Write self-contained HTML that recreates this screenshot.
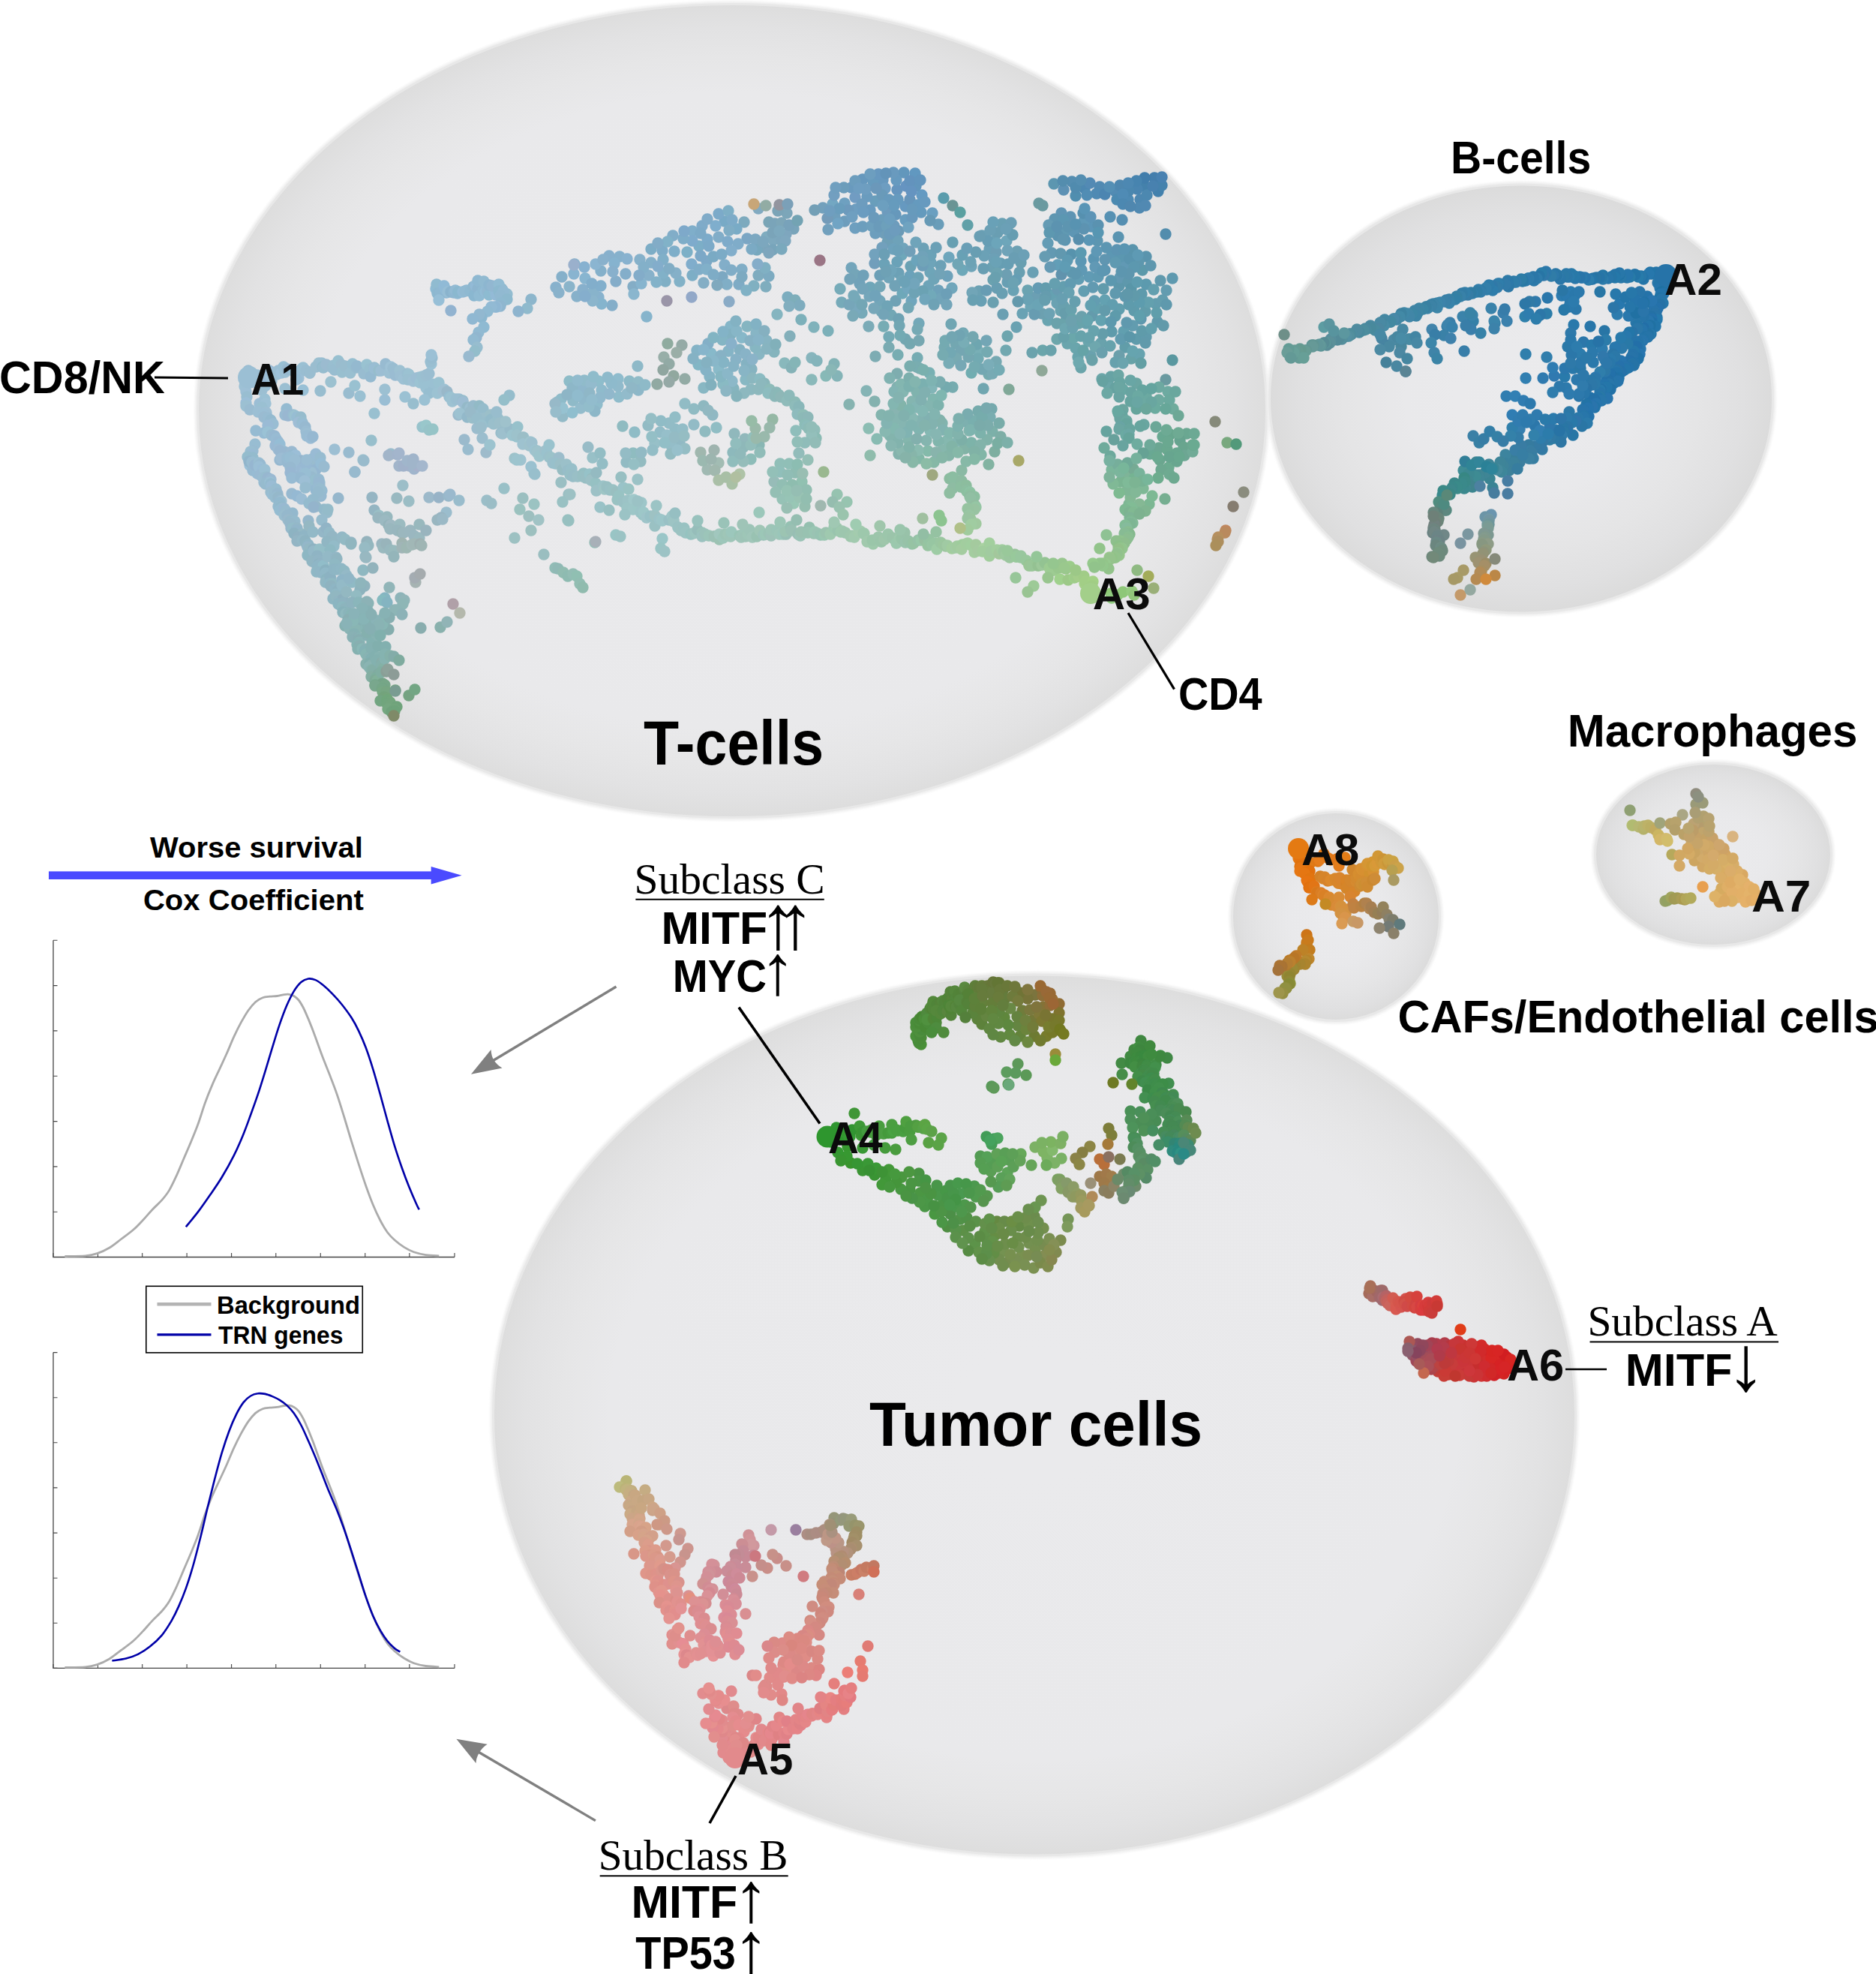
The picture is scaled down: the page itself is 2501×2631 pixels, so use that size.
<!DOCTYPE html>
<html><head><meta charset="utf-8"><title>Figure</title>
<style>html,body{margin:0;padding:0;background:#fff}svg{display:block}</style></head><body>
<svg width="2501" height="2631" viewBox="0 0 2501 2631">
<rect width="2501" height="2631" fill="#fff"/>
<defs>
<radialGradient id="gb" cx="50%" cy="50%" r="50%"><stop offset="0" stop-color="#eaeaec"/><stop offset="0.78" stop-color="#e9e9eb"/><stop offset="0.87" stop-color="#e6e6e7"/><stop offset="0.94" stop-color="#e2e2e3"/><stop offset="1" stop-color="#dddddd"/></radialGradient>
<radialGradient id="gs" cx="50%" cy="50%" r="50%"><stop offset="0" stop-color="#ebebed"/><stop offset="0.45" stop-color="#e9e9eb"/><stop offset="0.7" stop-color="#e5e5e6"/><stop offset="0.88" stop-color="#e0e0e1"/><stop offset="1" stop-color="#dbdbdb"/></radialGradient>
<filter id="bl" x="-5%" y="-5%" width="110%" height="110%"><feGaussianBlur stdDeviation="1.6"/></filter>
</defs>
<ellipse cx="976" cy="547.5" rx="714" ry="543.5" fill="none" stroke="#efefef" stroke-width="5" filter="url(#bl)"/>
<ellipse cx="976" cy="547.5" rx="713" ry="542.5" fill="url(#gb)"/>
<ellipse cx="976" cy="547.5" rx="712.5" ry="542.0" fill="none" stroke="#e8e8e8" stroke-width="3"/>
<ellipse cx="2028" cy="531.5" rx="337" ry="287" fill="none" stroke="#efefef" stroke-width="5" filter="url(#bl)"/>
<ellipse cx="2028" cy="531.5" rx="336" ry="286" fill="url(#gs)"/>
<ellipse cx="2028" cy="531.5" rx="335.5" ry="285.5" fill="none" stroke="#e8e8e8" stroke-width="3"/>
<ellipse cx="1781" cy="1221.5" rx="140" ry="140.5" fill="none" stroke="#efefef" stroke-width="5" filter="url(#bl)"/>
<ellipse cx="1781" cy="1221.5" rx="139" ry="139.5" fill="url(#gs)"/>
<ellipse cx="1781" cy="1221.5" rx="138.5" ry="139.0" fill="none" stroke="#e8e8e8" stroke-width="3"/>
<ellipse cx="2284" cy="1139" rx="159" ry="123" fill="none" stroke="#efefef" stroke-width="5" filter="url(#bl)"/>
<ellipse cx="2284" cy="1139" rx="158" ry="122" fill="url(#gs)"/>
<ellipse cx="2284" cy="1139" rx="157.5" ry="121.5" fill="none" stroke="#e8e8e8" stroke-width="3"/>
<ellipse cx="1379" cy="1886" rx="723" ry="588.5" fill="none" stroke="#efefef" stroke-width="5" filter="url(#bl)"/>
<ellipse cx="1379" cy="1886" rx="722" ry="587.5" fill="url(#gb)"/>
<ellipse cx="1379" cy="1886" rx="721.5" ry="587.0" fill="none" stroke="#e8e8e8" stroke-width="3"/>
<g>
<circle cx="331" cy="494" r="7.7" fill="#99bcd1"/>
<circle cx="335" cy="497" r="7.7" fill="#9dc3d7"/>
<circle cx="345" cy="513" r="7.7" fill="#9dc1d6"/>
<circle cx="343" cy="500" r="7.7" fill="#9dc1d5"/>
<circle cx="347" cy="503" r="7.7" fill="#98bdd1"/>
<circle cx="354" cy="514" r="7.7" fill="#9ac0d6"/>
<circle cx="357" cy="506" r="7.7" fill="#9ab9d4"/>
<circle cx="361" cy="501" r="7.7" fill="#9cc2d5"/>
<circle cx="359" cy="494" r="7.7" fill="#9bbdd7"/>
<circle cx="369" cy="499" r="7.7" fill="#9cc0d3"/>
<circle cx="371" cy="494" r="7.7" fill="#9abed3"/>
<circle cx="375" cy="497" r="7.7" fill="#9dc1da"/>
<circle cx="378" cy="489" r="7.7" fill="#99bfd3"/>
<circle cx="380" cy="496" r="7.7" fill="#9bc0d4"/>
<circle cx="383" cy="492" r="7.7" fill="#97b8cf"/>
<circle cx="392" cy="495" r="7.7" fill="#9bc1d6"/>
<circle cx="394" cy="496" r="7.7" fill="#9dc0d5"/>
<circle cx="398" cy="504" r="7.7" fill="#9cbed5"/>
<circle cx="402" cy="492" r="7.7" fill="#99bed4"/>
<circle cx="404" cy="490" r="7.7" fill="#9ac0d3"/>
<circle cx="408" cy="494" r="7.7" fill="#99bdd1"/>
<circle cx="413" cy="497" r="7.7" fill="#96bdd1"/>
<circle cx="413" cy="497" r="7.7" fill="#99bdd0"/>
<circle cx="425" cy="484" r="7.7" fill="#9bbfcf"/>
<circle cx="421" cy="489" r="7.7" fill="#9abdcf"/>
<circle cx="429" cy="484" r="7.7" fill="#99bed1"/>
<circle cx="430" cy="489" r="7.7" fill="#91bbcb"/>
<circle cx="431" cy="490" r="7.7" fill="#96bcce"/>
<circle cx="435" cy="486" r="7.7" fill="#9bbbd0"/>
<circle cx="443" cy="490" r="7.7" fill="#99bccf"/>
<circle cx="445" cy="487" r="7.7" fill="#99bed0"/>
<circle cx="446" cy="493" r="7.7" fill="#98bdd0"/>
<circle cx="451" cy="481" r="7.7" fill="#98c0d0"/>
<circle cx="455" cy="486" r="7.7" fill="#9abcce"/>
<circle cx="456" cy="496" r="7.7" fill="#98bfcf"/>
<circle cx="460" cy="488" r="7.7" fill="#99bdce"/>
<circle cx="467" cy="497" r="7.7" fill="#99bfd0"/>
<circle cx="470" cy="485" r="7.7" fill="#96bed0"/>
<circle cx="475" cy="490" r="7.7" fill="#96bbce"/>
<circle cx="476" cy="488" r="7.7" fill="#94b9cf"/>
<circle cx="485" cy="498" r="7.7" fill="#98bcd0"/>
<circle cx="489" cy="486" r="7.7" fill="#99c2d1"/>
<circle cx="493" cy="492" r="7.7" fill="#98bfd0"/>
<circle cx="494" cy="502" r="7.7" fill="#95bad0"/>
<circle cx="499" cy="490" r="7.7" fill="#98bccc"/>
<circle cx="499" cy="491" r="7.7" fill="#99bdd3"/>
<circle cx="505" cy="494" r="7.7" fill="#96bdcc"/>
<circle cx="508" cy="494" r="7.7" fill="#9cbed3"/>
<circle cx="514" cy="485" r="7.7" fill="#98bbd1"/>
<circle cx="519" cy="497" r="7.7" fill="#9cc0d3"/>
<circle cx="521" cy="489" r="7.7" fill="#9fc2d6"/>
<circle cx="524" cy="491" r="7.7" fill="#99bdd1"/>
<circle cx="527" cy="500" r="7.7" fill="#9abcd2"/>
<circle cx="533" cy="494" r="7.7" fill="#9dc1d2"/>
<circle cx="534" cy="501" r="7.7" fill="#9dbfd3"/>
<circle cx="538" cy="505" r="7.7" fill="#9ec1d4"/>
<circle cx="543" cy="498" r="7.7" fill="#9abed1"/>
<circle cx="545" cy="499" r="7.7" fill="#9bc2d2"/>
<circle cx="544" cy="506" r="7.7" fill="#9bc0d1"/>
<circle cx="551" cy="508" r="7.7" fill="#9ec0d3"/>
<circle cx="559" cy="503" r="7.7" fill="#9dc1d3"/>
<circle cx="555" cy="504" r="7.7" fill="#9cbed3"/>
<circle cx="560" cy="510" r="7.7" fill="#9cc3d3"/>
<circle cx="565" cy="511" r="7.7" fill="#9cc3cf"/>
<circle cx="568" cy="517" r="7.7" fill="#9cc2d3"/>
<circle cx="572" cy="513" r="7.7" fill="#9bbfcf"/>
<circle cx="576" cy="512" r="7.7" fill="#9ac0d2"/>
<circle cx="572" cy="524" r="7.7" fill="#97bed0"/>
<circle cx="585" cy="510" r="7.7" fill="#9ac2d1"/>
<circle cx="583" cy="524" r="7.7" fill="#9cc2d2"/>
<circle cx="592" cy="519" r="7.7" fill="#9dc1d3"/>
<circle cx="591" cy="521" r="7.7" fill="#9fbfd1"/>
<circle cx="596" cy="522" r="7.7" fill="#99b8c9"/>
<circle cx="599" cy="529" r="7.7" fill="#96bdd0"/>
<circle cx="601" cy="530" r="7.7" fill="#9cc2d1"/>
<circle cx="603" cy="535" r="7.7" fill="#9dc2d2"/>
<circle cx="608" cy="532" r="7.7" fill="#9abfd1"/>
<circle cx="612" cy="532" r="7.7" fill="#9bbed1"/>
<circle cx="617" cy="534" r="7.7" fill="#97bdcc"/>
<circle cx="617" cy="536" r="7.7" fill="#9dbdd3"/>
<circle cx="618" cy="550" r="7.7" fill="#9ac0ce"/>
<circle cx="623" cy="543" r="7.7" fill="#94b9c8"/>
<circle cx="627" cy="544" r="7.7" fill="#9cbfd0"/>
<circle cx="631" cy="541" r="7.7" fill="#97bacb"/>
<circle cx="639" cy="541" r="7.7" fill="#92bac6"/>
<circle cx="636" cy="554" r="7.7" fill="#98bece"/>
<circle cx="644" cy="545" r="7.7" fill="#95bccb"/>
<circle cx="641" cy="558" r="7.7" fill="#9abece"/>
<circle cx="647" cy="557" r="7.7" fill="#9abecb"/>
<circle cx="654" cy="553" r="7.7" fill="#9bbfc9"/>
<circle cx="651" cy="562" r="7.7" fill="#96bdcb"/>
<circle cx="655" cy="559" r="7.7" fill="#93bbca"/>
<circle cx="658" cy="565" r="7.7" fill="#9abfcb"/>
<circle cx="664" cy="558" r="7.7" fill="#98bfcb"/>
<circle cx="666" cy="564" r="7.7" fill="#9cbfca"/>
<circle cx="673" cy="564" r="7.7" fill="#9bbfca"/>
<circle cx="668" cy="577" r="7.7" fill="#99bdca"/>
<circle cx="670" cy="578" r="7.7" fill="#9dc0cd"/>
<circle cx="680" cy="572" r="7.7" fill="#97bbc9"/>
<circle cx="683" cy="580" r="7.7" fill="#9cc4ce"/>
<circle cx="690" cy="569" r="7.7" fill="#97c1cb"/>
<circle cx="689" cy="582" r="7.7" fill="#98c3ce"/>
<circle cx="689" cy="580" r="7.7" fill="#9dc2cb"/>
<circle cx="698" cy="583" r="7.7" fill="#9ec3d0"/>
<circle cx="697" cy="583" r="7.7" fill="#9bbec7"/>
<circle cx="697" cy="592" r="7.7" fill="#9ec2cf"/>
<circle cx="707" cy="589" r="7.7" fill="#a0c5cf"/>
<circle cx="706" cy="594" r="7.7" fill="#9fc2cc"/>
<circle cx="709" cy="590" r="7.7" fill="#9dc0ce"/>
<circle cx="713" cy="600" r="7.7" fill="#9dc3d0"/>
<circle cx="716" cy="601" r="7.7" fill="#9dc2cb"/>
<circle cx="716" cy="603" r="7.7" fill="#9fc3cc"/>
<circle cx="719" cy="608" r="7.7" fill="#9cc4cc"/>
<circle cx="727" cy="601" r="7.7" fill="#9fc0cb"/>
<circle cx="729" cy="604" r="7.7" fill="#9ac2cd"/>
<circle cx="732" cy="609" r="7.7" fill="#9bc0ca"/>
<circle cx="735" cy="610" r="7.7" fill="#9bc2c9"/>
<circle cx="737" cy="617" r="7.7" fill="#9abfcb"/>
<circle cx="745" cy="610" r="7.7" fill="#9cbdcb"/>
<circle cx="741" cy="618" r="7.7" fill="#98c0cb"/>
<circle cx="747" cy="619" r="7.7" fill="#9bbfc7"/>
<circle cx="750" cy="626" r="7.7" fill="#96bcc2"/>
<circle cx="755" cy="619" r="7.7" fill="#9bc0c9"/>
<circle cx="757" cy="627" r="7.7" fill="#97bdc8"/>
<circle cx="762" cy="625" r="7.7" fill="#97bfc9"/>
<circle cx="760" cy="633" r="7.7" fill="#97bfc6"/>
<circle cx="764" cy="635" r="7.7" fill="#97bdc7"/>
<circle cx="770" cy="635" r="7.7" fill="#99bfc6"/>
<circle cx="778" cy="631" r="7.7" fill="#94bec2"/>
<circle cx="777" cy="635" r="7.7" fill="#97bfc3"/>
<circle cx="781" cy="637" r="7.7" fill="#98bec3"/>
<circle cx="786" cy="632" r="7.7" fill="#96c2c8"/>
<circle cx="789" cy="638" r="7.7" fill="#96bdbf"/>
<circle cx="788" cy="640" r="7.7" fill="#9cc0c5"/>
<circle cx="794" cy="644" r="7.7" fill="#96c1c3"/>
<circle cx="795" cy="654" r="7.7" fill="#9dc1c6"/>
<circle cx="804" cy="648" r="7.7" fill="#9bc3c7"/>
<circle cx="808" cy="650" r="7.7" fill="#9bc1c3"/>
<circle cx="806" cy="652" r="7.7" fill="#9fc5c5"/>
<circle cx="809" cy="649" r="7.7" fill="#98bfc2"/>
<circle cx="813" cy="653" r="7.7" fill="#99c0c4"/>
<circle cx="817" cy="653" r="7.7" fill="#99c1c3"/>
<circle cx="822" cy="656" r="7.7" fill="#99bfc0"/>
<circle cx="831" cy="650" r="7.7" fill="#99c3c8"/>
<circle cx="823" cy="666" r="7.7" fill="#99c2c2"/>
<circle cx="825" cy="661" r="7.7" fill="#98c3c3"/>
<circle cx="831" cy="669" r="7.7" fill="#9ac1c4"/>
<circle cx="837" cy="667" r="7.7" fill="#9cc3c6"/>
<circle cx="836" cy="677" r="7.7" fill="#9cc5c6"/>
<circle cx="845" cy="666" r="7.7" fill="#a0c8ca"/>
<circle cx="844" cy="679" r="7.7" fill="#9dc6c7"/>
<circle cx="851" cy="675" r="7.7" fill="#9bc7c6"/>
<circle cx="855" cy="670" r="7.7" fill="#9ec6c9"/>
<circle cx="854" cy="683" r="7.7" fill="#9cc4c7"/>
<circle cx="857" cy="686" r="7.7" fill="#9ac4c5"/>
<circle cx="858" cy="683" r="7.7" fill="#9dc7c8"/>
<circle cx="862" cy="690" r="7.7" fill="#9ec4c9"/>
<circle cx="867" cy="688" r="7.7" fill="#98c1c6"/>
<circle cx="873" cy="687" r="7.7" fill="#9ec2c3"/>
<circle cx="873" cy="701" r="7.7" fill="#9ac1c3"/>
<circle cx="879" cy="692" r="7.7" fill="#9bc3c8"/>
<circle cx="882" cy="693" r="7.7" fill="#a0c5c7"/>
<circle cx="883" cy="694" r="7.7" fill="#9cc6c9"/>
<circle cx="892" cy="693" r="7.7" fill="#99c0c5"/>
<circle cx="896" cy="688" r="7.7" fill="#9ec5c7"/>
<circle cx="898" cy="693" r="7.7" fill="#98c3c6"/>
<circle cx="898" cy="695" r="7.7" fill="#9dc4c4"/>
<circle cx="904" cy="703" r="7.7" fill="#9cc3c5"/>
<circle cx="904" cy="703" r="7.7" fill="#9ac2c3"/>
<circle cx="908" cy="707" r="7.7" fill="#9bc2c1"/>
<circle cx="912" cy="704" r="7.7" fill="#99c2c2"/>
<circle cx="914" cy="710" r="7.7" fill="#9bc3c2"/>
<circle cx="921" cy="712" r="7.7" fill="#95c3c0"/>
<circle cx="924" cy="711" r="7.7" fill="#9ac2bf"/>
<circle cx="927" cy="710" r="7.7" fill="#9cc5bf"/>
<circle cx="930" cy="706" r="7.7" fill="#96bdba"/>
<circle cx="936" cy="710" r="7.7" fill="#99c2ba"/>
<circle cx="936" cy="715" r="7.7" fill="#9bc2bf"/>
<circle cx="940" cy="712" r="7.7" fill="#9bc2ba"/>
<circle cx="945" cy="714" r="7.7" fill="#9cc5b9"/>
<circle cx="952" cy="715" r="7.7" fill="#9fc6bd"/>
<circle cx="952" cy="715" r="7.7" fill="#9bc1b5"/>
<circle cx="959" cy="719" r="7.7" fill="#9cc2b3"/>
<circle cx="959" cy="712" r="7.7" fill="#a1c7be"/>
<circle cx="964" cy="717" r="7.7" fill="#9dc6ba"/>
<circle cx="967" cy="712" r="7.7" fill="#9cc4b6"/>
<circle cx="971" cy="712" r="7.7" fill="#9fc6b7"/>
<circle cx="974" cy="715" r="7.7" fill="#9ec5b8"/>
<circle cx="975" cy="709" r="7.7" fill="#9cc7bc"/>
<circle cx="986" cy="714" r="7.7" fill="#98c4b5"/>
<circle cx="988" cy="716" r="7.7" fill="#9ec4b8"/>
<circle cx="991" cy="712" r="7.7" fill="#9dc5b8"/>
<circle cx="994" cy="715" r="7.7" fill="#9dc3b6"/>
<circle cx="997" cy="712" r="7.7" fill="#9ec6b7"/>
<circle cx="999" cy="706" r="7.7" fill="#9dc4b7"/>
<circle cx="1003" cy="716" r="7.7" fill="#a0c6b9"/>
<circle cx="1009" cy="715" r="7.7" fill="#99c2b2"/>
<circle cx="1013" cy="707" r="7.7" fill="#a0c6b6"/>
<circle cx="1018" cy="713" r="7.7" fill="#9cc2ba"/>
<circle cx="1020" cy="712" r="7.7" fill="#9cc7b7"/>
<circle cx="1025" cy="711" r="7.7" fill="#9bc3b5"/>
<circle cx="1028" cy="714" r="7.7" fill="#9ec2b8"/>
<circle cx="1028" cy="706" r="7.7" fill="#9dc5b7"/>
<circle cx="1036" cy="707" r="7.7" fill="#9bc5b8"/>
<circle cx="1039" cy="712" r="7.7" fill="#9dc6b8"/>
<circle cx="1044" cy="712" r="7.7" fill="#9ac6ba"/>
<circle cx="1048" cy="712" r="7.7" fill="#98bfb5"/>
<circle cx="1047" cy="708" r="7.7" fill="#9cc4b2"/>
<circle cx="1054" cy="702" r="7.7" fill="#95c1b2"/>
<circle cx="1055" cy="707" r="7.7" fill="#9ac0b3"/>
<circle cx="1064" cy="712" r="7.7" fill="#98beb4"/>
<circle cx="1067" cy="714" r="7.7" fill="#9ac3b6"/>
<circle cx="1071" cy="710" r="7.7" fill="#9bc4b5"/>
<circle cx="1068" cy="709" r="7.7" fill="#9ac1b1"/>
<circle cx="1079" cy="703" r="7.7" fill="#94c0af"/>
<circle cx="1077" cy="710" r="7.7" fill="#98c2b1"/>
<circle cx="1085" cy="711" r="7.7" fill="#9ac2b1"/>
<circle cx="1086" cy="709" r="7.7" fill="#99c6b3"/>
<circle cx="1090" cy="711" r="7.7" fill="#9ac3b3"/>
<circle cx="1094" cy="713" r="7.7" fill="#97c3b2"/>
<circle cx="1099" cy="713" r="7.7" fill="#9ac7b1"/>
<circle cx="1101" cy="710" r="7.7" fill="#9bc3af"/>
<circle cx="1107" cy="712" r="7.7" fill="#9fc9af"/>
<circle cx="1112" cy="703" r="7.7" fill="#9bc8b0"/>
<circle cx="1116" cy="704" r="7.7" fill="#a1c9af"/>
<circle cx="1117" cy="707" r="7.7" fill="#99c4ae"/>
<circle cx="1123" cy="708" r="7.7" fill="#9fc6b0"/>
<circle cx="1121" cy="709" r="7.7" fill="#9dc8ae"/>
<circle cx="1127" cy="710" r="7.7" fill="#9dc6ae"/>
<circle cx="1136" cy="714" r="7.7" fill="#a1cbb0"/>
<circle cx="1134" cy="715" r="7.7" fill="#9fc7ad"/>
<circle cx="1139" cy="716" r="7.7" fill="#a2caaf"/>
<circle cx="1145" cy="709" r="7.7" fill="#a3ccad"/>
<circle cx="1147" cy="708" r="7.7" fill="#a4cbaf"/>
<circle cx="1152" cy="711" r="7.7" fill="#a2c8ae"/>
<circle cx="1151" cy="711" r="7.7" fill="#9dc8ac"/>
<circle cx="1156" cy="722" r="7.7" fill="#a1c9ad"/>
<circle cx="1164" cy="725" r="7.7" fill="#9ec9ab"/>
<circle cx="1163" cy="720" r="7.7" fill="#9ac6a9"/>
<circle cx="1172" cy="717" r="7.7" fill="#9ec7ab"/>
<circle cx="1171" cy="716" r="7.7" fill="#9cc5ab"/>
<circle cx="1175" cy="722" r="7.7" fill="#9ac5a9"/>
<circle cx="1179" cy="719" r="7.7" fill="#9fc6ab"/>
<circle cx="1184" cy="712" r="7.7" fill="#98c8ac"/>
<circle cx="1184" cy="713" r="7.7" fill="#9cc6ab"/>
<circle cx="1190" cy="717" r="7.7" fill="#9bc4aa"/>
<circle cx="1195" cy="724" r="7.7" fill="#9bc8ad"/>
<circle cx="1199" cy="718" r="7.7" fill="#9dc8ac"/>
<circle cx="1202" cy="718" r="7.7" fill="#97c4a8"/>
<circle cx="1206" cy="710" r="7.7" fill="#98c2a9"/>
<circle cx="1207" cy="723" r="7.7" fill="#98c3ac"/>
<circle cx="1211" cy="721" r="7.7" fill="#97c2a8"/>
<circle cx="1216" cy="725" r="7.7" fill="#94c3a8"/>
<circle cx="1218" cy="724" r="7.7" fill="#96c3a3"/>
<circle cx="1224" cy="720" r="7.7" fill="#96c2a7"/>
<circle cx="1228" cy="720" r="7.7" fill="#97c8a8"/>
<circle cx="1233" cy="720" r="7.7" fill="#97bfa0"/>
<circle cx="1237" cy="727" r="7.7" fill="#97c4a0"/>
<circle cx="1238" cy="719" r="7.7" fill="#95c4a2"/>
<circle cx="1243" cy="726" r="7.7" fill="#98c6a4"/>
<circle cx="1246" cy="724" r="7.7" fill="#97c6a2"/>
<circle cx="1249" cy="732" r="7.7" fill="#9ecca5"/>
<circle cx="1254" cy="723" r="7.7" fill="#9ac6a1"/>
<circle cx="1258" cy="726" r="7.7" fill="#9bc79e"/>
<circle cx="1261" cy="728" r="7.7" fill="#9cc49f"/>
<circle cx="1263" cy="727" r="7.7" fill="#a0caa3"/>
<circle cx="1269" cy="731" r="7.7" fill="#a2cd9e"/>
<circle cx="1274" cy="730" r="7.7" fill="#a2cba4"/>
<circle cx="1276" cy="728" r="7.7" fill="#a1cb9f"/>
<circle cx="1283" cy="726" r="7.7" fill="#9ecc9c"/>
<circle cx="1282" cy="732" r="7.7" fill="#a4cca0"/>
<circle cx="1288" cy="725" r="7.7" fill="#a2ce9e"/>
<circle cx="1290" cy="724" r="7.7" fill="#a2cd9f"/>
<circle cx="1295" cy="727" r="7.7" fill="#a1cf9f"/>
<circle cx="1299" cy="736" r="7.7" fill="#a4cda0"/>
<circle cx="1301" cy="726" r="7.7" fill="#a4ca9e"/>
<circle cx="1304" cy="734" r="7.7" fill="#a5caa0"/>
<circle cx="1312" cy="731" r="7.7" fill="#aad2a2"/>
<circle cx="1310" cy="735" r="7.7" fill="#a2cd9e"/>
<circle cx="1319" cy="724" r="7.7" fill="#a2cf9e"/>
<circle cx="1319" cy="741" r="7.7" fill="#a1cd9c"/>
<circle cx="1321" cy="735" r="7.7" fill="#a1cba0"/>
<circle cx="1329" cy="733" r="7.7" fill="#a2ce9e"/>
<circle cx="1332" cy="738" r="7.7" fill="#a3c79c"/>
<circle cx="1336" cy="733" r="7.7" fill="#a0cd9e"/>
<circle cx="1338" cy="735" r="7.7" fill="#9bc69d"/>
<circle cx="1341" cy="740" r="7.7" fill="#9ec99e"/>
<circle cx="1346" cy="743" r="7.7" fill="#9bc69e"/>
<circle cx="1353" cy="739" r="7.7" fill="#97c29b"/>
<circle cx="1355" cy="742" r="7.7" fill="#9ac99d"/>
<circle cx="1355" cy="742" r="7.7" fill="#98c99b"/>
<circle cx="1361" cy="741" r="7.7" fill="#99c69f"/>
<circle cx="1361" cy="743" r="7.7" fill="#98c79e"/>
<circle cx="1368" cy="747" r="7.7" fill="#98c79c"/>
<circle cx="1372" cy="753" r="7.7" fill="#93c594"/>
<circle cx="1372" cy="754" r="7.7" fill="#9ac596"/>
<circle cx="1376" cy="754" r="7.7" fill="#99c698"/>
<circle cx="1383" cy="750" r="7.7" fill="#98c695"/>
<circle cx="1384" cy="754" r="7.7" fill="#94c192"/>
<circle cx="1389" cy="753" r="7.7" fill="#9dc89a"/>
<circle cx="1393" cy="750" r="7.7" fill="#93c392"/>
<circle cx="1399" cy="757" r="7.7" fill="#9eca93"/>
<circle cx="1401" cy="761" r="7.7" fill="#a1cb96"/>
<circle cx="1401" cy="756" r="7.7" fill="#9ccc92"/>
<circle cx="1406" cy="760" r="7.7" fill="#9dcb92"/>
<circle cx="1411" cy="757" r="7.7" fill="#98c78d"/>
<circle cx="1416" cy="751" r="7.7" fill="#98c68e"/>
<circle cx="1413" cy="772" r="7.7" fill="#a0d18d"/>
<circle cx="1421" cy="758" r="7.7" fill="#99c689"/>
<circle cx="1426" cy="755" r="7.7" fill="#9ccc8a"/>
<circle cx="1424" cy="773" r="7.7" fill="#9dc988"/>
<circle cx="1432" cy="770" r="7.7" fill="#9ecf8a"/>
<circle cx="1434" cy="769" r="7.7" fill="#9fcb89"/>
<circle cx="1438" cy="768" r="7.7" fill="#a4cd8a"/>
<circle cx="1445" cy="768" r="7.7" fill="#a1cc87"/>
<circle cx="1446" cy="778" r="7.7" fill="#a5cf8a"/>
<circle cx="1447" cy="775" r="7.7" fill="#a2ce86"/>
<circle cx="1457" cy="775" r="7.7" fill="#a3d185"/>
<circle cx="1449" cy="789" r="7.7" fill="#a3d087"/>
<circle cx="1456" cy="781" r="7.7" fill="#a1cd85"/>
<circle cx="427" cy="521" r="7.7" fill="#98bdcf"/>
<circle cx="441" cy="509" r="7.7" fill="#9cc1d0"/>
<circle cx="465" cy="524" r="7.7" fill="#99bccf"/>
<circle cx="480" cy="528" r="7.7" fill="#9ac0d2"/>
<circle cx="473" cy="514" r="7.7" fill="#99c1d1"/>
<circle cx="513" cy="533" r="7.7" fill="#9abed4"/>
<circle cx="513" cy="519" r="7.7" fill="#9cc0d2"/>
<circle cx="540" cy="529" r="7.7" fill="#9bc1d3"/>
<circle cx="551" cy="538" r="7.7" fill="#98bece"/>
<circle cx="566" cy="533" r="7.7" fill="#9bc1d3"/>
<circle cx="349" cy="520" r="7.7" fill="#9cbfd2"/>
<circle cx="362" cy="508" r="7.7" fill="#9dbfd4"/>
<circle cx="395" cy="506" r="7.7" fill="#97bdd4"/>
<circle cx="404" cy="520" r="7.7" fill="#99c0d6"/>
<circle cx="380" cy="518" r="7.7" fill="#9bbfd2"/>
<circle cx="565" cy="511" r="7.7" fill="#9ac1d2"/>
<circle cx="563" cy="502" r="7.7" fill="#9ac0d1"/>
<circle cx="568" cy="500" r="7.7" fill="#9bbed0"/>
<circle cx="572" cy="498" r="7.7" fill="#9abdd0"/>
<circle cx="575" cy="485" r="7.7" fill="#9ac2d5"/>
<circle cx="574" cy="482" r="7.7" fill="#99bed1"/>
<circle cx="576" cy="477" r="7.7" fill="#97bcd0"/>
<circle cx="575" cy="473" r="7.7" fill="#9bc0d5"/>
<circle cx="581" cy="385" r="7.7" fill="#8fbbd4"/>
<circle cx="582" cy="379" r="7.7" fill="#90bbd0"/>
<circle cx="583" cy="391" r="7.7" fill="#8db8d0"/>
<circle cx="587" cy="390" r="7.7" fill="#8fb8d1"/>
<circle cx="595" cy="390" r="7.7" fill="#8eb6d1"/>
<circle cx="592" cy="381" r="7.7" fill="#90bad6"/>
<circle cx="594" cy="386" r="7.7" fill="#90bad6"/>
<circle cx="597" cy="389" r="7.7" fill="#97bed5"/>
<circle cx="601" cy="389" r="7.7" fill="#8ab3cd"/>
<circle cx="605" cy="390" r="7.7" fill="#8eb7d1"/>
<circle cx="607" cy="387" r="7.7" fill="#92bad3"/>
<circle cx="610" cy="391" r="7.7" fill="#8eb8d2"/>
<circle cx="611" cy="389" r="7.7" fill="#8ab8cf"/>
<circle cx="617" cy="389" r="7.7" fill="#92bbd6"/>
<circle cx="622" cy="387" r="7.7" fill="#8fb9d3"/>
<circle cx="620" cy="388" r="7.7" fill="#91bad2"/>
<circle cx="627" cy="388" r="7.7" fill="#8eb9d1"/>
<circle cx="631" cy="382" r="7.7" fill="#8eb7ce"/>
<circle cx="632" cy="394" r="7.7" fill="#8ab7d0"/>
<circle cx="634" cy="381" r="7.7" fill="#93bad6"/>
<circle cx="637" cy="385" r="7.7" fill="#8db5cf"/>
<circle cx="639" cy="394" r="7.7" fill="#90bbd3"/>
<circle cx="644" cy="387" r="7.7" fill="#8fb9d1"/>
<circle cx="647" cy="389" r="7.7" fill="#93bcd5"/>
<circle cx="649" cy="381" r="7.7" fill="#90bad5"/>
<circle cx="650" cy="389" r="7.7" fill="#92b8d0"/>
<circle cx="652" cy="393" r="7.7" fill="#8dbbd1"/>
<circle cx="660" cy="386" r="7.7" fill="#90b6d0"/>
<circle cx="659" cy="386" r="7.7" fill="#91bcd5"/>
<circle cx="661" cy="393" r="7.7" fill="#93bad6"/>
<circle cx="665" cy="384" r="7.7" fill="#8ab3cb"/>
<circle cx="668" cy="390" r="7.7" fill="#8ab3ce"/>
<circle cx="669" cy="385" r="7.7" fill="#8eb7cb"/>
<circle cx="676" cy="392" r="7.7" fill="#93bcd0"/>
<circle cx="637" cy="374" r="7.7" fill="#8eb8d1"/>
<circle cx="645" cy="375" r="7.7" fill="#91bad1"/>
<circle cx="652" cy="380" r="7.7" fill="#8db6d0"/>
<circle cx="656" cy="381" r="7.7" fill="#92b7d1"/>
<circle cx="665" cy="379" r="7.7" fill="#92bcd3"/>
<circle cx="665" cy="388" r="7.7" fill="#8db9cf"/>
<circle cx="671" cy="388" r="7.7" fill="#92bad2"/>
<circle cx="667" cy="394" r="7.7" fill="#91b9d1"/>
<circle cx="676" cy="399" r="7.7" fill="#8db9ce"/>
<circle cx="668" cy="404" r="7.7" fill="#8eb9d0"/>
<circle cx="667" cy="408" r="7.7" fill="#8fb6cf"/>
<circle cx="662" cy="409" r="7.7" fill="#96bbd5"/>
<circle cx="660" cy="409" r="7.7" fill="#8fb7d3"/>
<circle cx="655" cy="409" r="7.7" fill="#92bad4"/>
<circle cx="650" cy="415" r="7.7" fill="#90bad2"/>
<circle cx="642" cy="423" r="7.7" fill="#8bb7cf"/>
<circle cx="639" cy="419" r="7.7" fill="#92b8d0"/>
<circle cx="630" cy="425" r="7.7" fill="#90b8d2"/>
<circle cx="645" cy="436" r="7.7" fill="#8fbad2"/>
<circle cx="638" cy="443" r="7.7" fill="#91bad2"/>
<circle cx="635" cy="450" r="7.7" fill="#91b6cf"/>
<circle cx="631" cy="453" r="7.7" fill="#92bad1"/>
<circle cx="636" cy="463" r="7.7" fill="#97bdcf"/>
<circle cx="633" cy="468" r="7.7" fill="#93bdcb"/>
<circle cx="625" cy="475" r="7.7" fill="#99bacf"/>
<circle cx="601" cy="414" r="7.7" fill="#92b3d0"/>
<circle cx="585" cy="400" r="7.7" fill="#97bfd7"/>
<circle cx="708" cy="399" r="7.7" fill="#8db6cc"/>
<circle cx="703" cy="411" r="7.7" fill="#90bacd"/>
<circle cx="691" cy="415" r="7.7" fill="#8eb4ce"/>
<circle cx="741" cy="383" r="7.7" fill="#87b1cc"/>
<circle cx="745" cy="390" r="7.7" fill="#89b2cb"/>
<circle cx="333" cy="503" r="7.7" fill="#9fc0da"/>
<circle cx="328" cy="513" r="7.7" fill="#9dbed1"/>
<circle cx="326" cy="515" r="7.7" fill="#9dc1d5"/>
<circle cx="328" cy="522" r="7.7" fill="#9ec0d6"/>
<circle cx="329" cy="529" r="7.7" fill="#99bed1"/>
<circle cx="328" cy="537" r="7.7" fill="#9cbfd8"/>
<circle cx="328" cy="541" r="7.7" fill="#9cc0d2"/>
<circle cx="333" cy="546" r="7.7" fill="#9abcd1"/>
<circle cx="353" cy="532" r="7.7" fill="#9bc1d4"/>
<circle cx="346" cy="538" r="7.7" fill="#9bbed5"/>
<circle cx="354" cy="538" r="7.7" fill="#9ec2d6"/>
<circle cx="349" cy="543" r="7.7" fill="#9ac0d2"/>
<circle cx="344" cy="549" r="7.7" fill="#9cbfd4"/>
<circle cx="355" cy="550" r="7.7" fill="#9ebfd4"/>
<circle cx="351" cy="552" r="7.7" fill="#9bbfd5"/>
<circle cx="352" cy="556" r="7.7" fill="#9abbd1"/>
<circle cx="357" cy="557" r="7.7" fill="#98bcd2"/>
<circle cx="361" cy="560" r="7.7" fill="#94bacf"/>
<circle cx="364" cy="565" r="7.7" fill="#99bdd3"/>
<circle cx="357" cy="567" r="7.7" fill="#9abbd5"/>
<circle cx="352" cy="577" r="7.7" fill="#95bbd3"/>
<circle cx="357" cy="576" r="7.7" fill="#9ac2d5"/>
<circle cx="362" cy="580" r="7.7" fill="#97bbd0"/>
<circle cx="366" cy="581" r="7.7" fill="#97b8d1"/>
<circle cx="368" cy="585" r="7.7" fill="#97bcd0"/>
<circle cx="368" cy="585" r="7.7" fill="#98bbd3"/>
<circle cx="371" cy="589" r="7.7" fill="#97b9d2"/>
<circle cx="367" cy="594" r="7.7" fill="#99b9d3"/>
<circle cx="373" cy="592" r="7.7" fill="#95bdd5"/>
<circle cx="371" cy="599" r="7.7" fill="#9bbad2"/>
<circle cx="377" cy="601" r="7.7" fill="#9abed2"/>
<circle cx="377" cy="602" r="7.7" fill="#9bbed4"/>
<circle cx="381" cy="603" r="7.7" fill="#97b8cf"/>
<circle cx="381" cy="610" r="7.7" fill="#94b9d1"/>
<circle cx="389" cy="602" r="7.7" fill="#9ab9d0"/>
<circle cx="391" cy="606" r="7.7" fill="#95b9d0"/>
<circle cx="394" cy="607" r="7.7" fill="#9bbed7"/>
<circle cx="392" cy="615" r="7.7" fill="#99bbd5"/>
<circle cx="394" cy="618" r="7.7" fill="#98bad1"/>
<circle cx="402" cy="616" r="7.7" fill="#97bbd4"/>
<circle cx="401" cy="624" r="7.7" fill="#98bdd4"/>
<circle cx="403" cy="626" r="7.7" fill="#97b9d2"/>
<circle cx="400" cy="629" r="7.7" fill="#9cbdd4"/>
<circle cx="415" cy="624" r="7.7" fill="#97bdd3"/>
<circle cx="413" cy="633" r="7.7" fill="#9bbfd4"/>
<circle cx="414" cy="633" r="7.7" fill="#94bad1"/>
<circle cx="411" cy="641" r="7.7" fill="#9abed7"/>
<circle cx="414" cy="644" r="7.7" fill="#97b9d3"/>
<circle cx="420" cy="641" r="7.7" fill="#99bdd1"/>
<circle cx="423" cy="644" r="7.7" fill="#9ebcd3"/>
<circle cx="426" cy="643" r="7.7" fill="#96becf"/>
<circle cx="426" cy="647" r="7.7" fill="#97b9ce"/>
<circle cx="421" cy="653" r="7.7" fill="#93b8d1"/>
<circle cx="429" cy="654" r="7.7" fill="#95bbd3"/>
<circle cx="427" cy="661" r="7.7" fill="#97bbd3"/>
<circle cx="428" cy="661" r="7.7" fill="#96b9d0"/>
<circle cx="382" cy="545" r="7.7" fill="#95bbd1"/>
<circle cx="380" cy="553" r="7.7" fill="#99bbd2"/>
<circle cx="384" cy="554" r="7.7" fill="#99b7d1"/>
<circle cx="391" cy="553" r="7.7" fill="#98bcd1"/>
<circle cx="393" cy="554" r="7.7" fill="#9bc2d1"/>
<circle cx="396" cy="556" r="7.7" fill="#97bdd3"/>
<circle cx="401" cy="556" r="7.7" fill="#96bccd"/>
<circle cx="398" cy="563" r="7.7" fill="#9ebdd5"/>
<circle cx="403" cy="563" r="7.7" fill="#97bdcf"/>
<circle cx="404" cy="566" r="7.7" fill="#98bcd4"/>
<circle cx="407" cy="569" r="7.7" fill="#97b9d0"/>
<circle cx="408" cy="575" r="7.7" fill="#9abcd2"/>
<circle cx="409" cy="578" r="7.7" fill="#9cbed3"/>
<circle cx="409" cy="581" r="7.7" fill="#99bcd3"/>
<circle cx="414" cy="584" r="7.7" fill="#9abcd5"/>
<circle cx="417" cy="582" r="7.7" fill="#96b8d1"/>
<circle cx="341" cy="574" r="7.7" fill="#96bbd2"/>
<circle cx="340" cy="592" r="7.7" fill="#98bdd2"/>
<circle cx="337" cy="601" r="7.7" fill="#99bbd1"/>
<circle cx="334" cy="602" r="7.7" fill="#99bed1"/>
<circle cx="335" cy="606" r="7.7" fill="#99bbd4"/>
<circle cx="335" cy="615" r="7.7" fill="#98bace"/>
<circle cx="333" cy="620" r="7.7" fill="#9bc1d8"/>
<circle cx="337" cy="621" r="7.7" fill="#99bcce"/>
<circle cx="337" cy="627" r="7.7" fill="#97bad1"/>
<circle cx="343" cy="631" r="7.7" fill="#97bbd3"/>
<circle cx="350" cy="632" r="7.7" fill="#9abbd2"/>
<circle cx="353" cy="638" r="7.7" fill="#96b9d0"/>
<circle cx="352" cy="643" r="7.7" fill="#98bcd1"/>
<circle cx="354" cy="645" r="7.7" fill="#96b9cf"/>
<circle cx="373" cy="601" r="7.7" fill="#98b7d0"/>
<circle cx="373" cy="613" r="7.7" fill="#96b8d0"/>
<circle cx="375" cy="611" r="7.7" fill="#9cbcd3"/>
<circle cx="383" cy="616" r="7.7" fill="#97b9d0"/>
<circle cx="383" cy="610" r="7.7" fill="#97bbd2"/>
<circle cx="387" cy="610" r="7.7" fill="#97bdd3"/>
<circle cx="393" cy="625" r="7.7" fill="#97b9d2"/>
<circle cx="391" cy="622" r="7.7" fill="#9bbcd6"/>
<circle cx="402" cy="614" r="7.7" fill="#96b6ce"/>
<circle cx="403" cy="625" r="7.7" fill="#99b9d3"/>
<circle cx="416" cy="612" r="7.7" fill="#98bcd2"/>
<circle cx="414" cy="621" r="7.7" fill="#99bccf"/>
<circle cx="406" cy="628" r="7.7" fill="#9abbd5"/>
<circle cx="421" cy="626" r="7.7" fill="#95b7d1"/>
<circle cx="415" cy="630" r="7.7" fill="#9cbfd2"/>
<circle cx="415" cy="636" r="7.7" fill="#97bace"/>
<circle cx="420" cy="640" r="7.7" fill="#96bece"/>
<circle cx="425" cy="639" r="7.7" fill="#96bad0"/>
<circle cx="425" cy="644" r="7.7" fill="#97b8d1"/>
<circle cx="424" cy="650" r="7.7" fill="#97bad1"/>
<circle cx="427" cy="652" r="7.7" fill="#97bccf"/>
<circle cx="424" cy="659" r="7.7" fill="#98bacf"/>
<circle cx="330" cy="609" r="7.7" fill="#94bccd"/>
<circle cx="337" cy="610" r="7.7" fill="#94bbcd"/>
<circle cx="332" cy="615" r="7.7" fill="#91b5cb"/>
<circle cx="336" cy="616" r="7.7" fill="#98bed2"/>
<circle cx="337" cy="617" r="7.7" fill="#9abcd1"/>
<circle cx="340" cy="620" r="7.7" fill="#96b6d1"/>
<circle cx="345" cy="617" r="7.7" fill="#99bed2"/>
<circle cx="347" cy="619" r="7.7" fill="#97bad1"/>
<circle cx="345" cy="622" r="7.7" fill="#93b8cd"/>
<circle cx="345" cy="622" r="7.7" fill="#9bbfd6"/>
<circle cx="350" cy="626" r="7.7" fill="#99bdd7"/>
<circle cx="347" cy="633" r="7.7" fill="#99bad2"/>
<circle cx="353" cy="626" r="7.7" fill="#9bc0d4"/>
<circle cx="351" cy="637" r="7.7" fill="#99bcd1"/>
<circle cx="355" cy="636" r="7.7" fill="#97bdcf"/>
<circle cx="357" cy="637" r="7.7" fill="#97b7d0"/>
<circle cx="355" cy="644" r="7.7" fill="#96bbce"/>
<circle cx="361" cy="639" r="7.7" fill="#9ab9d2"/>
<circle cx="360" cy="643" r="7.7" fill="#9ac0d4"/>
<circle cx="361" cy="645" r="7.7" fill="#94bacf"/>
<circle cx="362" cy="648" r="7.7" fill="#9abcd4"/>
<circle cx="368" cy="652" r="7.7" fill="#97bcd0"/>
<circle cx="361" cy="656" r="7.7" fill="#9abcce"/>
<circle cx="363" cy="659" r="7.7" fill="#99bed3"/>
<circle cx="366" cy="657" r="7.7" fill="#98bccf"/>
<circle cx="370" cy="658" r="7.7" fill="#96b8ce"/>
<circle cx="367" cy="663" r="7.7" fill="#97bccf"/>
<circle cx="371" cy="663" r="7.7" fill="#95b8ca"/>
<circle cx="373" cy="667" r="7.7" fill="#96b8ce"/>
<circle cx="375" cy="668" r="7.7" fill="#9dbfd0"/>
<circle cx="373" cy="670" r="7.7" fill="#93bacf"/>
<circle cx="371" cy="675" r="7.7" fill="#94bace"/>
<circle cx="375" cy="676" r="7.7" fill="#92b9cc"/>
<circle cx="376" cy="678" r="7.7" fill="#9abdcf"/>
<circle cx="373" cy="680" r="7.7" fill="#95bcd1"/>
<circle cx="379" cy="678" r="7.7" fill="#98b9d1"/>
<circle cx="381" cy="681" r="7.7" fill="#97bbce"/>
<circle cx="379" cy="687" r="7.7" fill="#99bdce"/>
<circle cx="390" cy="684" r="7.7" fill="#93b8cd"/>
<circle cx="383" cy="687" r="7.7" fill="#95b8cc"/>
<circle cx="384" cy="693" r="7.7" fill="#99b9cb"/>
<circle cx="387" cy="695" r="7.7" fill="#94b9ca"/>
<circle cx="388" cy="697" r="7.7" fill="#94bacc"/>
<circle cx="393" cy="695" r="7.7" fill="#95bacc"/>
<circle cx="387" cy="698" r="7.7" fill="#95b8ca"/>
<circle cx="388" cy="704" r="7.7" fill="#95b7cb"/>
<circle cx="390" cy="704" r="7.7" fill="#94bcc9"/>
<circle cx="396" cy="704" r="7.7" fill="#94b8c8"/>
<circle cx="395" cy="707" r="7.7" fill="#92b6ca"/>
<circle cx="392" cy="711" r="7.7" fill="#8db3c2"/>
<circle cx="403" cy="712" r="7.7" fill="#94b9c5"/>
<circle cx="397" cy="716" r="7.7" fill="#90b2c2"/>
<circle cx="406" cy="714" r="7.7" fill="#8fb5c5"/>
<circle cx="396" cy="721" r="7.7" fill="#93b5c4"/>
<circle cx="403" cy="720" r="7.7" fill="#93b8c6"/>
<circle cx="407" cy="721" r="7.7" fill="#8eb4c2"/>
<circle cx="409" cy="726" r="7.7" fill="#8fb6c2"/>
<circle cx="411" cy="726" r="7.7" fill="#8fb6c6"/>
<circle cx="410" cy="729" r="7.7" fill="#94b7c9"/>
<circle cx="412" cy="732" r="7.7" fill="#93b8c4"/>
<circle cx="418" cy="732" r="7.7" fill="#8db2c1"/>
<circle cx="410" cy="740" r="7.7" fill="#8db7c3"/>
<circle cx="418" cy="735" r="7.7" fill="#94b9c8"/>
<circle cx="426" cy="732" r="7.7" fill="#94bec7"/>
<circle cx="423" cy="741" r="7.7" fill="#8fb4c4"/>
<circle cx="417" cy="748" r="7.7" fill="#8db4bf"/>
<circle cx="416" cy="748" r="7.7" fill="#91b6c3"/>
<circle cx="424" cy="747" r="7.7" fill="#91b5c5"/>
<circle cx="425" cy="752" r="7.7" fill="#8cb3c0"/>
<circle cx="427" cy="752" r="7.7" fill="#91b4c5"/>
<circle cx="423" cy="755" r="7.7" fill="#8fb6c6"/>
<circle cx="431" cy="754" r="7.7" fill="#91bdc9"/>
<circle cx="422" cy="762" r="7.7" fill="#8fb7c5"/>
<circle cx="428" cy="763" r="7.7" fill="#90b6c6"/>
<circle cx="434" cy="760" r="7.7" fill="#8ab2c0"/>
<circle cx="434" cy="764" r="7.7" fill="#90b8c7"/>
<circle cx="435" cy="769" r="7.7" fill="#91b8c7"/>
<circle cx="435" cy="772" r="7.7" fill="#8bb5c1"/>
<circle cx="441" cy="771" r="7.7" fill="#90b6c4"/>
<circle cx="434" cy="776" r="7.7" fill="#91b7c3"/>
<circle cx="440" cy="769" r="7.7" fill="#8cb2c2"/>
<circle cx="439" cy="778" r="7.7" fill="#8eb7c5"/>
<circle cx="443" cy="778" r="7.7" fill="#90b9c2"/>
<circle cx="441" cy="781" r="7.7" fill="#8fb3c0"/>
<circle cx="446" cy="785" r="7.7" fill="#8fb5c2"/>
<circle cx="447" cy="786" r="7.7" fill="#8eb5c4"/>
<circle cx="451" cy="787" r="7.7" fill="#8db2c0"/>
<circle cx="448" cy="792" r="7.7" fill="#90b8c5"/>
<circle cx="447" cy="795" r="7.7" fill="#8fb9c1"/>
<circle cx="444" cy="798" r="7.7" fill="#8eb6c2"/>
<circle cx="448" cy="795" r="7.7" fill="#91b7c1"/>
<circle cx="452" cy="801" r="7.7" fill="#91b5c2"/>
<circle cx="457" cy="799" r="7.7" fill="#8db0be"/>
<circle cx="451" cy="805" r="7.7" fill="#8bb5c1"/>
<circle cx="456" cy="809" r="7.7" fill="#8ab2bd"/>
<circle cx="457" cy="804" r="7.7" fill="#8eb3c0"/>
<circle cx="456" cy="809" r="7.7" fill="#8cb8c0"/>
<circle cx="460" cy="811" r="7.7" fill="#8cb4bd"/>
<circle cx="457" cy="816" r="7.7" fill="#87b2ba"/>
<circle cx="461" cy="818" r="7.7" fill="#8fb9be"/>
<circle cx="465" cy="817" r="7.7" fill="#8ab4ba"/>
<circle cx="470" cy="818" r="7.7" fill="#8bb3b8"/>
<circle cx="468" cy="820" r="7.7" fill="#87b5b6"/>
<circle cx="464" cy="826" r="7.7" fill="#89afb3"/>
<circle cx="460" cy="834" r="7.7" fill="#86b1b1"/>
<circle cx="471" cy="829" r="7.7" fill="#85afb3"/>
<circle cx="470" cy="832" r="7.7" fill="#89b4b4"/>
<circle cx="474" cy="832" r="7.7" fill="#89b0b4"/>
<circle cx="466" cy="838" r="7.7" fill="#8ab4b5"/>
<circle cx="475" cy="839" r="7.7" fill="#88b5b5"/>
<circle cx="474" cy="839" r="7.7" fill="#89b5b3"/>
<circle cx="472" cy="845" r="7.7" fill="#85b1b3"/>
<circle cx="470" cy="849" r="7.7" fill="#88b1b4"/>
<circle cx="475" cy="851" r="7.7" fill="#88afb4"/>
<circle cx="479" cy="851" r="7.7" fill="#87b4b5"/>
<circle cx="478" cy="853" r="7.7" fill="#87aeb1"/>
<circle cx="479" cy="856" r="7.7" fill="#88b3b4"/>
<circle cx="476" cy="859" r="7.7" fill="#85b4b3"/>
<circle cx="479" cy="861" r="7.7" fill="#88afb1"/>
<circle cx="477" cy="865" r="7.7" fill="#85b1b0"/>
<circle cx="483" cy="865" r="7.7" fill="#89b8b6"/>
<circle cx="488" cy="865" r="7.7" fill="#89b1b4"/>
<circle cx="486" cy="868" r="7.7" fill="#84b2b5"/>
<circle cx="488" cy="872" r="7.7" fill="#87b6b3"/>
<circle cx="496" cy="870" r="7.7" fill="#83b1b0"/>
<circle cx="494" cy="875" r="7.7" fill="#86b1b2"/>
<circle cx="491" cy="877" r="7.7" fill="#88b3b3"/>
<circle cx="495" cy="878" r="7.7" fill="#82b1b2"/>
<circle cx="488" cy="885" r="7.7" fill="#87b1ad"/>
<circle cx="493" cy="884" r="7.7" fill="#80aeac"/>
<circle cx="496" cy="886" r="7.7" fill="#88b2af"/>
<circle cx="492" cy="889" r="7.7" fill="#8ab4b2"/>
<circle cx="495" cy="893" r="7.7" fill="#85b3ac"/>
<circle cx="499" cy="897" r="7.7" fill="#81afa3"/>
<circle cx="497" cy="893" r="7.7" fill="#83afa7"/>
<circle cx="495" cy="902" r="7.7" fill="#84aea2"/>
<circle cx="504" cy="899" r="7.7" fill="#80aba1"/>
<circle cx="501" cy="904" r="7.7" fill="#7dae9d"/>
<circle cx="500" cy="907" r="7.7" fill="#7eaa97"/>
<circle cx="503" cy="907" r="7.7" fill="#81b199"/>
<circle cx="500" cy="913" r="7.7" fill="#75a78c"/>
<circle cx="510" cy="911" r="7.7" fill="#74a388"/>
<circle cx="500" cy="914" r="7.7" fill="#79a78d"/>
<circle cx="513" cy="913" r="7.7" fill="#76a687"/>
<circle cx="510" cy="918" r="7.7" fill="#73a685"/>
<circle cx="509" cy="918" r="7.7" fill="#75a687"/>
<circle cx="510" cy="922" r="7.7" fill="#77a884"/>
<circle cx="515" cy="922" r="7.7" fill="#77a682"/>
<circle cx="512" cy="929" r="7.7" fill="#73a37c"/>
<circle cx="516" cy="931" r="7.7" fill="#75a57b"/>
<circle cx="507" cy="934" r="7.7" fill="#72a581"/>
<circle cx="516" cy="933" r="7.7" fill="#70a67b"/>
<circle cx="520" cy="936" r="7.7" fill="#73a67c"/>
<circle cx="516" cy="938" r="7.7" fill="#71a57d"/>
<circle cx="521" cy="939" r="7.7" fill="#73a57d"/>
<circle cx="517" cy="945" r="7.7" fill="#75a780"/>
<circle cx="529" cy="942" r="7.7" fill="#6fa37b"/>
<circle cx="526" cy="945" r="7.7" fill="#72a57c"/>
<circle cx="522" cy="949" r="7.7" fill="#6fa17b"/>
<circle cx="526" cy="948" r="7.7" fill="#6ea37a"/>
<circle cx="393" cy="613" r="7.7" fill="#9abdd3"/>
<circle cx="387" cy="623" r="7.7" fill="#97b9d0"/>
<circle cx="408" cy="619" r="7.7" fill="#97b9d3"/>
<circle cx="387" cy="630" r="7.7" fill="#98b7d2"/>
<circle cx="389" cy="637" r="7.7" fill="#97bbd3"/>
<circle cx="407" cy="631" r="7.7" fill="#98bed3"/>
<circle cx="401" cy="637" r="7.7" fill="#95b9d1"/>
<circle cx="406" cy="641" r="7.7" fill="#9dbfd5"/>
<circle cx="389" cy="658" r="7.7" fill="#97b9d0"/>
<circle cx="407" cy="650" r="7.7" fill="#97bccf"/>
<circle cx="396" cy="661" r="7.7" fill="#95b9d3"/>
<circle cx="402" cy="665" r="7.7" fill="#9bbdd4"/>
<circle cx="424" cy="656" r="7.7" fill="#95bace"/>
<circle cx="417" cy="666" r="7.7" fill="#94bacd"/>
<circle cx="412" cy="671" r="7.7" fill="#94bbce"/>
<circle cx="421" cy="675" r="7.7" fill="#96b8c9"/>
<circle cx="418" cy="676" r="7.7" fill="#94b4cc"/>
<circle cx="432" cy="679" r="7.7" fill="#92b9ca"/>
<circle cx="411" cy="694" r="7.7" fill="#95b7cb"/>
<circle cx="436" cy="683" r="7.7" fill="#96bbcb"/>
<circle cx="412" cy="701" r="7.7" fill="#95b8c3"/>
<circle cx="429" cy="693" r="7.7" fill="#96bbcc"/>
<circle cx="417" cy="709" r="7.7" fill="#93b9c7"/>
<circle cx="431" cy="709" r="7.7" fill="#94b7c7"/>
<circle cx="435" cy="704" r="7.7" fill="#91b4c6"/>
<circle cx="439" cy="710" r="7.7" fill="#93b9c7"/>
<circle cx="443" cy="715" r="7.7" fill="#93b6c4"/>
<circle cx="436" cy="722" r="7.7" fill="#90b6c3"/>
<circle cx="446" cy="722" r="7.7" fill="#92b7c3"/>
<circle cx="445" cy="728" r="7.7" fill="#93bbc8"/>
<circle cx="440" cy="733" r="7.7" fill="#8eb9c3"/>
<circle cx="437" cy="742" r="7.7" fill="#93b9c6"/>
<circle cx="448" cy="743" r="7.7" fill="#92b6c5"/>
<circle cx="449" cy="745" r="7.7" fill="#90b5c1"/>
<circle cx="446" cy="752" r="7.7" fill="#8fb8c3"/>
<circle cx="445" cy="759" r="7.7" fill="#8eb5c4"/>
<circle cx="449" cy="759" r="7.7" fill="#8eb6c4"/>
<circle cx="455" cy="758" r="7.7" fill="#8fb7c5"/>
<circle cx="459" cy="761" r="7.7" fill="#8fb8c3"/>
<circle cx="462" cy="767" r="7.7" fill="#94b9c7"/>
<circle cx="456" cy="773" r="7.7" fill="#8eb5c7"/>
<circle cx="456" cy="780" r="7.7" fill="#93bac7"/>
<circle cx="469" cy="776" r="7.7" fill="#8fbac5"/>
<circle cx="462" cy="789" r="7.7" fill="#93b8c1"/>
<circle cx="486" cy="781" r="7.7" fill="#90b3bd"/>
<circle cx="480" cy="786" r="7.7" fill="#8db3bd"/>
<circle cx="475" cy="794" r="7.7" fill="#92bbc2"/>
<circle cx="469" cy="803" r="7.7" fill="#8db3be"/>
<circle cx="478" cy="803" r="7.7" fill="#8ab6bb"/>
<circle cx="491" cy="804" r="7.7" fill="#8ab4b5"/>
<circle cx="489" cy="802" r="7.7" fill="#8cb2b6"/>
<circle cx="482" cy="817" r="7.7" fill="#86b6b7"/>
<circle cx="478" cy="824" r="7.7" fill="#89b5b6"/>
<circle cx="480" cy="825" r="7.7" fill="#85aeb4"/>
<circle cx="485" cy="828" r="7.7" fill="#86afb2"/>
<circle cx="498" cy="829" r="7.7" fill="#89b5b5"/>
<circle cx="488" cy="836" r="7.7" fill="#87b4b4"/>
<circle cx="498" cy="841" r="7.7" fill="#84b1b1"/>
<circle cx="495" cy="843" r="7.7" fill="#84b1b0"/>
<circle cx="490" cy="847" r="7.7" fill="#86b0b3"/>
<circle cx="502" cy="847" r="7.7" fill="#87afb2"/>
<circle cx="496" cy="856" r="7.7" fill="#83b2b1"/>
<circle cx="495" cy="864" r="7.7" fill="#84b1b1"/>
<circle cx="504" cy="861" r="7.7" fill="#81afad"/>
<circle cx="514" cy="862" r="7.7" fill="#82b0af"/>
<circle cx="500" cy="875" r="7.7" fill="#82b0af"/>
<circle cx="505" cy="876" r="7.7" fill="#86b3b1"/>
<circle cx="502" cy="880" r="7.7" fill="#83b1af"/>
<circle cx="509" cy="883" r="7.7" fill="#88ada9"/>
<circle cx="508" cy="887" r="7.7" fill="#84b0ab"/>
<circle cx="511" cy="891" r="7.7" fill="#84b1a5"/>
<circle cx="508" cy="896" r="7.7" fill="#80aea1"/>
<circle cx="473" cy="629" r="7.7" fill="#98b9cc"/>
<circle cx="484" cy="613" r="7.7" fill="#9dc1cf"/>
<circle cx="521" cy="605" r="7.7" fill="#9abccc"/>
<circle cx="537" cy="647" r="7.7" fill="#9cbec8"/>
<circle cx="529" cy="664" r="7.7" fill="#99b9c1"/>
<circle cx="545" cy="668" r="7.7" fill="#9bbdc5"/>
<circle cx="496" cy="663" r="7.7" fill="#95b5c3"/>
<circle cx="451" cy="664" r="7.7" fill="#96b7cc"/>
<circle cx="437" cy="679" r="7.7" fill="#94bbc9"/>
<circle cx="572" cy="663" r="7.7" fill="#9cb9ca"/>
<circle cx="649" cy="667" r="7.7" fill="#9bbec8"/>
<circle cx="655" cy="671" r="7.7" fill="#9bbdc6"/>
<circle cx="672" cy="651" r="7.7" fill="#99c0c7"/>
<circle cx="686" cy="611" r="7.7" fill="#9dc2ca"/>
<circle cx="694" cy="613" r="7.7" fill="#9fc3d0"/>
<circle cx="697" cy="664" r="7.7" fill="#9bbfc0"/>
<circle cx="712" cy="672" r="7.7" fill="#9bc3c2"/>
<circle cx="693" cy="679" r="7.7" fill="#9bc2bf"/>
<circle cx="705" cy="688" r="7.7" fill="#9dbfbf"/>
<circle cx="718" cy="693" r="7.7" fill="#a1c3c5"/>
<circle cx="708" cy="707" r="7.7" fill="#9dc0bf"/>
<circle cx="686" cy="717" r="7.7" fill="#9dc1c2"/>
<circle cx="757" cy="693" r="7.7" fill="#98c0c0"/>
<circle cx="748" cy="643" r="7.7" fill="#9abfc3"/>
<circle cx="758" cy="659" r="7.7" fill="#9abec2"/>
<circle cx="750" cy="669" r="7.7" fill="#99c1c3"/>
<circle cx="712" cy="631" r="7.7" fill="#9dc2cc"/>
<circle cx="725" cy="739" r="7.7" fill="#9abec0"/>
<circle cx="793" cy="723" r="7.7" fill="#94bfb8"/>
<circle cx="484" cy="760" r="7.7" fill="#8fb8c1"/>
<circle cx="497" cy="757" r="7.7" fill="#92b3bc"/>
<circle cx="481" cy="777" r="7.7" fill="#8eb5bc"/>
<circle cx="465" cy="771" r="7.7" fill="#90b6c6"/>
<circle cx="519" cy="783" r="7.7" fill="#91b5b8"/>
<circle cx="561" cy="837" r="7.7" fill="#89adae"/>
<circle cx="587" cy="836" r="7.7" fill="#89b1ad"/>
<circle cx="596" cy="829" r="7.7" fill="#91b4b6"/>
<circle cx="527" cy="920" r="7.7" fill="#73a581"/>
<circle cx="545" cy="927" r="7.7" fill="#75a382"/>
<circle cx="553" cy="919" r="7.7" fill="#73a684"/>
<circle cx="532" cy="621" r="7.7" fill="#a2b5ca"/>
<circle cx="538" cy="621" r="7.7" fill="#a1b2ca"/>
<circle cx="546" cy="621" r="7.7" fill="#a2b2ca"/>
<circle cx="552" cy="625" r="7.7" fill="#a0b5cc"/>
<circle cx="557" cy="621" r="7.7" fill="#a6b1cb"/>
<circle cx="585" cy="663" r="7.7" fill="#97b3c7"/>
<circle cx="598" cy="661" r="7.7" fill="#98b8ca"/>
<circle cx="600" cy="659" r="7.7" fill="#9ab9cd"/>
<circle cx="612" cy="667" r="7.7" fill="#99bccc"/>
<circle cx="595" cy="683" r="7.7" fill="#9bbdcd"/>
<circle cx="588" cy="690" r="7.7" fill="#98b4c2"/>
<circle cx="583" cy="693" r="7.7" fill="#99b6c0"/>
<circle cx="590" cy="692" r="7.7" fill="#9bb9c6"/>
<circle cx="499" cy="680" r="7.7" fill="#94b5c2"/>
<circle cx="505" cy="687" r="7.7" fill="#9abfc6"/>
<circle cx="504" cy="690" r="7.7" fill="#98b6bf"/>
<circle cx="516" cy="689" r="7.7" fill="#97b8be"/>
<circle cx="513" cy="694" r="7.7" fill="#9bb9c1"/>
<circle cx="518" cy="700" r="7.7" fill="#95b4bb"/>
<circle cx="521" cy="700" r="7.7" fill="#9fb9c2"/>
<circle cx="520" cy="705" r="7.7" fill="#99b7be"/>
<circle cx="533" cy="699" r="7.7" fill="#9bbbc0"/>
<circle cx="530" cy="707" r="7.7" fill="#98b6be"/>
<circle cx="536" cy="710" r="7.7" fill="#97b6ba"/>
<circle cx="538" cy="710" r="7.7" fill="#9bb7be"/>
<circle cx="547" cy="707" r="7.7" fill="#99b7be"/>
<circle cx="546" cy="708" r="7.7" fill="#9bb7bf"/>
<circle cx="552" cy="714" r="7.7" fill="#9ab7c0"/>
<circle cx="559" cy="699" r="7.7" fill="#98b8bd"/>
<circle cx="559" cy="717" r="7.7" fill="#9ab9bf"/>
<circle cx="568" cy="707" r="7.7" fill="#99b4be"/>
<circle cx="509" cy="725" r="7.7" fill="#9ab6c0"/>
<circle cx="511" cy="730" r="7.7" fill="#9ab9be"/>
<circle cx="515" cy="725" r="7.7" fill="#98b4bb"/>
<circle cx="520" cy="733" r="7.7" fill="#98b8be"/>
<circle cx="525" cy="734" r="7.7" fill="#99babd"/>
<circle cx="525" cy="742" r="7.7" fill="#94b5ba"/>
<circle cx="536" cy="724" r="7.7" fill="#9fb4b1"/>
<circle cx="536" cy="730" r="7.7" fill="#a0b5b7"/>
<circle cx="542" cy="730" r="7.7" fill="#9eb7b3"/>
<circle cx="549" cy="726" r="7.7" fill="#a2b9b8"/>
<circle cx="552" cy="725" r="7.7" fill="#a1b7b6"/>
<circle cx="560" cy="725" r="7.7" fill="#9dafb0"/>
<circle cx="562" cy="727" r="7.7" fill="#9fb5b4"/>
<circle cx="456" cy="716" r="7.7" fill="#93b8c6"/>
<circle cx="460" cy="719" r="7.7" fill="#93bac4"/>
<circle cx="468" cy="723" r="7.7" fill="#93b5c3"/>
<circle cx="468" cy="725" r="7.7" fill="#90b6bf"/>
<circle cx="489" cy="722" r="7.7" fill="#94b2bc"/>
<circle cx="491" cy="727" r="7.7" fill="#94b7bf"/>
<circle cx="486" cy="730" r="7.7" fill="#97bbc4"/>
<circle cx="487" cy="742" r="7.7" fill="#93b8c3"/>
<circle cx="488" cy="743" r="7.7" fill="#98b8c1"/>
<circle cx="554" cy="776" r="7.7" fill="#a6b3b2"/>
<circle cx="553" cy="770" r="7.7" fill="#a4acb2"/>
<circle cx="560" cy="765" r="7.7" fill="#a5abae"/>
<circle cx="513" cy="797" r="7.7" fill="#86b5c2"/>
<circle cx="510" cy="800" r="7.7" fill="#85bac0"/>
<circle cx="516" cy="803" r="7.7" fill="#84b4c1"/>
<circle cx="534" cy="797" r="7.7" fill="#8eb4b9"/>
<circle cx="539" cy="800" r="7.7" fill="#91b5b8"/>
<circle cx="537" cy="805" r="7.7" fill="#8eb6b6"/>
<circle cx="526" cy="813" r="7.7" fill="#8db4b6"/>
<circle cx="529" cy="813" r="7.7" fill="#8db5b6"/>
<circle cx="536" cy="819" r="7.7" fill="#8cb2b7"/>
<circle cx="489" cy="843" r="7.7" fill="#84b0ae"/>
<circle cx="505" cy="838" r="7.7" fill="#84b1b0"/>
<circle cx="514" cy="826" r="7.7" fill="#85b0b3"/>
<circle cx="491" cy="815" r="7.7" fill="#86b1b4"/>
<circle cx="514" cy="824" r="7.7" fill="#88b0b1"/>
<circle cx="471" cy="827" r="7.7" fill="#89b7b6"/>
<circle cx="503" cy="847" r="7.7" fill="#87b3b2"/>
<circle cx="493" cy="826" r="7.7" fill="#88b5b6"/>
<circle cx="490" cy="832" r="7.7" fill="#85b1b1"/>
<circle cx="512" cy="822" r="7.7" fill="#8ab6b3"/>
<circle cx="486" cy="823" r="7.7" fill="#87b3af"/>
<circle cx="513" cy="837" r="7.7" fill="#8cb7b7"/>
<circle cx="483" cy="811" r="7.7" fill="#88b3b6"/>
<circle cx="502" cy="827" r="7.7" fill="#89b3b7"/>
<circle cx="472" cy="818" r="7.7" fill="#89b3b8"/>
<circle cx="462" cy="831" r="7.7" fill="#89b3b7"/>
<circle cx="518" cy="839" r="7.7" fill="#84adad"/>
<circle cx="500" cy="841" r="7.7" fill="#84b1b0"/>
<circle cx="510" cy="832" r="7.7" fill="#88b6b4"/>
<circle cx="519" cy="823" r="7.7" fill="#86aeb0"/>
<circle cx="513" cy="817" r="7.7" fill="#87b2b4"/>
<circle cx="505" cy="833" r="7.7" fill="#89b3b4"/>
<circle cx="485" cy="825" r="7.7" fill="#87b4b6"/>
<circle cx="495" cy="819" r="7.7" fill="#87b0b3"/>
<circle cx="507" cy="847" r="7.7" fill="#80b0ad"/>
<circle cx="493" cy="838" r="7.7" fill="#86afb2"/>
<circle cx="604" cy="805" r="7.7" fill="#b0a0a8"/>
<circle cx="613" cy="817" r="7.7" fill="#b4b8ac"/>
<circle cx="513" cy="878" r="7.7" fill="#87b3b0"/>
<circle cx="513" cy="872" r="7.7" fill="#85b3b0"/>
<circle cx="520" cy="874" r="7.7" fill="#85b1aa"/>
<circle cx="525" cy="875" r="7.7" fill="#83aca9"/>
<circle cx="532" cy="880" r="7.7" fill="#7fab9f"/>
<circle cx="515" cy="895" r="7.7" fill="#899f96"/>
<circle cx="517" cy="892" r="7.7" fill="#8da29a"/>
<circle cx="525" cy="899" r="7.7" fill="#8c9c97"/>
<circle cx="525" cy="954" r="7.7" fill="#7f8a68"/>
<circle cx="527" cy="921" r="7.7" fill="#7a9c92"/>
<circle cx="740" cy="757" r="7.7" fill="#91bcb6"/>
<circle cx="744" cy="758" r="7.7" fill="#90b9b5"/>
<circle cx="751" cy="763" r="7.7" fill="#91bcb1"/>
<circle cx="757" cy="768" r="7.7" fill="#8ebbb1"/>
<circle cx="764" cy="765" r="7.7" fill="#93bdb4"/>
<circle cx="769" cy="768" r="7.7" fill="#90bfb2"/>
<circle cx="773" cy="778" r="7.7" fill="#92bdb2"/>
<circle cx="777" cy="783" r="7.7" fill="#90bbae"/>
<circle cx="499" cy="551" r="7.7" fill="#99c0d0"/>
<circle cx="495" cy="587" r="7.7" fill="#98bfcc"/>
<circle cx="446" cy="599" r="7.7" fill="#9dbfd3"/>
<circle cx="465" cy="603" r="7.7" fill="#99bbcf"/>
<circle cx="485" cy="614" r="7.7" fill="#99bbcc"/>
<circle cx="473" cy="629" r="7.7" fill="#98bace"/>
<circle cx="679" cy="527" r="7.7" fill="#95bdcc"/>
<circle cx="672" cy="533" r="7.7" fill="#95bfca"/>
<circle cx="662" cy="549" r="7.7" fill="#98bdcd"/>
<circle cx="674" cy="562" r="7.7" fill="#9fc2cc"/>
<circle cx="743" cy="536" r="7.7" fill="#91bcc7"/>
<circle cx="750" cy="555" r="7.7" fill="#93bac7"/>
<circle cx="619" cy="586" r="7.7" fill="#9bbacc"/>
<circle cx="624" cy="599" r="7.7" fill="#9abcce"/>
<circle cx="636" cy="571" r="7.7" fill="#9bbccd"/>
<circle cx="643" cy="584" r="7.7" fill="#9bbdcd"/>
<circle cx="648" cy="603" r="7.7" fill="#9ebbcb"/>
<circle cx="653" cy="593" r="7.7" fill="#9cc3cf"/>
<circle cx="689" cy="613" r="7.7" fill="#9dc4ce"/>
<circle cx="708" cy="622" r="7.7" fill="#9ac1d0"/>
<circle cx="713" cy="632" r="7.7" fill="#98bfcc"/>
<circle cx="732" cy="593" r="7.7" fill="#99c2cd"/>
<circle cx="563" cy="569" r="7.7" fill="#98c3cc"/>
<circle cx="568" cy="567" r="7.7" fill="#99c7cb"/>
<circle cx="572" cy="573" r="7.7" fill="#97c3c8"/>
<circle cx="577" cy="572" r="7.7" fill="#96c4c7"/>
<circle cx="518" cy="607" r="7.7" fill="#a2b5c9"/>
<circle cx="530" cy="606" r="7.7" fill="#a2b4cb"/>
<circle cx="532" cy="604" r="7.7" fill="#a3b5cc"/>
<circle cx="543" cy="614" r="7.7" fill="#a0b6cb"/>
<circle cx="551" cy="612" r="7.7" fill="#a0b4ca"/>
<circle cx="550" cy="618" r="7.7" fill="#a0b5ca"/>
<circle cx="563" cy="621" r="7.7" fill="#a4b7cd"/>
<circle cx="421" cy="605" r="7.7" fill="#99bbd4"/>
<circle cx="409" cy="613" r="7.7" fill="#99bcd2"/>
<circle cx="427" cy="610" r="7.7" fill="#97bcd0"/>
<circle cx="428" cy="618" r="7.7" fill="#96bdd5"/>
<circle cx="432" cy="622" r="7.7" fill="#99bbd0"/>
<circle cx="611" cy="553" r="7.7" fill="#9bbacc"/>
<circle cx="613" cy="551" r="7.7" fill="#9dc2d1"/>
<circle cx="623" cy="556" r="7.7" fill="#93b9ca"/>
<circle cx="630" cy="557" r="7.7" fill="#99bec9"/>
<circle cx="627" cy="549" r="7.7" fill="#98bac9"/>
<circle cx="636" cy="558" r="7.7" fill="#97bdcb"/>
<circle cx="642" cy="567" r="7.7" fill="#99c0cd"/>
<circle cx="641" cy="570" r="7.7" fill="#9abdcb"/>
<circle cx="887" cy="375" r="7.7" fill="#80afc5"/>
<circle cx="826" cy="342" r="7.7" fill="#86b1cc"/>
<circle cx="801" cy="361" r="7.7" fill="#85b0ca"/>
<circle cx="816" cy="407" r="7.7" fill="#84aec9"/>
<circle cx="853" cy="346" r="7.7" fill="#86b1ca"/>
<circle cx="1005" cy="381" r="7.7" fill="#80b0c1"/>
<circle cx="916" cy="336" r="7.7" fill="#7db0c7"/>
<circle cx="1019" cy="330" r="7.7" fill="#7ca6bb"/>
<circle cx="942" cy="348" r="7.7" fill="#7da9c7"/>
<circle cx="1011" cy="278" r="7.7" fill="#82aac1"/>
<circle cx="1022" cy="316" r="7.7" fill="#7facbf"/>
<circle cx="766" cy="352" r="7.7" fill="#87b2cb"/>
<circle cx="923" cy="367" r="7.7" fill="#7daec6"/>
<circle cx="865" cy="367" r="7.7" fill="#87b1ca"/>
<circle cx="923" cy="308" r="7.7" fill="#7faeca"/>
<circle cx="932" cy="328" r="7.7" fill="#7caec7"/>
<circle cx="966" cy="295" r="7.7" fill="#78aac6"/>
<circle cx="963" cy="369" r="7.7" fill="#7ca8c2"/>
<circle cx="934" cy="341" r="7.7" fill="#7ca8c7"/>
<circle cx="906" cy="375" r="7.7" fill="#82b1c7"/>
<circle cx="779" cy="356" r="7.7" fill="#87b1d0"/>
<circle cx="812" cy="341" r="7.7" fill="#87b0cc"/>
<circle cx="1031" cy="320" r="7.7" fill="#7ea9be"/>
<circle cx="992" cy="296" r="7.7" fill="#7daabe"/>
<circle cx="798" cy="396" r="7.7" fill="#88b2cd"/>
<circle cx="923" cy="321" r="7.7" fill="#7eabcc"/>
<circle cx="897" cy="314" r="7.7" fill="#81adc8"/>
<circle cx="821" cy="375" r="7.7" fill="#85adc9"/>
<circle cx="966" cy="353" r="7.7" fill="#82aec9"/>
<circle cx="883" cy="334" r="7.7" fill="#7eacc8"/>
<circle cx="922" cy="352" r="7.7" fill="#80adcc"/>
<circle cx="958" cy="316" r="7.7" fill="#81adc8"/>
<circle cx="1025" cy="296" r="7.7" fill="#7aa5b6"/>
<circle cx="802" cy="405" r="7.7" fill="#85b4cd"/>
<circle cx="791" cy="389" r="7.7" fill="#88b3cb"/>
<circle cx="868" cy="332" r="7.7" fill="#7dadc6"/>
<circle cx="938" cy="377" r="7.7" fill="#84aec5"/>
<circle cx="1049" cy="284" r="7.7" fill="#7ca6b9"/>
<circle cx="943" cy="319" r="7.7" fill="#7cabca"/>
<circle cx="759" cy="382" r="7.7" fill="#8ab4ca"/>
<circle cx="834" cy="365" r="7.7" fill="#84aeca"/>
<circle cx="1038" cy="300" r="7.7" fill="#7fabbe"/>
<circle cx="901" cy="364" r="7.7" fill="#85b0c8"/>
<circle cx="868" cy="350" r="7.7" fill="#84b0c9"/>
<circle cx="884" cy="364" r="7.7" fill="#81b1c8"/>
<circle cx="890" cy="322" r="7.7" fill="#81b2c8"/>
<circle cx="936" cy="301" r="7.7" fill="#7fabc9"/>
<circle cx="819" cy="351" r="7.7" fill="#86b3cf"/>
<circle cx="884" cy="346" r="7.7" fill="#80afc8"/>
<circle cx="985" cy="379" r="7.7" fill="#7eabc5"/>
<circle cx="858" cy="356" r="7.7" fill="#83b0c9"/>
<circle cx="996" cy="318" r="7.7" fill="#7ba6c4"/>
<circle cx="975" cy="360" r="7.7" fill="#81adc7"/>
<circle cx="911" cy="318" r="7.7" fill="#7eadc8"/>
<circle cx="1007" cy="319" r="7.7" fill="#7ca8c1"/>
<circle cx="1030" cy="333" r="7.7" fill="#78a5bb"/>
<circle cx="1058" cy="305" r="7.7" fill="#79a4ba"/>
<circle cx="982" cy="305" r="7.7" fill="#79abc6"/>
<circle cx="995" cy="387" r="7.7" fill="#80b1c5"/>
<circle cx="1030" cy="310" r="7.7" fill="#7aa4b9"/>
<circle cx="932" cy="359" r="7.7" fill="#80adc8"/>
<circle cx="765" cy="365" r="7.7" fill="#89b4d0"/>
<circle cx="769" cy="395" r="7.7" fill="#87b1ca"/>
<circle cx="899" cy="335" r="7.7" fill="#7eaec9"/>
<circle cx="1037" cy="281" r="7.7" fill="#7ba4b7"/>
<circle cx="1009" cy="333" r="7.7" fill="#77a8be"/>
<circle cx="844" cy="382" r="7.7" fill="#84adc6"/>
<circle cx="892" cy="358" r="7.7" fill="#81adc5"/>
<circle cx="749" cy="369" r="7.7" fill="#85b0ca"/>
<circle cx="958" cy="285" r="7.7" fill="#7caac9"/>
<circle cx="969" cy="379" r="7.7" fill="#80aec6"/>
<circle cx="970" cy="322" r="7.7" fill="#7eabca"/>
<circle cx="984" cy="325" r="7.7" fill="#7facc9"/>
<circle cx="855" cy="378" r="7.7" fill="#86b4ce"/>
<circle cx="836" cy="345" r="7.7" fill="#88b2cf"/>
<circle cx="975" cy="334" r="7.7" fill="#82aecb"/>
<circle cx="951" cy="342" r="7.7" fill="#7aaac4"/>
<circle cx="794" cy="352" r="7.7" fill="#8bb5d1"/>
<circle cx="780" cy="371" r="7.7" fill="#88b5d0"/>
<circle cx="790" cy="401" r="7.7" fill="#8bb5cc"/>
<circle cx="852" cy="367" r="7.7" fill="#83acc9"/>
<circle cx="934" cy="311" r="7.7" fill="#7caac7"/>
<circle cx="1021" cy="382" r="7.7" fill="#7fadbe"/>
<circle cx="954" cy="301" r="7.7" fill="#7faecd"/>
<circle cx="943" cy="292" r="7.7" fill="#80abc8"/>
<circle cx="956" cy="380" r="7.7" fill="#7fa9be"/>
<circle cx="945" cy="328" r="7.7" fill="#7caac8"/>
<circle cx="989" cy="359" r="7.7" fill="#80adc6"/>
<circle cx="875" cy="376" r="7.7" fill="#83b2c9"/>
<circle cx="912" cy="308" r="7.7" fill="#7ea9ca"/>
<circle cx="1011" cy="367" r="7.7" fill="#7facbf"/>
<circle cx="942" cy="359" r="7.7" fill="#81b0c9"/>
<circle cx="801" cy="381" r="7.7" fill="#82afcc"/>
<circle cx="971" cy="281" r="7.7" fill="#7eafc6"/>
<circle cx="962" cy="339" r="7.7" fill="#7cabc6"/>
<circle cx="804" cy="346" r="7.7" fill="#89b1cc"/>
<circle cx="951" cy="366" r="7.7" fill="#7eacc6"/>
<circle cx="877" cy="324" r="7.7" fill="#82acc7"/>
<circle cx="1025" cy="368" r="7.7" fill="#7dabc1"/>
<circle cx="1048" cy="312" r="7.7" fill="#7ea6be"/>
<circle cx="989" cy="369" r="7.7" fill="#7daac1"/>
<circle cx="777" cy="386" r="7.7" fill="#87b0cc"/>
<circle cx="1020" cy="357" r="7.7" fill="#80b0c3"/>
<circle cx="789" cy="378" r="7.7" fill="#82aecb"/>
<circle cx="972" cy="307" r="7.7" fill="#7fadc5"/>
<circle cx="817" cy="362" r="7.7" fill="#88b0cc"/>
<circle cx="845" cy="392" r="7.7" fill="#8ab6ce"/>
<circle cx="780" cy="395" r="7.7" fill="#85aecd"/>
<circle cx="877" cy="355" r="7.7" fill="#83adcb"/>
<circle cx="976" cy="293" r="7.7" fill="#7dabc8"/>
<circle cx="1042" cy="321" r="7.7" fill="#7da7bd"/>
<circle cx="1010" cy="352" r="7.7" fill="#85adc9"/>
<circle cx="1005" cy="272" r="7.7" fill="#c8a678"/>
<circle cx="1021" cy="274" r="7.7" fill="#92aca4"/>
<circle cx="1039" cy="273" r="7.7" fill="#93959f"/>
<circle cx="1050" cy="272" r="7.7" fill="#7ba0b8"/>
<circle cx="1033" cy="298" r="7.7" fill="#7aa4b9"/>
<circle cx="1042" cy="297" r="7.7" fill="#7da6b8"/>
<circle cx="1052" cy="300" r="7.7" fill="#78a2ba"/>
<circle cx="1063" cy="294" r="7.7" fill="#73a3b3"/>
<circle cx="1039" cy="308" r="7.7" fill="#7da9be"/>
<circle cx="1047" cy="321" r="7.7" fill="#7fa8bf"/>
<circle cx="1042" cy="332" r="7.7" fill="#7aa9bd"/>
<circle cx="1025" cy="337" r="7.7" fill="#7ea6bd"/>
<circle cx="1017" cy="322" r="7.7" fill="#7ca7be"/>
<circle cx="1002" cy="332" r="7.7" fill="#7baac4"/>
<circle cx="1093" cy="347" r="7.7" fill="#9a7585"/>
<circle cx="889" cy="401" r="7.7" fill="#9a95a8"/>
<circle cx="922" cy="396" r="7.7" fill="#92a8c8"/>
<circle cx="972" cy="402" r="7.7" fill="#8aabc6"/>
<circle cx="862" cy="422" r="7.7" fill="#86b4cc"/>
<circle cx="765" cy="353" r="7.7" fill="#9ab0cc"/>
<circle cx="1167" cy="268" r="7.7" fill="#699ebb"/>
<circle cx="1135" cy="250" r="7.7" fill="#699abe"/>
<circle cx="1177" cy="240" r="7.7" fill="#6798bd"/>
<circle cx="1140" cy="304" r="7.7" fill="#6e9fbf"/>
<circle cx="1243" cy="284" r="7.7" fill="#6a9fc0"/>
<circle cx="1180" cy="251" r="7.7" fill="#6d9dc1"/>
<circle cx="1176" cy="293" r="7.7" fill="#6b9ebb"/>
<circle cx="1196" cy="253" r="7.7" fill="#6595be"/>
<circle cx="1126" cy="271" r="7.7" fill="#6ea0c0"/>
<circle cx="1150" cy="239" r="7.7" fill="#6698bd"/>
<circle cx="1188" cy="313" r="7.7" fill="#6e9dba"/>
<circle cx="1110" cy="272" r="7.7" fill="#73a7c2"/>
<circle cx="1164" cy="242" r="7.7" fill="#679bbd"/>
<circle cx="1205" cy="230" r="7.7" fill="#6297bc"/>
<circle cx="1141" cy="279" r="7.7" fill="#6e9ec0"/>
<circle cx="1228" cy="283" r="7.7" fill="#649abd"/>
<circle cx="1113" cy="289" r="7.7" fill="#6f9fbc"/>
<circle cx="1160" cy="280" r="7.7" fill="#689abe"/>
<circle cx="1150" cy="302" r="7.7" fill="#6c9ebd"/>
<circle cx="1207" cy="275" r="7.7" fill="#6699c0"/>
<circle cx="1176" cy="260" r="7.7" fill="#699ab9"/>
<circle cx="1097" cy="277" r="7.7" fill="#72a0bc"/>
<circle cx="1156" cy="262" r="7.7" fill="#6a9cbe"/>
<circle cx="1192" cy="301" r="7.7" fill="#6d9cbc"/>
<circle cx="1208" cy="248" r="7.7" fill="#6694c1"/>
<circle cx="1220" cy="231" r="7.7" fill="#6198c0"/>
<circle cx="1140" cy="263" r="7.7" fill="#719cc2"/>
<circle cx="1185" cy="266" r="7.7" fill="#679abc"/>
<circle cx="1197" cy="266" r="7.7" fill="#669abe"/>
<circle cx="1126" cy="295" r="7.7" fill="#6d9dbc"/>
<circle cx="1183" cy="282" r="7.7" fill="#6d9bbd"/>
<circle cx="1229" cy="260" r="7.7" fill="#649ac2"/>
<circle cx="1221" cy="248" r="7.7" fill="#6296bc"/>
<circle cx="1154" cy="252" r="7.7" fill="#6e9ec0"/>
<circle cx="1179" cy="311" r="7.7" fill="#6f9eb9"/>
<circle cx="1213" cy="266" r="7.7" fill="#6695ba"/>
<circle cx="1224" cy="273" r="7.7" fill="#659abe"/>
<circle cx="1194" cy="286" r="7.7" fill="#6698bb"/>
<circle cx="1207" cy="293" r="7.7" fill="#679dbf"/>
<circle cx="1131" cy="280" r="7.7" fill="#6d9abc"/>
<circle cx="1167" cy="311" r="7.7" fill="#6c9ebd"/>
<circle cx="1198" cy="308" r="7.7" fill="#6a9ab6"/>
<circle cx="1195" cy="240" r="7.7" fill="#669abf"/>
<circle cx="1086" cy="280" r="7.7" fill="#739fb6"/>
<circle cx="1112" cy="260" r="7.7" fill="#729fc0"/>
<circle cx="1171" cy="232" r="7.7" fill="#6798bf"/>
<circle cx="1233" cy="269" r="7.7" fill="#679abf"/>
<circle cx="1162" cy="301" r="7.7" fill="#6ea0bd"/>
<circle cx="1125" cy="250" r="7.7" fill="#6c9dbb"/>
<circle cx="1114" cy="250" r="7.7" fill="#709fbf"/>
<circle cx="1168" cy="251" r="7.7" fill="#6b98ba"/>
<circle cx="1103" cy="291" r="7.7" fill="#739bb9"/>
<circle cx="1216" cy="290" r="7.7" fill="#6899bc"/>
<circle cx="1136" cy="289" r="7.7" fill="#6f9fc0"/>
<circle cx="1213" cy="241" r="7.7" fill="#6393bd"/>
<circle cx="1251" cy="299" r="7.7" fill="#699db9"/>
<circle cx="1117" cy="298" r="7.7" fill="#70a4c4"/>
<circle cx="1140" cy="241" r="7.7" fill="#6c9dbd"/>
<circle cx="1165" cy="290" r="7.7" fill="#6a9abb"/>
<circle cx="1215" cy="255" r="7.7" fill="#6594c0"/>
<circle cx="1119" cy="278" r="7.7" fill="#699dbc"/>
<circle cx="1160" cy="232" r="7.7" fill="#6d9ebf"/>
<circle cx="1149" cy="272" r="7.7" fill="#6d9cbe"/>
<circle cx="1151" cy="283" r="7.7" fill="#6b9cc0"/>
<circle cx="1211" cy="303" r="7.7" fill="#6fa3c0"/>
<circle cx="1106" cy="281" r="7.7" fill="#6f9ebf"/>
<circle cx="1227" cy="240" r="7.7" fill="#6295bd"/>
<circle cx="1192" cy="274" r="7.7" fill="#669bbd"/>
<circle cx="1177" cy="274" r="7.7" fill="#6c9fbf"/>
<circle cx="1191" cy="230" r="7.7" fill="#699abe"/>
<circle cx="1145" cy="251" r="7.7" fill="#6e9ec1"/>
<circle cx="1172" cy="302" r="7.7" fill="#6a9bba"/>
<circle cx="1216" cy="279" r="7.7" fill="#679abc"/>
<circle cx="1240" cy="294" r="7.7" fill="#6699b5"/>
<circle cx="1181" cy="231" r="7.7" fill="#6394b9"/>
<circle cx="1182" cy="301" r="7.7" fill="#6da0bb"/>
<circle cx="1186" cy="292" r="7.7" fill="#6c9fbf"/>
<circle cx="1258" cy="264" r="7.7" fill="#5a9cac"/>
<circle cx="1270" cy="274" r="7.7" fill="#6a9494"/>
<circle cx="1280" cy="283" r="7.7" fill="#5aa0a0"/>
<circle cx="1290" cy="300" r="7.7" fill="#60a0a8"/>
<circle cx="1135" cy="357" r="7.7" fill="#73a5bb"/>
<circle cx="1140" cy="366" r="7.7" fill="#74a5b8"/>
<circle cx="1146" cy="378" r="7.7" fill="#71a2b9"/>
<circle cx="1133" cy="372" r="7.7" fill="#73a3b8"/>
<circle cx="1120" cy="385" r="7.7" fill="#76abb9"/>
<circle cx="1122" cy="403" r="7.7" fill="#76aab9"/>
<circle cx="776" cy="519" r="7.7" fill="#8fb7cc"/>
<circle cx="798" cy="508" r="7.7" fill="#8ebdcb"/>
<circle cx="764" cy="534" r="7.7" fill="#8fbac8"/>
<circle cx="802" cy="520" r="7.7" fill="#8fbbcc"/>
<circle cx="825" cy="529" r="7.7" fill="#8fbccb"/>
<circle cx="839" cy="508" r="7.7" fill="#8dbac7"/>
<circle cx="759" cy="508" r="7.7" fill="#8ebcc8"/>
<circle cx="824" cy="505" r="7.7" fill="#8fbccd"/>
<circle cx="824" cy="515" r="7.7" fill="#90bacb"/>
<circle cx="851" cy="509" r="7.7" fill="#90bbc7"/>
<circle cx="796" cy="539" r="7.7" fill="#8fbccb"/>
<circle cx="779" cy="507" r="7.7" fill="#90bbca"/>
<circle cx="812" cy="525" r="7.7" fill="#91b8cc"/>
<circle cx="836" cy="525" r="7.7" fill="#92bbcb"/>
<circle cx="774" cy="544" r="7.7" fill="#93bccc"/>
<circle cx="778" cy="532" r="7.7" fill="#8fb8ca"/>
<circle cx="763" cy="550" r="7.7" fill="#8fbece"/>
<circle cx="793" cy="548" r="7.7" fill="#8db7c8"/>
<circle cx="800" cy="530" r="7.7" fill="#90b9cc"/>
<circle cx="788" cy="512" r="7.7" fill="#93bbcd"/>
<circle cx="815" cy="511" r="7.7" fill="#8ebacc"/>
<circle cx="851" cy="520" r="7.7" fill="#8db7c8"/>
<circle cx="748" cy="532" r="7.7" fill="#8fbbc9"/>
<circle cx="750" cy="544" r="7.7" fill="#96c2d1"/>
<circle cx="763" cy="517" r="7.7" fill="#8db7c8"/>
<circle cx="785" cy="542" r="7.7" fill="#92bdcb"/>
<circle cx="786" cy="524" r="7.7" fill="#8fb7c7"/>
<circle cx="810" cy="503" r="7.7" fill="#8ebacb"/>
<circle cx="740" cy="538" r="7.7" fill="#97b9c8"/>
<circle cx="756" cy="526" r="7.7" fill="#8db5c6"/>
<circle cx="770" cy="527" r="7.7" fill="#90bbcd"/>
<circle cx="741" cy="549" r="7.7" fill="#98bdcb"/>
<circle cx="770" cy="507" r="7.7" fill="#91bbcd"/>
<circle cx="842" cy="517" r="7.7" fill="#8fb7c6"/>
<circle cx="791" cy="502" r="7.7" fill="#8fbccb"/>
<circle cx="860" cy="513" r="7.7" fill="#8ebac8"/>
<circle cx="789" cy="533" r="7.7" fill="#92bccd"/>
<circle cx="850" cy="488" r="7.7" fill="#8eb9c8"/>
<circle cx="890" cy="458" r="7.7" fill="#8fab9f"/>
<circle cx="909" cy="460" r="7.7" fill="#95aaa6"/>
<circle cx="885" cy="476" r="7.7" fill="#98aea8"/>
<circle cx="892" cy="485" r="7.7" fill="#92aaa5"/>
<circle cx="884" cy="493" r="7.7" fill="#90a6a0"/>
<circle cx="898" cy="501" r="7.7" fill="#91a89f"/>
<circle cx="892" cy="509" r="7.7" fill="#95a9a6"/>
<circle cx="913" cy="505" r="7.7" fill="#93aba5"/>
<circle cx="876" cy="512" r="7.7" fill="#91a9a2"/>
<circle cx="902" cy="470" r="7.7" fill="#9aaea7"/>
<circle cx="1008" cy="444" r="7.7" fill="#87b5c5"/>
<circle cx="948" cy="471" r="7.7" fill="#87b9ca"/>
<circle cx="986" cy="466" r="7.7" fill="#84b1c2"/>
<circle cx="1012" cy="472" r="7.7" fill="#88b6c3"/>
<circle cx="996" cy="435" r="7.7" fill="#85b5c1"/>
<circle cx="929" cy="467" r="7.7" fill="#84b3c6"/>
<circle cx="981" cy="479" r="7.7" fill="#87b2c6"/>
<circle cx="974" cy="435" r="7.7" fill="#85b6c8"/>
<circle cx="1001" cy="519" r="7.7" fill="#8cb8bf"/>
<circle cx="1007" cy="463" r="7.7" fill="#86b6c2"/>
<circle cx="946" cy="502" r="7.7" fill="#85b4c4"/>
<circle cx="978" cy="518" r="7.7" fill="#85b4be"/>
<circle cx="1002" cy="492" r="7.7" fill="#86b3c0"/>
<circle cx="992" cy="524" r="7.7" fill="#8db8bf"/>
<circle cx="971" cy="468" r="7.7" fill="#85b4c6"/>
<circle cx="931" cy="486" r="7.7" fill="#83b6c5"/>
<circle cx="989" cy="450" r="7.7" fill="#87b8c9"/>
<circle cx="958" cy="492" r="7.7" fill="#89bac9"/>
<circle cx="974" cy="446" r="7.7" fill="#82b1c1"/>
<circle cx="963" cy="453" r="7.7" fill="#84b5c4"/>
<circle cx="961" cy="474" r="7.7" fill="#87b2c5"/>
<circle cx="941" cy="493" r="7.7" fill="#85b3c6"/>
<circle cx="994" cy="506" r="7.7" fill="#88b8c3"/>
<circle cx="944" cy="458" r="7.7" fill="#83afc7"/>
<circle cx="1032" cy="469" r="7.7" fill="#85b4bd"/>
<circle cx="976" cy="508" r="7.7" fill="#8cb8c8"/>
<circle cx="964" cy="512" r="7.7" fill="#89bac3"/>
<circle cx="1022" cy="454" r="7.7" fill="#87b4c2"/>
<circle cx="982" cy="441" r="7.7" fill="#87b6c7"/>
<circle cx="938" cy="517" r="7.7" fill="#88b7c3"/>
<circle cx="995" cy="485" r="7.7" fill="#84b2c2"/>
<circle cx="1008" cy="432" r="7.7" fill="#82b2c4"/>
<circle cx="948" cy="513" r="7.7" fill="#81b0bd"/>
<circle cx="1019" cy="441" r="7.7" fill="#85b0c0"/>
<circle cx="1000" cy="454" r="7.7" fill="#86b1c3"/>
<circle cx="965" cy="483" r="7.7" fill="#84b4c5"/>
<circle cx="975" cy="458" r="7.7" fill="#88b1ca"/>
<circle cx="961" cy="502" r="7.7" fill="#85b6c2"/>
<circle cx="1003" cy="504" r="7.7" fill="#8bb7bf"/>
<circle cx="970" cy="498" r="7.7" fill="#8ab7c8"/>
<circle cx="951" cy="450" r="7.7" fill="#82b4c3"/>
<circle cx="981" cy="428" r="7.7" fill="#83b2c3"/>
<circle cx="951" cy="481" r="7.7" fill="#89b7c9"/>
<circle cx="978" cy="488" r="7.7" fill="#86b3c5"/>
<circle cx="1011" cy="453" r="7.7" fill="#87b4c7"/>
<circle cx="994" cy="472" r="7.7" fill="#88b3c7"/>
<circle cx="1003" cy="479" r="7.7" fill="#8ab3c8"/>
<circle cx="964" cy="442" r="7.7" fill="#83b3c7"/>
<circle cx="982" cy="528" r="7.7" fill="#85b3bb"/>
<circle cx="924" cy="478" r="7.7" fill="#85b2c4"/>
<circle cx="1022" cy="465" r="7.7" fill="#87b4c0"/>
<circle cx="1034" cy="459" r="7.7" fill="#81b0ba"/>
<circle cx="942" cy="483" r="7.7" fill="#84b1c1"/>
<circle cx="938" cy="466" r="7.7" fill="#87b5cb"/>
<circle cx="968" cy="521" r="7.7" fill="#8cb6c3"/>
<circle cx="992" cy="494" r="7.7" fill="#88b5c5"/>
<circle cx="1011" cy="519" r="7.7" fill="#8db8bd"/>
<circle cx="1053" cy="448" r="7.7" fill="#83afba"/>
<circle cx="1036" cy="419" r="7.7" fill="#85b5c0"/>
<circle cx="1068" cy="426" r="7.7" fill="#7cb0ba"/>
<circle cx="1085" cy="436" r="7.7" fill="#80b2bb"/>
<circle cx="1104" cy="441" r="7.7" fill="#7cb0b9"/>
<circle cx="1050" cy="396" r="7.7" fill="#7cadbf"/>
<circle cx="1060" cy="400" r="7.7" fill="#7eaeba"/>
<circle cx="1066" cy="407" r="7.7" fill="#7eacbe"/>
<circle cx="1052" cy="408" r="7.7" fill="#81aebf"/>
<circle cx="1046" cy="484" r="7.7" fill="#89b8bc"/>
<circle cx="1055" cy="490" r="7.7" fill="#85b2b7"/>
<circle cx="1060" cy="483" r="7.7" fill="#85b5b7"/>
<circle cx="1082" cy="477" r="7.7" fill="#87b5bd"/>
<circle cx="1089" cy="481" r="7.7" fill="#84b4bb"/>
<circle cx="1082" cy="506" r="7.7" fill="#8ab9ba"/>
<circle cx="1101" cy="501" r="7.7" fill="#87b9b7"/>
<circle cx="1112" cy="485" r="7.7" fill="#84b3b6"/>
<circle cx="1116" cy="501" r="7.7" fill="#84b4b7"/>
<circle cx="1108" cy="493" r="7.7" fill="#89b7b6"/>
<circle cx="1013" cy="505" r="7.7" fill="#8bbbc2"/>
<circle cx="1019" cy="511" r="7.7" fill="#89b6ba"/>
<circle cx="1015" cy="512" r="7.7" fill="#8cb8bd"/>
<circle cx="1026" cy="519" r="7.7" fill="#8dbbb9"/>
<circle cx="1024" cy="524" r="7.7" fill="#8dbcbf"/>
<circle cx="1035" cy="523" r="7.7" fill="#8bb7b8"/>
<circle cx="1033" cy="528" r="7.7" fill="#8bb7b8"/>
<circle cx="1038" cy="526" r="7.7" fill="#8ab8b7"/>
<circle cx="1041" cy="529" r="7.7" fill="#8eb7b7"/>
<circle cx="1049" cy="534" r="7.7" fill="#8fbbba"/>
<circle cx="1052" cy="527" r="7.7" fill="#8cb9b9"/>
<circle cx="1060" cy="536" r="7.7" fill="#8cbab6"/>
<circle cx="1060" cy="541" r="7.7" fill="#8ebbba"/>
<circle cx="1065" cy="542" r="7.7" fill="#89b7b9"/>
<circle cx="1063" cy="552" r="7.7" fill="#8ebbbd"/>
<circle cx="1071" cy="553" r="7.7" fill="#8fbdb7"/>
<circle cx="1071" cy="557" r="7.7" fill="#8cb9b7"/>
<circle cx="1077" cy="556" r="7.7" fill="#8db8b8"/>
<circle cx="1073" cy="566" r="7.7" fill="#8bbcb7"/>
<circle cx="1076" cy="568" r="7.7" fill="#8dbcbb"/>
<circle cx="1078" cy="571" r="7.7" fill="#8dbbb6"/>
<circle cx="1086" cy="573" r="7.7" fill="#90beb7"/>
<circle cx="1084" cy="575" r="7.7" fill="#91bcba"/>
<circle cx="1088" cy="584" r="7.7" fill="#8bbbb4"/>
<circle cx="913" cy="538" r="7.7" fill="#91bcc5"/>
<circle cx="925" cy="545" r="7.7" fill="#90bbc3"/>
<circle cx="938" cy="541" r="7.7" fill="#8eb8c0"/>
<circle cx="950" cy="553" r="7.7" fill="#90b8c3"/>
<circle cx="944" cy="547" r="7.7" fill="#91b8c1"/>
<circle cx="830" cy="568" r="7.7" fill="#8fbbc1"/>
<circle cx="846" cy="576" r="7.7" fill="#8fbcc6"/>
<circle cx="900" cy="572" r="7.7" fill="#91bcc6"/>
<circle cx="892" cy="564" r="7.7" fill="#92bcc6"/>
<circle cx="880" cy="576" r="7.7" fill="#92bcc7"/>
<circle cx="881" cy="561" r="7.7" fill="#90bcc6"/>
<circle cx="906" cy="590" r="7.7" fill="#91b9c4"/>
<circle cx="895" cy="594" r="7.7" fill="#94bdc8"/>
<circle cx="873" cy="591" r="7.7" fill="#97c0c8"/>
<circle cx="869" cy="582" r="7.7" fill="#94bfc6"/>
<circle cx="889" cy="580" r="7.7" fill="#96bfca"/>
<circle cx="864" cy="567" r="7.7" fill="#92bbc4"/>
<circle cx="910" cy="572" r="7.7" fill="#93bdc7"/>
<circle cx="894" cy="605" r="7.7" fill="#92bbc1"/>
<circle cx="900" cy="556" r="7.7" fill="#92bdc6"/>
<circle cx="886" cy="590" r="7.7" fill="#92bfc7"/>
<circle cx="870" cy="600" r="7.7" fill="#93bdc6"/>
<circle cx="868" cy="558" r="7.7" fill="#95bec5"/>
<circle cx="913" cy="598" r="7.7" fill="#94bdc4"/>
<circle cx="899" cy="583" r="7.7" fill="#94bbc4"/>
<circle cx="903" cy="600" r="7.7" fill="#97c0cb"/>
<circle cx="912" cy="581" r="7.7" fill="#95bdc3"/>
<circle cx="844" cy="604" r="7.7" fill="#8fbcc0"/>
<circle cx="835" cy="616" r="7.7" fill="#92bbc3"/>
<circle cx="854" cy="615" r="7.7" fill="#93bbc0"/>
<circle cx="834" cy="604" r="7.7" fill="#94bcc5"/>
<circle cx="855" cy="603" r="7.7" fill="#92bac4"/>
<circle cx="845" cy="619" r="7.7" fill="#95bfc4"/>
<circle cx="784" cy="596" r="7.7" fill="#98bcc7"/>
<circle cx="790" cy="610" r="7.7" fill="#98c0c7"/>
<circle cx="803" cy="618" r="7.7" fill="#93bdc5"/>
<circle cx="795" cy="630" r="7.7" fill="#94bac1"/>
<circle cx="800" cy="604" r="7.7" fill="#93bdc4"/>
<circle cx="925" cy="566" r="7.7" fill="#92bbc6"/>
<circle cx="940" cy="575" r="7.7" fill="#90bbc0"/>
<circle cx="955" cy="570" r="7.7" fill="#90bdc4"/>
<circle cx="943" cy="626" r="7.7" fill="#a0b9b2"/>
<circle cx="952" cy="600" r="7.7" fill="#9fb4af"/>
<circle cx="958" cy="617" r="7.7" fill="#a2bcb3"/>
<circle cx="934" cy="603" r="7.7" fill="#a0b7ae"/>
<circle cx="937" cy="614" r="7.7" fill="#9bb9b0"/>
<circle cx="953" cy="627" r="7.7" fill="#a1b8ae"/>
<circle cx="948" cy="612" r="7.7" fill="#9cb5af"/>
<circle cx="1012" cy="593" r="7.7" fill="#89b7b4"/>
<circle cx="1013" cy="603" r="7.7" fill="#90bcb8"/>
<circle cx="993" cy="585" r="7.7" fill="#91b8bb"/>
<circle cx="1001" cy="612" r="7.7" fill="#8dbcb8"/>
<circle cx="977" cy="603" r="7.7" fill="#8db9bc"/>
<circle cx="991" cy="596" r="7.7" fill="#8eb8b9"/>
<circle cx="991" cy="615" r="7.7" fill="#95bdba"/>
<circle cx="1001" cy="593" r="7.7" fill="#92bdba"/>
<circle cx="979" cy="578" r="7.7" fill="#90b8bc"/>
<circle cx="977" cy="615" r="7.7" fill="#90bdbc"/>
<circle cx="1004" cy="583" r="7.7" fill="#92bfbb"/>
<circle cx="981" cy="591" r="7.7" fill="#91bdbd"/>
<circle cx="987" cy="605" r="7.7" fill="#8fb9ba"/>
<circle cx="1019" cy="582" r="7.7" fill="#99b9ac"/>
<circle cx="1007" cy="571" r="7.7" fill="#9ab9a9"/>
<circle cx="1030" cy="559" r="7.7" fill="#95b8a5"/>
<circle cx="1002" cy="561" r="7.7" fill="#97bca7"/>
<circle cx="1008" cy="584" r="7.7" fill="#99b9ab"/>
<circle cx="1026" cy="570" r="7.7" fill="#98b8ab"/>
<circle cx="1082" cy="580" r="7.7" fill="#93bfbb"/>
<circle cx="1061" cy="574" r="7.7" fill="#8fbebb"/>
<circle cx="1073" cy="590" r="7.7" fill="#8fbcb9"/>
<circle cx="1082" cy="569" r="7.7" fill="#91bdb8"/>
<circle cx="1063" cy="589" r="7.7" fill="#91beb8"/>
<circle cx="1087" cy="590" r="7.7" fill="#92bcb7"/>
<circle cx="1065" cy="604" r="7.7" fill="#92bcba"/>
<circle cx="1077" cy="613" r="7.7" fill="#95bfb6"/>
<circle cx="1069" cy="642" r="7.7" fill="#91c1b1"/>
<circle cx="1040" cy="618" r="7.7" fill="#90bfb8"/>
<circle cx="1073" cy="675" r="7.7" fill="#94beaf"/>
<circle cx="1032" cy="642" r="7.7" fill="#97bcb8"/>
<circle cx="1075" cy="653" r="7.7" fill="#91beb1"/>
<circle cx="1040" cy="629" r="7.7" fill="#90bfba"/>
<circle cx="1043" cy="646" r="7.7" fill="#91beb3"/>
<circle cx="1060" cy="630" r="7.7" fill="#8fbcb2"/>
<circle cx="1058" cy="671" r="7.7" fill="#98c7b5"/>
<circle cx="1043" cy="665" r="7.7" fill="#96c2b6"/>
<circle cx="1056" cy="646" r="7.7" fill="#8ebdaf"/>
<circle cx="1030" cy="629" r="7.7" fill="#93c0b8"/>
<circle cx="1053" cy="662" r="7.7" fill="#97c4b6"/>
<circle cx="1052" cy="618" r="7.7" fill="#90bfb7"/>
<circle cx="1066" cy="663" r="7.7" fill="#99c3b3"/>
<circle cx="1075" cy="665" r="7.7" fill="#92beb0"/>
<circle cx="1049" cy="677" r="7.7" fill="#98bfb3"/>
<circle cx="1034" cy="656" r="7.7" fill="#94bfb4"/>
<circle cx="1063" cy="619" r="7.7" fill="#8cbdb2"/>
<circle cx="1050" cy="633" r="7.7" fill="#90bdb5"/>
<circle cx="1070" cy="631" r="7.7" fill="#98beb2"/>
<circle cx="1049" cy="654" r="7.7" fill="#96c3b4"/>
<circle cx="1062" cy="654" r="7.7" fill="#95beb3"/>
<circle cx="958" cy="640" r="7.7" fill="#aabfa7"/>
<circle cx="968" cy="636" r="7.7" fill="#a8bfa6"/>
<circle cx="976" cy="645" r="7.7" fill="#a9c0a5"/>
<circle cx="986" cy="632" r="7.7" fill="#aec3a7"/>
<circle cx="981" cy="636" r="7.7" fill="#b0bfa0"/>
<circle cx="1098" cy="629" r="7.7" fill="#9ab890"/>
<circle cx="1094" cy="674" r="7.7" fill="#a0b8b0"/>
<circle cx="1129" cy="669" r="7.7" fill="#97c4b0"/>
<circle cx="1116" cy="659" r="7.7" fill="#96c3b0"/>
<circle cx="1110" cy="669" r="7.7" fill="#95bdaf"/>
<circle cx="1119" cy="676" r="7.7" fill="#99c2b0"/>
<circle cx="1124" cy="686" r="7.7" fill="#9ac4ad"/>
<circle cx="828" cy="636" r="7.7" fill="#97bfc2"/>
<circle cx="850" cy="639" r="7.7" fill="#9bc2c6"/>
<circle cx="838" cy="652" r="7.7" fill="#99c3c3"/>
<circle cx="760" cy="659" r="7.7" fill="#9dc1c4"/>
<circle cx="758" cy="694" r="7.7" fill="#97c0c0"/>
<circle cx="800" cy="676" r="7.7" fill="#99c2c7"/>
<circle cx="812" cy="680" r="7.7" fill="#97bfc1"/>
<circle cx="833" cy="686" r="7.7" fill="#9bc3c5"/>
<circle cx="821" cy="713" r="7.7" fill="#99c5c5"/>
<circle cx="827" cy="715" r="7.7" fill="#9bc3c4"/>
<circle cx="883" cy="718" r="7.7" fill="#9ac6c8"/>
<circle cx="881" cy="731" r="7.7" fill="#99c5c5"/>
<circle cx="886" cy="735" r="7.7" fill="#9dc3c5"/>
<circle cx="1012" cy="683" r="7.7" fill="#9bc7ba"/>
<circle cx="794" cy="722" r="7.7" fill="#a8b0b8"/>
<circle cx="1324" cy="373" r="7.7" fill="#6ba2b0"/>
<circle cx="1343" cy="306" r="7.7" fill="#699db3"/>
<circle cx="1329" cy="384" r="7.7" fill="#689eb2"/>
<circle cx="1319" cy="332" r="7.7" fill="#6aa0b6"/>
<circle cx="1326" cy="321" r="7.7" fill="#6ca1b5"/>
<circle cx="1336" cy="391" r="7.7" fill="#689fb2"/>
<circle cx="1323" cy="356" r="7.7" fill="#6aa1b2"/>
<circle cx="1334" cy="351" r="7.7" fill="#669eb3"/>
<circle cx="1361" cy="350" r="7.7" fill="#699fb0"/>
<circle cx="1328" cy="336" r="7.7" fill="#6d9eb4"/>
<circle cx="1344" cy="352" r="7.7" fill="#669eb3"/>
<circle cx="1359" cy="363" r="7.7" fill="#689fb1"/>
<circle cx="1343" cy="376" r="7.7" fill="#689fb3"/>
<circle cx="1356" cy="335" r="7.7" fill="#6ca0b3"/>
<circle cx="1309" cy="314" r="7.7" fill="#6aa0b5"/>
<circle cx="1336" cy="298" r="7.7" fill="#69a0b3"/>
<circle cx="1342" cy="321" r="7.7" fill="#6ea6ba"/>
<circle cx="1342" cy="366" r="7.7" fill="#6d9fb2"/>
<circle cx="1329" cy="364" r="7.7" fill="#6ca3b1"/>
<circle cx="1355" cy="373" r="7.7" fill="#669eb4"/>
<circle cx="1330" cy="310" r="7.7" fill="#699eb2"/>
<circle cx="1351" cy="387" r="7.7" fill="#69a2b4"/>
<circle cx="1343" cy="334" r="7.7" fill="#6fa3b8"/>
<circle cx="1312" cy="341" r="7.7" fill="#6ba1b6"/>
<circle cx="1320" cy="307" r="7.7" fill="#6ba0b5"/>
<circle cx="1325" cy="345" r="7.7" fill="#6ca0b6"/>
<circle cx="1352" cy="344" r="7.7" fill="#699eb3"/>
<circle cx="1348" cy="297" r="7.7" fill="#6b9fb5"/>
<circle cx="1350" cy="313" r="7.7" fill="#669db1"/>
<circle cx="1365" cy="340" r="7.7" fill="#6ba0b6"/>
<circle cx="1317" cy="321" r="7.7" fill="#669db4"/>
<circle cx="1301" cy="336" r="7.7" fill="#689eb2"/>
<circle cx="1283" cy="360" r="7.7" fill="#6da8b9"/>
<circle cx="1277" cy="352" r="7.7" fill="#70a6b5"/>
<circle cx="1283" cy="340" r="7.7" fill="#68a1b5"/>
<circle cx="1295" cy="355" r="7.7" fill="#6fa4b8"/>
<circle cx="1305" cy="388" r="7.7" fill="#6ba1b3"/>
<circle cx="1296" cy="390" r="7.7" fill="#71a5b7"/>
<circle cx="1308" cy="401" r="7.7" fill="#68a0b4"/>
<circle cx="1297" cy="400" r="7.7" fill="#68a0b2"/>
<circle cx="1251" cy="387" r="7.7" fill="#6ea1b9"/>
<circle cx="1173" cy="401" r="7.7" fill="#73a6b9"/>
<circle cx="1194" cy="401" r="7.7" fill="#70a2b5"/>
<circle cx="1231" cy="331" r="7.7" fill="#6ca1b6"/>
<circle cx="1240" cy="363" r="7.7" fill="#6ea5b8"/>
<circle cx="1149" cy="417" r="7.7" fill="#76a9b8"/>
<circle cx="1185" cy="370" r="7.7" fill="#70a4b8"/>
<circle cx="1160" cy="383" r="7.7" fill="#6fa6b8"/>
<circle cx="1203" cy="391" r="7.7" fill="#6ea8b9"/>
<circle cx="1188" cy="420" r="7.7" fill="#72a7b5"/>
<circle cx="1241" cy="350" r="7.7" fill="#6ea4b9"/>
<circle cx="1140" cy="398" r="7.7" fill="#75a9b7"/>
<circle cx="1202" cy="340" r="7.7" fill="#6ea7ba"/>
<circle cx="1198" cy="364" r="7.7" fill="#6ca1b6"/>
<circle cx="1269" cy="384" r="7.7" fill="#70a6bb"/>
<circle cx="1175" cy="415" r="7.7" fill="#76aab7"/>
<circle cx="1197" cy="321" r="7.7" fill="#6ea2b9"/>
<circle cx="1241" cy="340" r="7.7" fill="#6ba2b7"/>
<circle cx="1202" cy="374" r="7.7" fill="#6fa4b7"/>
<circle cx="1141" cy="412" r="7.7" fill="#79a9bd"/>
<circle cx="1254" cy="398" r="7.7" fill="#71a4b9"/>
<circle cx="1183" cy="323" r="7.7" fill="#6e9fb6"/>
<circle cx="1165" cy="411" r="7.7" fill="#77a7b9"/>
<circle cx="1214" cy="355" r="7.7" fill="#6ba2b4"/>
<circle cx="1191" cy="332" r="7.7" fill="#6da2bc"/>
<circle cx="1196" cy="349" r="7.7" fill="#6aa2b8"/>
<circle cx="1238" cy="381" r="7.7" fill="#6ea4b8"/>
<circle cx="1178" cy="435" r="7.7" fill="#77acb4"/>
<circle cx="1213" cy="368" r="7.7" fill="#6ba2ba"/>
<circle cx="1158" cy="435" r="7.7" fill="#7babb7"/>
<circle cx="1188" cy="360" r="7.7" fill="#70a5ba"/>
<circle cx="1166" cy="351" r="7.7" fill="#719ebb"/>
<circle cx="1263" cy="368" r="7.7" fill="#6ea2ba"/>
<circle cx="1241" cy="394" r="7.7" fill="#71a9b9"/>
<circle cx="1179" cy="352" r="7.7" fill="#6ba2b7"/>
<circle cx="1210" cy="384" r="7.7" fill="#72a7be"/>
<circle cx="1224" cy="370" r="7.7" fill="#6da3b6"/>
<circle cx="1137" cy="421" r="7.7" fill="#79a9b7"/>
<circle cx="1193" cy="381" r="7.7" fill="#70a2b6"/>
<circle cx="1222" cy="347" r="7.7" fill="#6ba4bb"/>
<circle cx="1254" cy="354" r="7.7" fill="#6ca1b6"/>
<circle cx="1159" cy="395" r="7.7" fill="#74a6ba"/>
<circle cx="1230" cy="388" r="7.7" fill="#6ba2b3"/>
<circle cx="1176" cy="330" r="7.7" fill="#72a0bc"/>
<circle cx="1204" cy="331" r="7.7" fill="#70a4bb"/>
<circle cx="1166" cy="339" r="7.7" fill="#72a2bd"/>
<circle cx="1215" cy="401" r="7.7" fill="#70a6bc"/>
<circle cx="1173" cy="382" r="7.7" fill="#73a6b6"/>
<circle cx="1245" cy="372" r="7.7" fill="#6ea4b7"/>
<circle cx="1150" cy="385" r="7.7" fill="#73a4b9"/>
<circle cx="1233" cy="399" r="7.7" fill="#71a6bb"/>
<circle cx="1221" cy="323" r="7.7" fill="#6fa4ba"/>
<circle cx="1213" cy="335" r="7.7" fill="#719fb8"/>
<circle cx="1179" cy="339" r="7.7" fill="#6b9fb5"/>
<circle cx="1186" cy="312" r="7.7" fill="#6b9cbb"/>
<circle cx="1219" cy="390" r="7.7" fill="#6ea3b5"/>
<circle cx="1149" cy="406" r="7.7" fill="#73a6b5"/>
<circle cx="1262" cy="392" r="7.7" fill="#6c9fb7"/>
<circle cx="1183" cy="408" r="7.7" fill="#6fa4b6"/>
<circle cx="1230" cy="354" r="7.7" fill="#6d9eb8"/>
<circle cx="1219" cy="378" r="7.7" fill="#72a5bb"/>
<circle cx="1173" cy="367" r="7.7" fill="#6c9fb6"/>
<circle cx="1230" cy="342" r="7.7" fill="#70a2b9"/>
<circle cx="1253" cy="365" r="7.7" fill="#71a3b7"/>
<circle cx="1211" cy="410" r="7.7" fill="#72a7b5"/>
<circle cx="1132" cy="406" r="7.7" fill="#76a6b9"/>
<circle cx="1262" cy="406" r="7.7" fill="#73a5b9"/>
<circle cx="1381" cy="396" r="7.7" fill="#6b9fb3"/>
<circle cx="1403" cy="393" r="7.7" fill="#65a1b1"/>
<circle cx="1374" cy="409" r="7.7" fill="#6ca5b5"/>
<circle cx="1397" cy="427" r="7.7" fill="#69a4b0"/>
<circle cx="1384" cy="384" r="7.7" fill="#649bb3"/>
<circle cx="1389" cy="418" r="7.7" fill="#6ca0b0"/>
<circle cx="1409" cy="431" r="7.7" fill="#6aa2ab"/>
<circle cx="1394" cy="384" r="7.7" fill="#629cad"/>
<circle cx="1414" cy="414" r="7.7" fill="#6aa3af"/>
<circle cx="1409" cy="404" r="7.7" fill="#6aa2b2"/>
<circle cx="1399" cy="418" r="7.7" fill="#6ca2b3"/>
<circle cx="1370" cy="387" r="7.7" fill="#6aa3b1"/>
<circle cx="1379" cy="419" r="7.7" fill="#679cb1"/>
<circle cx="1394" cy="395" r="7.7" fill="#659cae"/>
<circle cx="1410" cy="386" r="7.7" fill="#689bb1"/>
<circle cx="1384" cy="406" r="7.7" fill="#6aa4b5"/>
<circle cx="1370" cy="399" r="7.7" fill="#69a2b4"/>
<circle cx="1420" cy="429" r="7.7" fill="#6aa3ab"/>
<circle cx="1376" cy="470" r="7.7" fill="#6ba3ad"/>
<circle cx="1390" cy="467" r="7.7" fill="#6aa5ab"/>
<circle cx="1401" cy="467" r="7.7" fill="#69a2ab"/>
<circle cx="1409" cy="452" r="7.7" fill="#6da6ab"/>
<circle cx="1520" cy="266" r="7.7" fill="#4d87b0"/>
<circle cx="1527" cy="249" r="7.7" fill="#4481ab"/>
<circle cx="1504" cy="266" r="7.7" fill="#4e8ab3"/>
<circle cx="1466" cy="249" r="7.7" fill="#518ab2"/>
<circle cx="1462" cy="258" r="7.7" fill="#4f8ab3"/>
<circle cx="1429" cy="242" r="7.7" fill="#548db0"/>
<circle cx="1446" cy="251" r="7.7" fill="#4d88b1"/>
<circle cx="1544" cy="255" r="7.7" fill="#4280ac"/>
<circle cx="1405" cy="245" r="7.7" fill="#5c96b0"/>
<circle cx="1434" cy="261" r="7.7" fill="#508eaf"/>
<circle cx="1539" cy="237" r="7.7" fill="#447eac"/>
<circle cx="1453" cy="244" r="7.7" fill="#538ab4"/>
<circle cx="1487" cy="255" r="7.7" fill="#528bb3"/>
<circle cx="1473" cy="259" r="7.7" fill="#4c85b1"/>
<circle cx="1489" cy="266" r="7.7" fill="#4b8ab1"/>
<circle cx="1516" cy="252" r="7.7" fill="#4a85b0"/>
<circle cx="1526" cy="237" r="7.7" fill="#417dab"/>
<circle cx="1418" cy="253" r="7.7" fill="#5d91b4"/>
<circle cx="1493" cy="247" r="7.7" fill="#4e87af"/>
<circle cx="1515" cy="241" r="7.7" fill="#4784af"/>
<circle cx="1417" cy="241" r="7.7" fill="#548dae"/>
<circle cx="1519" cy="277" r="7.7" fill="#5089b1"/>
<circle cx="1549" cy="247" r="7.7" fill="#4582ad"/>
<circle cx="1505" cy="254" r="7.7" fill="#4b87af"/>
<circle cx="1479" cy="249" r="7.7" fill="#548fb5"/>
<circle cx="1449" cy="260" r="7.7" fill="#518db4"/>
<circle cx="1549" cy="236" r="7.7" fill="#4881b1"/>
<circle cx="1434" cy="250" r="7.7" fill="#508bae"/>
<circle cx="1497" cy="259" r="7.7" fill="#4f8bb5"/>
<circle cx="1441" cy="240" r="7.7" fill="#548eb1"/>
<circle cx="1529" cy="260" r="7.7" fill="#4c88b0"/>
<circle cx="1497" cy="272" r="7.7" fill="#4c88b1"/>
<circle cx="1507" cy="275" r="7.7" fill="#4f87af"/>
<circle cx="1504" cy="244" r="7.7" fill="#4d88b2"/>
<circle cx="1537" cy="248" r="7.7" fill="#4881af"/>
<circle cx="1496" cy="293" r="7.7" fill="#548eb1"/>
<circle cx="1491" cy="316" r="7.7" fill="#5a94b1"/>
<circle cx="1385" cy="271" r="7.7" fill="#6a9aa0"/>
<circle cx="1390" cy="274" r="7.7" fill="#6a9aa0"/>
<circle cx="1463" cy="321" r="7.7" fill="#5c96b1"/>
<circle cx="1455" cy="302" r="7.7" fill="#5c96b7"/>
<circle cx="1419" cy="310" r="7.7" fill="#6099b2"/>
<circle cx="1427" cy="289" r="7.7" fill="#5e94b3"/>
<circle cx="1415" cy="284" r="7.7" fill="#6095b4"/>
<circle cx="1452" cy="320" r="7.7" fill="#5a96b5"/>
<circle cx="1464" cy="300" r="7.7" fill="#5a92b0"/>
<circle cx="1432" cy="309" r="7.7" fill="#5e96b4"/>
<circle cx="1410" cy="314" r="7.7" fill="#5c94af"/>
<circle cx="1406" cy="292" r="7.7" fill="#5e96b1"/>
<circle cx="1464" cy="310" r="7.7" fill="#5796b2"/>
<circle cx="1418" cy="293" r="7.7" fill="#5c97b2"/>
<circle cx="1445" cy="295" r="7.7" fill="#5f99b7"/>
<circle cx="1444" cy="284" r="7.7" fill="#5690af"/>
<circle cx="1445" cy="305" r="7.7" fill="#5d93b1"/>
<circle cx="1424" cy="302" r="7.7" fill="#5d95b0"/>
<circle cx="1438" cy="319" r="7.7" fill="#578eac"/>
<circle cx="1420" cy="320" r="7.7" fill="#5b95b2"/>
<circle cx="1454" cy="289" r="7.7" fill="#5c94b6"/>
<circle cx="1398" cy="300" r="7.7" fill="#649bb4"/>
<circle cx="1434" cy="299" r="7.7" fill="#5893b1"/>
<circle cx="1399" cy="310" r="7.7" fill="#5d98b0"/>
<circle cx="1498" cy="355" r="7.7" fill="#6199b4"/>
<circle cx="1522" cy="392" r="7.7" fill="#5e9aac"/>
<circle cx="1473" cy="400" r="7.7" fill="#63a1b1"/>
<circle cx="1492" cy="412" r="7.7" fill="#619eae"/>
<circle cx="1454" cy="474" r="7.7" fill="#6aa2ae"/>
<circle cx="1492" cy="381" r="7.7" fill="#5d97ab"/>
<circle cx="1528" cy="379" r="7.7" fill="#5c9aae"/>
<circle cx="1527" cy="415" r="7.7" fill="#619caa"/>
<circle cx="1451" cy="455" r="7.7" fill="#6aa5ad"/>
<circle cx="1541" cy="405" r="7.7" fill="#629dae"/>
<circle cx="1402" cy="337" r="7.7" fill="#6399b2"/>
<circle cx="1418" cy="408" r="7.7" fill="#68a0ae"/>
<circle cx="1521" cy="425" r="7.7" fill="#5f98ae"/>
<circle cx="1410" cy="353" r="7.7" fill="#629eb7"/>
<circle cx="1483" cy="406" r="7.7" fill="#619eaf"/>
<circle cx="1456" cy="421" r="7.7" fill="#649bac"/>
<circle cx="1418" cy="382" r="7.7" fill="#639eaf"/>
<circle cx="1512" cy="414" r="7.7" fill="#5f9bab"/>
<circle cx="1445" cy="388" r="7.7" fill="#639eb1"/>
<circle cx="1482" cy="341" r="7.7" fill="#5c97b3"/>
<circle cx="1458" cy="345" r="7.7" fill="#5a95b2"/>
<circle cx="1423" cy="458" r="7.7" fill="#6aa5ad"/>
<circle cx="1508" cy="478" r="7.7" fill="#67a2a7"/>
<circle cx="1487" cy="391" r="7.7" fill="#6099ae"/>
<circle cx="1482" cy="442" r="7.7" fill="#5e9bab"/>
<circle cx="1493" cy="370" r="7.7" fill="#6399b2"/>
<circle cx="1415" cy="366" r="7.7" fill="#6193ad"/>
<circle cx="1504" cy="376" r="7.7" fill="#5e98ac"/>
<circle cx="1515" cy="452" r="7.7" fill="#5f9bab"/>
<circle cx="1523" cy="360" r="7.7" fill="#5c99aa"/>
<circle cx="1434" cy="464" r="7.7" fill="#69a5ac"/>
<circle cx="1468" cy="457" r="7.7" fill="#69a2ac"/>
<circle cx="1431" cy="450" r="7.7" fill="#6aa7ab"/>
<circle cx="1543" cy="429" r="7.7" fill="#5f99ab"/>
<circle cx="1448" cy="431" r="7.7" fill="#66a1ad"/>
<circle cx="1528" cy="449" r="7.7" fill="#609bac"/>
<circle cx="1457" cy="383" r="7.7" fill="#629ab1"/>
<circle cx="1528" cy="342" r="7.7" fill="#5a94ad"/>
<circle cx="1518" cy="349" r="7.7" fill="#5d97ae"/>
<circle cx="1428" cy="339" r="7.7" fill="#5793ad"/>
<circle cx="1522" cy="441" r="7.7" fill="#5f9baa"/>
<circle cx="1418" cy="449" r="7.7" fill="#67a1aa"/>
<circle cx="1438" cy="372" r="7.7" fill="#629db3"/>
<circle cx="1452" cy="369" r="7.7" fill="#609bb4"/>
<circle cx="1468" cy="427" r="7.7" fill="#63a2b0"/>
<circle cx="1535" cy="438" r="7.7" fill="#619fad"/>
<circle cx="1487" cy="421" r="7.7" fill="#5e9bab"/>
<circle cx="1494" cy="342" r="7.7" fill="#5b97b0"/>
<circle cx="1510" cy="434" r="7.7" fill="#629caf"/>
<circle cx="1505" cy="406" r="7.7" fill="#5e9bac"/>
<circle cx="1510" cy="333" r="7.7" fill="#5994ac"/>
<circle cx="1463" cy="411" r="7.7" fill="#63a0ae"/>
<circle cx="1480" cy="461" r="7.7" fill="#67a2ac"/>
<circle cx="1427" cy="378" r="7.7" fill="#619bb1"/>
<circle cx="1438" cy="431" r="7.7" fill="#68a3ab"/>
<circle cx="1473" cy="346" r="7.7" fill="#6096b1"/>
<circle cx="1487" cy="350" r="7.7" fill="#5f9ab1"/>
<circle cx="1420" cy="418" r="7.7" fill="#669dab"/>
<circle cx="1508" cy="385" r="7.7" fill="#5996a8"/>
<circle cx="1428" cy="413" r="7.7" fill="#68a1ad"/>
<circle cx="1425" cy="390" r="7.7" fill="#67a1b1"/>
<circle cx="1470" cy="445" r="7.7" fill="#639daa"/>
<circle cx="1534" cy="354" r="7.7" fill="#5e97ae"/>
<circle cx="1519" cy="472" r="7.7" fill="#67a3af"/>
<circle cx="1498" cy="442" r="7.7" fill="#619faf"/>
<circle cx="1458" cy="441" r="7.7" fill="#67a3ad"/>
<circle cx="1506" cy="345" r="7.7" fill="#5994ae"/>
<circle cx="1420" cy="438" r="7.7" fill="#6da7b1"/>
<circle cx="1512" cy="356" r="7.7" fill="#5c98af"/>
<circle cx="1464" cy="369" r="7.7" fill="#5f9ab2"/>
<circle cx="1500" cy="463" r="7.7" fill="#619da9"/>
<circle cx="1510" cy="468" r="7.7" fill="#66a4af"/>
<circle cx="1500" cy="395" r="7.7" fill="#5e98ad"/>
<circle cx="1416" cy="398" r="7.7" fill="#679fb1"/>
<circle cx="1481" cy="429" r="7.7" fill="#5d99ad"/>
<circle cx="1437" cy="476" r="7.7" fill="#67a4ac"/>
<circle cx="1531" cy="403" r="7.7" fill="#63a0ae"/>
<circle cx="1414" cy="338" r="7.7" fill="#6198af"/>
<circle cx="1494" cy="452" r="7.7" fill="#609bae"/>
<circle cx="1441" cy="448" r="7.7" fill="#67a3ab"/>
<circle cx="1423" cy="347" r="7.7" fill="#5e9ab2"/>
<circle cx="1538" cy="386" r="7.7" fill="#639faf"/>
<circle cx="1400" cy="356" r="7.7" fill="#659ab4"/>
<circle cx="1442" cy="360" r="7.7" fill="#5f99b4"/>
<circle cx="1433" cy="402" r="7.7" fill="#669fae"/>
<circle cx="1492" cy="474" r="7.7" fill="#6b9fab"/>
<circle cx="1441" cy="348" r="7.7" fill="#5c97b4"/>
<circle cx="1460" cy="356" r="7.7" fill="#6199b5"/>
<circle cx="1459" cy="401" r="7.7" fill="#639db1"/>
<circle cx="1506" cy="449" r="7.7" fill="#5b97a9"/>
<circle cx="1429" cy="425" r="7.7" fill="#68a4ac"/>
<circle cx="1460" cy="462" r="7.7" fill="#6ea7ae"/>
<circle cx="1473" cy="414" r="7.7" fill="#629bab"/>
<circle cx="1505" cy="365" r="7.7" fill="#5e96ae"/>
<circle cx="1473" cy="360" r="7.7" fill="#5d96b2"/>
<circle cx="1442" cy="422" r="7.7" fill="#6ba1ac"/>
<circle cx="1475" cy="330" r="7.7" fill="#5c96b2"/>
<circle cx="1469" cy="470" r="7.7" fill="#6aa0ad"/>
<circle cx="1550" cy="400" r="7.7" fill="#639dae"/>
<circle cx="1489" cy="333" r="7.7" fill="#5c94b2"/>
<circle cx="1429" cy="363" r="7.7" fill="#5e98ae"/>
<circle cx="1430" cy="437" r="7.7" fill="#6aa2af"/>
<circle cx="1471" cy="385" r="7.7" fill="#619bac"/>
<circle cx="1393" cy="342" r="7.7" fill="#669cb2"/>
<circle cx="1555" cy="387" r="7.7" fill="#639cb0"/>
<circle cx="1481" cy="374" r="7.7" fill="#5c98af"/>
<circle cx="1516" cy="376" r="7.7" fill="#5e9caf"/>
<circle cx="1462" cy="335" r="7.7" fill="#5e98b5"/>
<circle cx="1441" cy="490" r="7.7" fill="#6aa4aa"/>
<circle cx="1487" cy="483" r="7.7" fill="#67a1ad"/>
<circle cx="1420" cy="356" r="7.7" fill="#5f9cb4"/>
<circle cx="1547" cy="374" r="7.7" fill="#6099ad"/>
<circle cx="1497" cy="484" r="7.7" fill="#6aa4ae"/>
<circle cx="1444" cy="467" r="7.7" fill="#65a3a7"/>
<circle cx="1441" cy="337" r="7.7" fill="#5b9ab1"/>
<circle cx="1519" cy="403" r="7.7" fill="#5d9cae"/>
<circle cx="1512" cy="394" r="7.7" fill="#609aaa"/>
<circle cx="1542" cy="417" r="7.7" fill="#609eab"/>
<circle cx="1563" cy="480" r="7.7" fill="#5a98a0"/>
<circle cx="1554" cy="506" r="7.7" fill="#6a9aa0"/>
<circle cx="1515" cy="511" r="7.7" fill="#6ba5a2"/>
<circle cx="1528" cy="528" r="7.7" fill="#6ba9a1"/>
<circle cx="1477" cy="512" r="7.7" fill="#6ca6a8"/>
<circle cx="1481" cy="502" r="7.7" fill="#67a3a4"/>
<circle cx="1507" cy="535" r="7.7" fill="#66a49f"/>
<circle cx="1557" cy="522" r="7.7" fill="#6daaa1"/>
<circle cx="1522" cy="537" r="7.7" fill="#6ca9a2"/>
<circle cx="1523" cy="520" r="7.7" fill="#65a49f"/>
<circle cx="1545" cy="516" r="7.7" fill="#6da9a1"/>
<circle cx="1564" cy="545" r="7.7" fill="#6fab9c"/>
<circle cx="1491" cy="500" r="7.7" fill="#6ba6a4"/>
<circle cx="1487" cy="517" r="7.7" fill="#66a2a1"/>
<circle cx="1545" cy="533" r="7.7" fill="#6eaaa0"/>
<circle cx="1497" cy="519" r="7.7" fill="#68a7a3"/>
<circle cx="1508" cy="523" r="7.7" fill="#68a4a1"/>
<circle cx="1559" cy="533" r="7.7" fill="#6ba99e"/>
<circle cx="1469" cy="505" r="7.7" fill="#6ba6a9"/>
<circle cx="1517" cy="528" r="7.7" fill="#6ba9a2"/>
<circle cx="1540" cy="544" r="7.7" fill="#6bab9f"/>
<circle cx="1535" cy="518" r="7.7" fill="#64a49f"/>
<circle cx="1554" cy="545" r="7.7" fill="#67a799"/>
<circle cx="1535" cy="536" r="7.7" fill="#69a6a0"/>
<circle cx="1515" cy="545" r="7.7" fill="#66a59c"/>
<circle cx="1492" cy="529" r="7.7" fill="#69a4a2"/>
<circle cx="1476" cy="524" r="7.7" fill="#6ca8a4"/>
<circle cx="1567" cy="522" r="7.7" fill="#6aa79e"/>
<circle cx="1493" cy="510" r="7.7" fill="#68a5a2"/>
<circle cx="1528" cy="545" r="7.7" fill="#6aa69b"/>
<circle cx="1497" cy="546" r="7.7" fill="#6ba59f"/>
<circle cx="1496" cy="554" r="7.7" fill="#66a59f"/>
<circle cx="1491" cy="551" r="7.7" fill="#6ca8a2"/>
<circle cx="1493" cy="558" r="7.7" fill="#6aa4a0"/>
<circle cx="1502" cy="561" r="7.7" fill="#6aa8a0"/>
<circle cx="1502" cy="565" r="7.7" fill="#66a49d"/>
<circle cx="1493" cy="569" r="7.7" fill="#69a4a4"/>
<circle cx="1492" cy="572" r="7.7" fill="#6ba6a2"/>
<circle cx="1506" cy="572" r="7.7" fill="#68a59e"/>
<circle cx="1501" cy="580" r="7.7" fill="#6baaa2"/>
<circle cx="1505" cy="579" r="7.7" fill="#6ba7a4"/>
<circle cx="1505" cy="584" r="7.7" fill="#65a49b"/>
<circle cx="1475" cy="575" r="7.7" fill="#66a49f"/>
<circle cx="1525" cy="566" r="7.7" fill="#69a6a0"/>
<circle cx="1541" cy="569" r="7.7" fill="#6ba797"/>
<circle cx="1472" cy="597" r="7.7" fill="#6fab9c"/>
<circle cx="1480" cy="608" r="7.7" fill="#6da99c"/>
<circle cx="1497" cy="594" r="7.7" fill="#68a49f"/>
<circle cx="1516" cy="592" r="7.7" fill="#6eac9f"/>
<circle cx="1545" cy="597" r="7.7" fill="#6ba692"/>
<circle cx="1558" cy="623" r="7.7" fill="#6cab90"/>
<circle cx="1533" cy="605" r="7.7" fill="#69a893"/>
<circle cx="1556" cy="599" r="7.7" fill="#6aa88f"/>
<circle cx="1582" cy="578" r="7.7" fill="#6aa791"/>
<circle cx="1573" cy="587" r="7.7" fill="#67a38f"/>
<circle cx="1578" cy="596" r="7.7" fill="#69a58e"/>
<circle cx="1546" cy="613" r="7.7" fill="#6ba68f"/>
<circle cx="1548" cy="626" r="7.7" fill="#6da890"/>
<circle cx="1560" cy="579" r="7.7" fill="#68a68e"/>
<circle cx="1579" cy="607" r="7.7" fill="#6da693"/>
<circle cx="1590" cy="602" r="7.7" fill="#71ab97"/>
<circle cx="1592" cy="578" r="7.7" fill="#6ca994"/>
<circle cx="1550" cy="582" r="7.7" fill="#68a891"/>
<circle cx="1533" cy="593" r="7.7" fill="#6ea999"/>
<circle cx="1569" cy="615" r="7.7" fill="#68a68f"/>
<circle cx="1569" cy="604" r="7.7" fill="#68a78f"/>
<circle cx="1590" cy="593" r="7.7" fill="#6da690"/>
<circle cx="1571" cy="577" r="7.7" fill="#6eaa93"/>
<circle cx="1559" cy="632" r="7.7" fill="#6eaa91"/>
<circle cx="1559" cy="609" r="7.7" fill="#67a58f"/>
<circle cx="1544" cy="637" r="7.7" fill="#6dac8e"/>
<circle cx="1524" cy="604" r="7.7" fill="#66a294"/>
<circle cx="1557" cy="589" r="7.7" fill="#6aa890"/>
<circle cx="1503" cy="632" r="7.7" fill="#7eb498"/>
<circle cx="1511" cy="625" r="7.7" fill="#76aa94"/>
<circle cx="1505" cy="672" r="7.7" fill="#7eb694"/>
<circle cx="1482" cy="626" r="7.7" fill="#7bb69b"/>
<circle cx="1532" cy="672" r="7.7" fill="#7cb793"/>
<circle cx="1524" cy="651" r="7.7" fill="#7fb896"/>
<circle cx="1507" cy="663" r="7.7" fill="#83b894"/>
<circle cx="1512" cy="638" r="7.7" fill="#75b392"/>
<circle cx="1503" cy="653" r="7.7" fill="#7fb695"/>
<circle cx="1494" cy="642" r="7.7" fill="#7ab492"/>
<circle cx="1514" cy="656" r="7.7" fill="#82b897"/>
<circle cx="1490" cy="619" r="7.7" fill="#76ae9b"/>
<circle cx="1492" cy="657" r="7.7" fill="#7eba91"/>
<circle cx="1519" cy="672" r="7.7" fill="#85b894"/>
<circle cx="1517" cy="683" r="7.7" fill="#7cb691"/>
<circle cx="1519" cy="631" r="7.7" fill="#78b39b"/>
<circle cx="1484" cy="645" r="7.7" fill="#80b996"/>
<circle cx="1503" cy="617" r="7.7" fill="#6fa997"/>
<circle cx="1536" cy="661" r="7.7" fill="#7db994"/>
<circle cx="1523" cy="641" r="7.7" fill="#77b294"/>
<circle cx="1479" cy="636" r="7.7" fill="#7db39a"/>
<circle cx="1504" cy="643" r="7.7" fill="#7fba98"/>
<circle cx="1493" cy="629" r="7.7" fill="#7bb59c"/>
<circle cx="1527" cy="681" r="7.7" fill="#80b591"/>
<circle cx="1507" cy="675" r="7.7" fill="#7fba96"/>
<circle cx="1509" cy="676" r="7.7" fill="#83b997"/>
<circle cx="1508" cy="677" r="7.7" fill="#81bc95"/>
<circle cx="1502" cy="681" r="7.7" fill="#7fb791"/>
<circle cx="1500" cy="679" r="7.7" fill="#7db892"/>
<circle cx="1506" cy="683" r="7.7" fill="#7db391"/>
<circle cx="1511" cy="683" r="7.7" fill="#81b992"/>
<circle cx="1506" cy="690" r="7.7" fill="#7eb495"/>
<circle cx="1507" cy="694" r="7.7" fill="#7eb792"/>
<circle cx="1507" cy="696" r="7.7" fill="#81ba98"/>
<circle cx="1510" cy="697" r="7.7" fill="#82b997"/>
<circle cx="1507" cy="698" r="7.7" fill="#7eb594"/>
<circle cx="1503" cy="701" r="7.7" fill="#7fb592"/>
<circle cx="1500" cy="700" r="7.7" fill="#82bc96"/>
<circle cx="1502" cy="704" r="7.7" fill="#85bb9c"/>
<circle cx="1504" cy="709" r="7.7" fill="#88bd92"/>
<circle cx="1506" cy="712" r="7.7" fill="#84b88d"/>
<circle cx="1503" cy="712" r="7.7" fill="#84ba91"/>
<circle cx="1499" cy="711" r="7.7" fill="#87bb94"/>
<circle cx="1504" cy="716" r="7.7" fill="#89be92"/>
<circle cx="1502" cy="719" r="7.7" fill="#8cbd91"/>
<circle cx="1493" cy="721" r="7.7" fill="#90c38f"/>
<circle cx="1499" cy="724" r="7.7" fill="#8ebe8d"/>
<circle cx="1488" cy="721" r="7.7" fill="#8ebf8d"/>
<circle cx="1491" cy="728" r="7.7" fill="#8bc088"/>
<circle cx="1496" cy="731" r="7.7" fill="#94c48f"/>
<circle cx="1493" cy="731" r="7.7" fill="#92c58c"/>
<circle cx="1491" cy="732" r="7.7" fill="#93c089"/>
<circle cx="1490" cy="737" r="7.7" fill="#94c890"/>
<circle cx="1492" cy="740" r="7.7" fill="#95c58b"/>
<circle cx="1489" cy="738" r="7.7" fill="#91c18d"/>
<circle cx="1487" cy="743" r="7.7" fill="#93c48b"/>
<circle cx="1486" cy="743" r="7.7" fill="#93c38c"/>
<circle cx="1482" cy="744" r="7.7" fill="#91c388"/>
<circle cx="1479" cy="743" r="7.7" fill="#98c58c"/>
<circle cx="1480" cy="745" r="7.7" fill="#95c38c"/>
<circle cx="1474" cy="752" r="7.7" fill="#96c98f"/>
<circle cx="1470" cy="751" r="7.7" fill="#94c48a"/>
<circle cx="1478" cy="758" r="7.7" fill="#92c38a"/>
<circle cx="1470" cy="754" r="7.7" fill="#92c78c"/>
<circle cx="1467" cy="752" r="7.7" fill="#95c68d"/>
<circle cx="1466" cy="751" r="7.7" fill="#91c48a"/>
<circle cx="1457" cy="751" r="7.7" fill="#95c98c"/>
<circle cx="1459" cy="756" r="7.7" fill="#91c38b"/>
<circle cx="1475" cy="713" r="7.7" fill="#8fc294"/>
<circle cx="1466" cy="731" r="7.7" fill="#92c48b"/>
<circle cx="1292" cy="574" r="7.7" fill="#84b6ae"/>
<circle cx="1138" cy="394" r="7.7" fill="#76a9b9"/>
<circle cx="1287" cy="466" r="7.7" fill="#73a5af"/>
<circle cx="1265" cy="343" r="7.7" fill="#6ea6bc"/>
<circle cx="1322" cy="545" r="7.7" fill="#75a9ad"/>
<circle cx="1270" cy="516" r="7.7" fill="#76abaf"/>
<circle cx="1132" cy="539" r="7.7" fill="#86b3b0"/>
<circle cx="1551" cy="434" r="7.7" fill="#619aaa"/>
<circle cx="1495" cy="362" r="7.7" fill="#5d96af"/>
<circle cx="1485" cy="586" r="7.7" fill="#68a19c"/>
<circle cx="1563" cy="371" r="7.7" fill="#5e99af"/>
<circle cx="1169" cy="585" r="7.7" fill="#88bbb2"/>
<circle cx="1480" cy="289" r="7.7" fill="#5691b3"/>
<circle cx="1225" cy="431" r="7.7" fill="#73a8b8"/>
<circle cx="1513" cy="643" r="7.7" fill="#7cb493"/>
<circle cx="1284" cy="444" r="7.7" fill="#73a8b4"/>
<circle cx="1554" cy="312" r="7.7" fill="#528dad"/>
<circle cx="1160" cy="607" r="7.7" fill="#8fbcac"/>
<circle cx="1343" cy="448" r="7.7" fill="#6da5ae"/>
<circle cx="1166" cy="535" r="7.7" fill="#84b2af"/>
<circle cx="1428" cy="428" r="7.7" fill="#6ca1ae"/>
<circle cx="1454" cy="407" r="7.7" fill="#62a0b0"/>
<circle cx="1329" cy="324" r="7.7" fill="#6ca5ba"/>
<circle cx="1289" cy="331" r="7.7" fill="#6a9fb6"/>
<circle cx="1245" cy="406" r="7.7" fill="#6ea2b5"/>
<circle cx="1186" cy="580" r="7.7" fill="#88b8b0"/>
<circle cx="1324" cy="403" r="7.7" fill="#6aa0b0"/>
<circle cx="1181" cy="362" r="7.7" fill="#6ea1b5"/>
<circle cx="1572" cy="609" r="7.7" fill="#68a88f"/>
<circle cx="1498" cy="624" r="7.7" fill="#78b69a"/>
<circle cx="1295" cy="497" r="7.7" fill="#71adb1"/>
<circle cx="1470" cy="361" r="7.7" fill="#5d97b2"/>
<circle cx="1446" cy="278" r="7.7" fill="#5995b6"/>
<circle cx="1226" cy="491" r="7.7" fill="#7baeb0"/>
<circle cx="1519" cy="685" r="7.7" fill="#7db290"/>
<circle cx="1517" cy="340" r="7.7" fill="#5e9ab4"/>
<circle cx="1377" cy="363" r="7.7" fill="#69a0b4"/>
<circle cx="1303" cy="607" r="7.7" fill="#83b3a6"/>
<circle cx="1231" cy="348" r="7.7" fill="#70a4b8"/>
<circle cx="1282" cy="627" r="7.7" fill="#8ab9a4"/>
<circle cx="1543" cy="609" r="7.7" fill="#6aa990"/>
<circle cx="1363" cy="418" r="7.7" fill="#69a2b4"/>
<circle cx="1198" cy="425" r="7.7" fill="#6ea2b3"/>
<circle cx="1158" cy="571" r="7.7" fill="#8cbdb3"/>
<circle cx="1197" cy="334" r="7.7" fill="#6ca1b9"/>
<circle cx="1456" cy="480" r="7.7" fill="#69a1a8"/>
<circle cx="1393" cy="400" r="7.7" fill="#669eae"/>
<circle cx="1196" cy="516" r="7.7" fill="#82b0b0"/>
<circle cx="1167" cy="394" r="7.7" fill="#70a3ba"/>
<circle cx="1306" cy="315" r="7.7" fill="#699eb3"/>
<circle cx="1417" cy="319" r="7.7" fill="#5f96b0"/>
<circle cx="1521" cy="484" r="7.7" fill="#639fa4"/>
<circle cx="1318" cy="499" r="7.7" fill="#74aaaf"/>
<circle cx="1434" cy="365" r="7.7" fill="#5e97af"/>
<circle cx="1311" cy="358" r="7.7" fill="#689eb2"/>
<circle cx="1151" cy="367" r="7.7" fill="#70a1b8"/>
<circle cx="1324" cy="296" r="7.7" fill="#69a1b7"/>
<circle cx="1502" cy="430" r="7.7" fill="#6099ae"/>
<circle cx="1553" cy="665" r="7.7" fill="#76ae91"/>
<circle cx="1479" cy="614" r="7.7" fill="#77b1a0"/>
<circle cx="1519" cy="421" r="7.7" fill="#5f9fad"/>
<circle cx="1199" cy="548" r="7.7" fill="#86b4af"/>
<circle cx="1256" cy="564" r="7.7" fill="#82b4ae"/>
<circle cx="1304" cy="468" r="7.7" fill="#79afb6"/>
<circle cx="1499" cy="332" r="7.7" fill="#5a95b2"/>
<circle cx="1351" cy="377" r="7.7" fill="#6ba2b3"/>
<circle cx="1397" cy="324" r="7.7" fill="#649cb5"/>
<circle cx="1492" cy="516" r="7.7" fill="#6aa6a2"/>
<circle cx="1530" cy="639" r="7.7" fill="#77b69a"/>
<circle cx="1224" cy="535" r="7.7" fill="#84b3b1"/>
<circle cx="1490" cy="548" r="7.7" fill="#68a8a1"/>
<circle cx="1341" cy="467" r="7.7" fill="#71a8b0"/>
<circle cx="1175" cy="553" r="7.7" fill="#83b4ae"/>
<circle cx="1270" cy="323" r="7.7" fill="#68a0b2"/>
<circle cx="1592" cy="593" r="7.7" fill="#6aaa91"/>
<circle cx="1337" cy="419" r="7.7" fill="#6a9fb2"/>
<circle cx="1328" cy="349" r="7.7" fill="#6aa2b6"/>
<circle cx="1311" cy="518" r="7.7" fill="#70a6b0"/>
<circle cx="1155" cy="521" r="7.7" fill="#85b4b5"/>
<circle cx="1315" cy="387" r="7.7" fill="#679cb3"/>
<circle cx="1571" cy="554" r="7.7" fill="#6da896"/>
<circle cx="1406" cy="378" r="7.7" fill="#659faf"/>
<circle cx="1527" cy="274" r="7.7" fill="#5189b2"/>
<circle cx="1341" cy="305" r="7.7" fill="#6ba0b6"/>
<circle cx="1193" cy="307" r="7.7" fill="#6d9cbd"/>
<circle cx="1318" cy="619" r="7.7" fill="#82b3a2"/>
<circle cx="1104" cy="306" r="7.7" fill="#71a0bd"/>
<circle cx="1294" cy="349" r="7.7" fill="#6ca2b5"/>
<circle cx="1207" cy="452" r="7.7" fill="#73a6b1"/>
<circle cx="1409" cy="302" r="7.7" fill="#5c93b0"/>
<circle cx="1248" cy="330" r="7.7" fill="#6ba0b6"/>
<circle cx="1507" cy="507" r="7.7" fill="#69a6a5"/>
<circle cx="1503" cy="392" r="7.7" fill="#5f98aa"/>
<circle cx="1355" cy="436" r="7.7" fill="#6aa2b2"/>
<circle cx="1167" cy="475" r="7.7" fill="#7dacb3"/>
<circle cx="1515" cy="611" r="7.7" fill="#76b19c"/>
<circle cx="1326" cy="602" r="7.7" fill="#7daea0"/>
<circle cx="1206" cy="376" r="7.7" fill="#6ca2b7"/>
<circle cx="1327" cy="370" r="7.7" fill="#69a0af"/>
<circle cx="1555" cy="406" r="7.7" fill="#5f99ad"/>
<circle cx="1565" cy="637" r="7.7" fill="#6da990"/>
<circle cx="1198" cy="605" r="7.7" fill="#85b3ad"/>
<circle cx="1273" cy="478" r="7.7" fill="#76aab0"/>
<circle cx="1520" cy="568" r="7.7" fill="#67a59e"/>
<circle cx="1452" cy="450" r="7.7" fill="#67a3ac"/>
<circle cx="1357" cy="402" r="7.7" fill="#6399ac"/>
<circle cx="1555" cy="573" r="7.7" fill="#6daa94"/>
<circle cx="1178" cy="419" r="7.7" fill="#73a4b7"/>
<circle cx="1277" cy="588" r="7.7" fill="#82b5af"/>
<circle cx="1450" cy="427" r="7.7" fill="#66a4ae"/>
<circle cx="1470" cy="508" r="7.7" fill="#66a2a1"/>
<circle cx="1234" cy="564" r="7.7" fill="#81b2ad"/>
<circle cx="1516" cy="536" r="7.7" fill="#69a6a3"/>
<circle cx="1438" cy="483" r="7.7" fill="#6ea9af"/>
<circle cx="1527" cy="457" r="7.7" fill="#619aab"/>
<circle cx="1185" cy="449" r="7.7" fill="#74aab5"/>
<circle cx="1223" cy="477" r="7.7" fill="#76acb3"/>
<circle cx="1213" cy="458" r="7.7" fill="#73a7b0"/>
<circle cx="1197" cy="473" r="7.7" fill="#78adb2"/>
<circle cx="1199" cy="434" r="7.7" fill="#71a6b3"/>
<circle cx="1223" cy="439" r="7.7" fill="#75a9b4"/>
<circle cx="1185" cy="463" r="7.7" fill="#7aabb2"/>
<circle cx="1225" cy="454" r="7.7" fill="#76a7b1"/>
<circle cx="1200" cy="447" r="7.7" fill="#73aab3"/>
<circle cx="1274" cy="458" r="7.7" fill="#73a7b1"/>
<circle cx="1281" cy="467" r="7.7" fill="#74a6b2"/>
<circle cx="1275" cy="478" r="7.7" fill="#78aab2"/>
<circle cx="1304" cy="478" r="7.7" fill="#72aab2"/>
<circle cx="1328" cy="482" r="7.7" fill="#76a9b2"/>
<circle cx="1259" cy="463" r="7.7" fill="#75aab1"/>
<circle cx="1291" cy="476" r="7.7" fill="#74a7b1"/>
<circle cx="1316" cy="469" r="7.7" fill="#74aab1"/>
<circle cx="1302" cy="459" r="7.7" fill="#6ea6b0"/>
<circle cx="1323" cy="498" r="7.7" fill="#77aab4"/>
<circle cx="1293" cy="466" r="7.7" fill="#73aab0"/>
<circle cx="1285" cy="456" r="7.7" fill="#78adb6"/>
<circle cx="1260" cy="454" r="7.7" fill="#74aab1"/>
<circle cx="1267" cy="470" r="7.7" fill="#72a8b3"/>
<circle cx="1281" cy="487" r="7.7" fill="#77a8b5"/>
<circle cx="1309" cy="492" r="7.7" fill="#73a7b2"/>
<circle cx="1279" cy="447" r="7.7" fill="#70a4b2"/>
<circle cx="1297" cy="449" r="7.7" fill="#73a7b0"/>
<circle cx="1265" cy="484" r="7.7" fill="#78acb6"/>
<circle cx="1257" cy="473" r="7.7" fill="#76abb1"/>
<circle cx="1299" cy="489" r="7.7" fill="#74abb1"/>
<circle cx="1315" cy="454" r="7.7" fill="#73a6b5"/>
<circle cx="1318" cy="486" r="7.7" fill="#7aadb8"/>
<circle cx="1332" cy="493" r="7.7" fill="#74abb4"/>
<circle cx="1269" cy="449" r="7.7" fill="#72a6b2"/>
<circle cx="1268" cy="432" r="7.7" fill="#71a6b3"/>
<circle cx="1345" cy="519" r="7.7" fill="#80a898"/>
<circle cx="1389" cy="494" r="7.7" fill="#8fa898"/>
<circle cx="1234" cy="556" r="7.7" fill="#81b1b1"/>
<circle cx="1237" cy="601" r="7.7" fill="#84baaa"/>
<circle cx="1201" cy="512" r="7.7" fill="#83b6b0"/>
<circle cx="1263" cy="587" r="7.7" fill="#85b8af"/>
<circle cx="1216" cy="535" r="7.7" fill="#84b5b0"/>
<circle cx="1225" cy="611" r="7.7" fill="#82b7a7"/>
<circle cx="1251" cy="588" r="7.7" fill="#81b5ac"/>
<circle cx="1224" cy="600" r="7.7" fill="#8abbb0"/>
<circle cx="1188" cy="582" r="7.7" fill="#83b4ad"/>
<circle cx="1222" cy="522" r="7.7" fill="#80b3ae"/>
<circle cx="1212" cy="504" r="7.7" fill="#7cafad"/>
<circle cx="1253" cy="560" r="7.7" fill="#82b2ac"/>
<circle cx="1225" cy="572" r="7.7" fill="#80b4b0"/>
<circle cx="1257" cy="600" r="7.7" fill="#86b7ad"/>
<circle cx="1202" cy="601" r="7.7" fill="#8ab8af"/>
<circle cx="1244" cy="532" r="7.7" fill="#80b6af"/>
<circle cx="1192" cy="522" r="7.7" fill="#82b4b3"/>
<circle cx="1238" cy="541" r="7.7" fill="#83b5b0"/>
<circle cx="1215" cy="606" r="7.7" fill="#87b5aa"/>
<circle cx="1193" cy="547" r="7.7" fill="#88b4b1"/>
<circle cx="1245" cy="616" r="7.7" fill="#86b8a6"/>
<circle cx="1251" cy="540" r="7.7" fill="#7db2ad"/>
<circle cx="1211" cy="586" r="7.7" fill="#84b6ad"/>
<circle cx="1257" cy="573" r="7.7" fill="#81b3b1"/>
<circle cx="1204" cy="522" r="7.7" fill="#84b6b1"/>
<circle cx="1242" cy="517" r="7.7" fill="#82b5b7"/>
<circle cx="1235" cy="587" r="7.7" fill="#84b5af"/>
<circle cx="1222" cy="489" r="7.7" fill="#79adb0"/>
<circle cx="1197" cy="590" r="7.7" fill="#82b3ad"/>
<circle cx="1240" cy="574" r="7.7" fill="#85b8b3"/>
<circle cx="1221" cy="543" r="7.7" fill="#83b6b4"/>
<circle cx="1205" cy="567" r="7.7" fill="#85b5b1"/>
<circle cx="1243" cy="565" r="7.7" fill="#82b2af"/>
<circle cx="1265" cy="607" r="7.7" fill="#83b4a7"/>
<circle cx="1201" cy="540" r="7.7" fill="#82b4aa"/>
<circle cx="1225" cy="561" r="7.7" fill="#83b3b1"/>
<circle cx="1216" cy="557" r="7.7" fill="#87b8b3"/>
<circle cx="1230" cy="512" r="7.7" fill="#7ab0b0"/>
<circle cx="1196" cy="498" r="7.7" fill="#7eadaf"/>
<circle cx="1194" cy="559" r="7.7" fill="#85b5b0"/>
<circle cx="1261" cy="516" r="7.7" fill="#74aaae"/>
<circle cx="1235" cy="618" r="7.7" fill="#8bbca6"/>
<circle cx="1212" cy="515" r="7.7" fill="#7cb1ae"/>
<circle cx="1192" cy="571" r="7.7" fill="#83b8b0"/>
<circle cx="1222" cy="585" r="7.7" fill="#82b0ad"/>
<circle cx="1188" cy="594" r="7.7" fill="#87b6b0"/>
<circle cx="1233" cy="523" r="7.7" fill="#80b0b0"/>
<circle cx="1255" cy="527" r="7.7" fill="#7fb6b0"/>
<circle cx="1239" cy="497" r="7.7" fill="#78b0b3"/>
<circle cx="1246" cy="552" r="7.7" fill="#82b4b0"/>
<circle cx="1180" cy="575" r="7.7" fill="#87b8b1"/>
<circle cx="1212" cy="546" r="7.7" fill="#7fb5af"/>
<circle cx="1209" cy="576" r="7.7" fill="#80b3b2"/>
<circle cx="1200" cy="578" r="7.7" fill="#86b6b3"/>
<circle cx="1186" cy="504" r="7.7" fill="#80b2b1"/>
<circle cx="1182" cy="564" r="7.7" fill="#83b4b2"/>
<circle cx="1248" cy="603" r="7.7" fill="#88b4ac"/>
<circle cx="1253" cy="509" r="7.7" fill="#79acaf"/>
<circle cx="1228" cy="533" r="7.7" fill="#80b0b0"/>
<circle cx="1191" cy="538" r="7.7" fill="#83b6b1"/>
<circle cx="1231" cy="493" r="7.7" fill="#79b0ae"/>
<circle cx="1256" cy="610" r="7.7" fill="#85b6a7"/>
<circle cx="1215" cy="567" r="7.7" fill="#80b3b0"/>
<circle cx="1205" cy="554" r="7.7" fill="#81b1ae"/>
<circle cx="1269" cy="595" r="7.7" fill="#81b4a7"/>
<circle cx="1220" cy="509" r="7.7" fill="#83b5af"/>
<circle cx="1185" cy="554" r="7.7" fill="#82b3ae"/>
<circle cx="1213" cy="488" r="7.7" fill="#79adae"/>
<circle cx="1198" cy="530" r="7.7" fill="#83b3b0"/>
<circle cx="1212" cy="596" r="7.7" fill="#81b3aa"/>
<circle cx="1248" cy="579" r="7.7" fill="#86b6b2"/>
<circle cx="1217" cy="616" r="7.7" fill="#88b8a8"/>
<circle cx="1207" cy="610" r="7.7" fill="#86b3a9"/>
<circle cx="1266" cy="577" r="7.7" fill="#82b7ae"/>
<circle cx="1242" cy="507" r="7.7" fill="#7eb3b2"/>
<circle cx="1233" cy="567" r="7.7" fill="#83b3ad"/>
<circle cx="1230" cy="548" r="7.7" fill="#83b7b3"/>
<circle cx="1323" cy="575" r="7.7" fill="#7cb0a9"/>
<circle cx="1308" cy="606" r="7.7" fill="#81b6a7"/>
<circle cx="1286" cy="598" r="7.7" fill="#82b3a6"/>
<circle cx="1295" cy="590" r="7.7" fill="#7db3a9"/>
<circle cx="1282" cy="586" r="7.7" fill="#7cafa7"/>
<circle cx="1334" cy="582" r="7.7" fill="#7daea6"/>
<circle cx="1277" cy="578" r="7.7" fill="#81b3ac"/>
<circle cx="1332" cy="564" r="7.7" fill="#78aca9"/>
<circle cx="1330" cy="591" r="7.7" fill="#79aea2"/>
<circle cx="1316" cy="586" r="7.7" fill="#80b2a9"/>
<circle cx="1287" cy="562" r="7.7" fill="#7db0af"/>
<circle cx="1288" cy="615" r="7.7" fill="#87b9a7"/>
<circle cx="1343" cy="590" r="7.7" fill="#7cb0a9"/>
<circle cx="1320" cy="556" r="7.7" fill="#79adb0"/>
<circle cx="1307" cy="577" r="7.7" fill="#7cb2ab"/>
<circle cx="1307" cy="593" r="7.7" fill="#82b3aa"/>
<circle cx="1277" cy="603" r="7.7" fill="#85b8a8"/>
<circle cx="1304" cy="548" r="7.7" fill="#76abac"/>
<circle cx="1298" cy="561" r="7.7" fill="#79afae"/>
<circle cx="1294" cy="573" r="7.7" fill="#7eb4af"/>
<circle cx="1299" cy="602" r="7.7" fill="#80b2a6"/>
<circle cx="1309" cy="556" r="7.7" fill="#76acac"/>
<circle cx="1277" cy="568" r="7.7" fill="#7db2ae"/>
<circle cx="1290" cy="552" r="7.7" fill="#79acaf"/>
<circle cx="1317" cy="567" r="7.7" fill="#7bacab"/>
<circle cx="1299" cy="612" r="7.7" fill="#84b8a6"/>
<circle cx="1315" cy="544" r="7.7" fill="#78a9ae"/>
<circle cx="1306" cy="567" r="7.7" fill="#7aabaa"/>
<circle cx="1278" cy="558" r="7.7" fill="#7cafad"/>
<circle cx="1358" cy="614" r="7.7" fill="#a8a868"/>
<circle cx="1243" cy="633" r="7.7" fill="#9fa880"/>
<circle cx="1266" cy="638" r="7.7" fill="#8bbb9f"/>
<circle cx="1270" cy="636" r="7.7" fill="#8bbda0"/>
<circle cx="1272" cy="638" r="7.7" fill="#8bbda2"/>
<circle cx="1270" cy="651" r="7.7" fill="#8ebca3"/>
<circle cx="1266" cy="657" r="7.7" fill="#8fbda1"/>
<circle cx="1282" cy="641" r="7.7" fill="#8cbba1"/>
<circle cx="1281" cy="649" r="7.7" fill="#8cbea0"/>
<circle cx="1288" cy="647" r="7.7" fill="#8cbd9e"/>
<circle cx="1288" cy="653" r="7.7" fill="#8dbda0"/>
<circle cx="1289" cy="655" r="7.7" fill="#8cbfa0"/>
<circle cx="1293" cy="656" r="7.7" fill="#8ec3a4"/>
<circle cx="1293" cy="659" r="7.7" fill="#8dc1a0"/>
<circle cx="1299" cy="662" r="7.7" fill="#8dbfa0"/>
<circle cx="1293" cy="662" r="7.7" fill="#8ebca0"/>
<circle cx="1294" cy="664" r="7.7" fill="#91bfa3"/>
<circle cx="1300" cy="674" r="7.7" fill="#92bda0"/>
<circle cx="1301" cy="676" r="7.7" fill="#95c6a4"/>
<circle cx="1295" cy="679" r="7.7" fill="#93c6a3"/>
<circle cx="1299" cy="679" r="7.7" fill="#98c3a1"/>
<circle cx="1290" cy="678" r="7.7" fill="#96c3a0"/>
<circle cx="1292" cy="687" r="7.7" fill="#99c5a3"/>
<circle cx="1294" cy="692" r="7.7" fill="#9bc69e"/>
<circle cx="1290" cy="691" r="7.7" fill="#9ac4a1"/>
<circle cx="1301" cy="698" r="7.7" fill="#a0c99f"/>
<circle cx="1295" cy="699" r="7.7" fill="#a0cca1"/>
<circle cx="1290" cy="706" r="7.7" fill="#a0cb9d"/>
<circle cx="1230" cy="691" r="7.7" fill="#a0c0a0"/>
<circle cx="1252" cy="687" r="7.7" fill="#8cc490"/>
<circle cx="1255" cy="694" r="7.7" fill="#8cc490"/>
<circle cx="1280" cy="704" r="7.7" fill="#b0c088"/>
<circle cx="1248" cy="709" r="7.7" fill="#95c2a2"/>
<circle cx="1354" cy="770" r="7.7" fill="#97c699"/>
<circle cx="1378" cy="781" r="7.7" fill="#9dca97"/>
<circle cx="1370" cy="789" r="7.7" fill="#99c493"/>
<circle cx="1397" cy="770" r="7.7" fill="#98c58e"/>
<circle cx="1343" cy="734" r="7.7" fill="#99c89a"/>
<circle cx="1382" cy="742" r="7.7" fill="#94c698"/>
<circle cx="1404" cy="751" r="7.7" fill="#95c68f"/>
<circle cx="1419" cy="757" r="7.7" fill="#9ac88d"/>
<circle cx="1434" cy="760" r="7.7" fill="#9cc887"/>
<circle cx="1141" cy="699" r="7.7" fill="#9fccb1"/>
<circle cx="1173" cy="701" r="7.7" fill="#9fc6ab"/>
<circle cx="1200" cy="706" r="7.7" fill="#9ac5ac"/>
<circle cx="1112" cy="696" r="7.7" fill="#a0c8b3"/>
<circle cx="1062" cy="693" r="7.7" fill="#95beb1"/>
<circle cx="1040" cy="696" r="7.7" fill="#9cc6b6"/>
<circle cx="990" cy="699" r="7.7" fill="#9fc4b7"/>
<circle cx="965" cy="697" r="7.7" fill="#9ac3b8"/>
<circle cx="930" cy="694" r="7.7" fill="#98c2bd"/>
<circle cx="900" cy="684" r="7.7" fill="#96bfc2"/>
<circle cx="875" cy="674" r="7.7" fill="#9cc4c5"/>
<circle cx="850" cy="668" r="7.7" fill="#9bc2c5"/>
<circle cx="1231" cy="712" r="7.7" fill="#92bea4"/>
<circle cx="1516" cy="760" r="7.7" fill="#8fba82"/>
<circle cx="1531" cy="768" r="7.7" fill="#a3ac5a"/>
<circle cx="1538" cy="784" r="7.7" fill="#9aaf78"/>
<circle cx="1481" cy="791" r="7.7" fill="#8ec975"/>
<circle cx="1482" cy="797" r="7.7" fill="#8fca7f"/>
<circle cx="1490" cy="793" r="7.7" fill="#8dc979"/>
<circle cx="1497" cy="789" r="7.7" fill="#8ec778"/>
<circle cx="1509" cy="788" r="7.7" fill="#94cb7f"/>
<circle cx="1512" cy="793" r="7.7" fill="#92c67a"/>
<circle cx="1620" cy="562" r="7.7" fill="#868a7a"/>
<circle cx="1636" cy="590" r="7.7" fill="#78a87e"/>
<circle cx="1648" cy="592" r="7.7" fill="#52997a"/>
<circle cx="1658" cy="656" r="7.7" fill="#8a8c7e"/>
<circle cx="1644" cy="675" r="7.7" fill="#857c70"/>
<circle cx="1634" cy="707" r="7.7" fill="#bf875e"/>
<circle cx="1633" cy="710" r="7.7" fill="#b98a5e"/>
<circle cx="1624" cy="716" r="7.7" fill="#b78f5e"/>
<circle cx="1623" cy="719" r="7.7" fill="#b49060"/>
<circle cx="1624" cy="722" r="7.7" fill="#ae8e5e"/>
<circle cx="1621" cy="727" r="7.7" fill="#ab8f5b"/>
<circle cx="332" cy="503" r="15" fill="#9bbfd4"/>
<circle cx="1454" cy="791" r="14" fill="#a3cf8a"/>
<circle cx="2221" cy="365" r="7.7" fill="#2373a4"/>
<circle cx="2215" cy="366" r="7.7" fill="#2675a9"/>
<circle cx="2210" cy="365" r="7.7" fill="#2c7aab"/>
<circle cx="2208" cy="363" r="7.7" fill="#2475a7"/>
<circle cx="2207" cy="365" r="7.7" fill="#2675a9"/>
<circle cx="2202" cy="365" r="7.7" fill="#2576a8"/>
<circle cx="2200" cy="363" r="7.7" fill="#2375a7"/>
<circle cx="2198" cy="365" r="7.7" fill="#2777ac"/>
<circle cx="2191" cy="372" r="7.7" fill="#2576a9"/>
<circle cx="2189" cy="369" r="7.7" fill="#2272a7"/>
<circle cx="2188" cy="368" r="7.7" fill="#2877a8"/>
<circle cx="2184" cy="368" r="7.7" fill="#2a78aa"/>
<circle cx="2184" cy="369" r="7.7" fill="#277baa"/>
<circle cx="2180" cy="366" r="7.7" fill="#2675a6"/>
<circle cx="2179" cy="366" r="7.7" fill="#2373a5"/>
<circle cx="2173" cy="369" r="7.7" fill="#287aa7"/>
<circle cx="2169" cy="370" r="7.7" fill="#2878aa"/>
<circle cx="2170" cy="366" r="7.7" fill="#2776ab"/>
<circle cx="2161" cy="370" r="7.7" fill="#2978a8"/>
<circle cx="2159" cy="366" r="7.7" fill="#2273a5"/>
<circle cx="2159" cy="364" r="7.7" fill="#2877a9"/>
<circle cx="2153" cy="366" r="7.7" fill="#2674a7"/>
<circle cx="2151" cy="369" r="7.7" fill="#2976a7"/>
<circle cx="2153" cy="370" r="7.7" fill="#2578a9"/>
<circle cx="2148" cy="369" r="7.7" fill="#2675a6"/>
<circle cx="2144" cy="371" r="7.7" fill="#2876a9"/>
<circle cx="2137" cy="367" r="7.7" fill="#2575a5"/>
<circle cx="2137" cy="372" r="7.7" fill="#2c7bab"/>
<circle cx="2135" cy="369" r="7.7" fill="#2978a6"/>
<circle cx="2132" cy="370" r="7.7" fill="#2674a7"/>
<circle cx="2128" cy="370" r="7.7" fill="#2875a4"/>
<circle cx="2124" cy="371" r="7.7" fill="#2873a4"/>
<circle cx="2123" cy="372" r="7.7" fill="#2577a5"/>
<circle cx="2121" cy="372" r="7.7" fill="#2676aa"/>
<circle cx="2118" cy="373" r="7.7" fill="#2d7ead"/>
<circle cx="2113" cy="370" r="7.7" fill="#2875ab"/>
<circle cx="2109" cy="370" r="7.7" fill="#2b7aac"/>
<circle cx="2108" cy="370" r="7.7" fill="#2b79ac"/>
<circle cx="2106" cy="369" r="7.7" fill="#2874a9"/>
<circle cx="2100" cy="371" r="7.7" fill="#2a77a9"/>
<circle cx="2099" cy="368" r="7.7" fill="#2879a9"/>
<circle cx="2095" cy="365" r="7.7" fill="#2979a8"/>
<circle cx="2092" cy="369" r="7.7" fill="#2b7bab"/>
<circle cx="2089" cy="369" r="7.7" fill="#2c78a8"/>
<circle cx="2088" cy="365" r="7.7" fill="#2b78a8"/>
<circle cx="2085" cy="368" r="7.7" fill="#2b79a6"/>
<circle cx="2080" cy="372" r="7.7" fill="#2b77a8"/>
<circle cx="2077" cy="367" r="7.7" fill="#2e7aa9"/>
<circle cx="2075" cy="367" r="7.7" fill="#2875a5"/>
<circle cx="2074" cy="365" r="7.7" fill="#2a76a4"/>
<circle cx="2071" cy="367" r="7.7" fill="#2d78a9"/>
<circle cx="2068" cy="368" r="7.7" fill="#307ca7"/>
<circle cx="2060" cy="366" r="7.7" fill="#2c7ea8"/>
<circle cx="2061" cy="362" r="7.7" fill="#2c78aa"/>
<circle cx="2058" cy="367" r="7.7" fill="#3178a9"/>
<circle cx="2055" cy="364" r="7.7" fill="#2a7ba8"/>
<circle cx="2052" cy="368" r="7.7" fill="#2875a5"/>
<circle cx="2049" cy="371" r="7.7" fill="#2f7cab"/>
<circle cx="2045" cy="374" r="7.7" fill="#2b79a9"/>
<circle cx="2044" cy="369" r="7.7" fill="#2b77a8"/>
<circle cx="2037" cy="371" r="7.7" fill="#2c7aa6"/>
<circle cx="2038" cy="371" r="7.7" fill="#2f7baa"/>
<circle cx="2034" cy="374" r="7.7" fill="#2e7bac"/>
<circle cx="2030" cy="373" r="7.7" fill="#2d76a6"/>
<circle cx="2030" cy="375" r="7.7" fill="#2979a5"/>
<circle cx="2028" cy="372" r="7.7" fill="#2e7da6"/>
<circle cx="2021" cy="376" r="7.7" fill="#327cac"/>
<circle cx="2018" cy="375" r="7.7" fill="#2b78a7"/>
<circle cx="2018" cy="376" r="7.7" fill="#2f7da9"/>
<circle cx="2010" cy="374" r="7.7" fill="#2e7aa6"/>
<circle cx="2011" cy="382" r="7.7" fill="#2e78a5"/>
<circle cx="2010" cy="377" r="7.7" fill="#2d79a9"/>
<circle cx="2007" cy="379" r="7.7" fill="#317aa8"/>
<circle cx="1999" cy="378" r="7.7" fill="#2f7aa8"/>
<circle cx="1997" cy="378" r="7.7" fill="#2f7daa"/>
<circle cx="1996" cy="383" r="7.7" fill="#327ba9"/>
<circle cx="1994" cy="382" r="7.7" fill="#327ca7"/>
<circle cx="1989" cy="381" r="7.7" fill="#3178a8"/>
<circle cx="1990" cy="387" r="7.7" fill="#2e7dab"/>
<circle cx="1985" cy="380" r="7.7" fill="#2e7ca9"/>
<circle cx="1982" cy="386" r="7.7" fill="#307ca8"/>
<circle cx="1981" cy="384" r="7.7" fill="#337faa"/>
<circle cx="1974" cy="387" r="7.7" fill="#317da7"/>
<circle cx="1974" cy="389" r="7.7" fill="#347da9"/>
<circle cx="1971" cy="386" r="7.7" fill="#327eaa"/>
<circle cx="1969" cy="389" r="7.7" fill="#307ca4"/>
<circle cx="1963" cy="391" r="7.7" fill="#327ea9"/>
<circle cx="1961" cy="390" r="7.7" fill="#307ba2"/>
<circle cx="1952" cy="393" r="7.7" fill="#347ea6"/>
<circle cx="1957" cy="393" r="7.7" fill="#367ca5"/>
<circle cx="1953" cy="390" r="7.7" fill="#337fa9"/>
<circle cx="1949" cy="391" r="7.7" fill="#337ca5"/>
<circle cx="1947" cy="395" r="7.7" fill="#3881a8"/>
<circle cx="1942" cy="395" r="7.7" fill="#367fa4"/>
<circle cx="1942" cy="397" r="7.7" fill="#3680a1"/>
<circle cx="1940" cy="399" r="7.7" fill="#3280a6"/>
<circle cx="1933" cy="402" r="7.7" fill="#3681a7"/>
<circle cx="1932" cy="399" r="7.7" fill="#3781a5"/>
<circle cx="1932" cy="404" r="7.7" fill="#3783aa"/>
<circle cx="1928" cy="400" r="7.7" fill="#397fa7"/>
<circle cx="1926" cy="402" r="7.7" fill="#3a81a7"/>
<circle cx="1920" cy="403" r="7.7" fill="#3c83aa"/>
<circle cx="1916" cy="404" r="7.7" fill="#3c86a9"/>
<circle cx="1916" cy="410" r="7.7" fill="#3c85a8"/>
<circle cx="1911" cy="405" r="7.7" fill="#3d84a7"/>
<circle cx="1908" cy="406" r="7.7" fill="#3880a3"/>
<circle cx="1908" cy="408" r="7.7" fill="#3c82a5"/>
<circle cx="1902" cy="409" r="7.7" fill="#3b81a6"/>
<circle cx="1903" cy="411" r="7.7" fill="#3c84a7"/>
<circle cx="1901" cy="409" r="7.7" fill="#3980a1"/>
<circle cx="1897" cy="412" r="7.7" fill="#3a85a4"/>
<circle cx="1892" cy="411" r="7.7" fill="#3d85a4"/>
<circle cx="1890" cy="417" r="7.7" fill="#3e86a3"/>
<circle cx="1886" cy="414" r="7.7" fill="#3e84a5"/>
<circle cx="1888" cy="421" r="7.7" fill="#3c84a5"/>
<circle cx="1883" cy="418" r="7.7" fill="#3c86a4"/>
<circle cx="1877" cy="418" r="7.7" fill="#4287a6"/>
<circle cx="1879" cy="422" r="7.7" fill="#4186a7"/>
<circle cx="1872" cy="417" r="7.7" fill="#4088a7"/>
<circle cx="1867" cy="422" r="7.7" fill="#4387a3"/>
<circle cx="1868" cy="418" r="7.7" fill="#3d82a0"/>
<circle cx="1866" cy="422" r="7.7" fill="#4289a6"/>
<circle cx="1862" cy="426" r="7.7" fill="#4388a4"/>
<circle cx="1859" cy="425" r="7.7" fill="#4385a4"/>
<circle cx="1858" cy="425" r="7.7" fill="#4788a7"/>
<circle cx="1853" cy="429" r="7.7" fill="#4486a1"/>
<circle cx="1854" cy="429" r="7.7" fill="#4289a1"/>
<circle cx="1846" cy="426" r="7.7" fill="#4487a2"/>
<circle cx="1845" cy="434" r="7.7" fill="#488ba5"/>
<circle cx="1841" cy="430" r="7.7" fill="#47879e"/>
<circle cx="1840" cy="431" r="7.7" fill="#498c9f"/>
<circle cx="1840" cy="430" r="7.7" fill="#4989a3"/>
<circle cx="1838" cy="438" r="7.7" fill="#4c87a1"/>
<circle cx="1833" cy="440" r="7.7" fill="#498b9f"/>
<circle cx="1827" cy="434" r="7.7" fill="#4a89a0"/>
<circle cx="1827" cy="437" r="7.7" fill="#48899c"/>
<circle cx="1821" cy="439" r="7.7" fill="#4b8d9e"/>
<circle cx="1820" cy="438" r="7.7" fill="#4b899f"/>
<circle cx="1818" cy="440" r="7.7" fill="#4d8d9e"/>
<circle cx="1812" cy="443" r="7.7" fill="#4a8a9d"/>
<circle cx="1809" cy="439" r="7.7" fill="#508d9f"/>
<circle cx="1809" cy="441" r="7.7" fill="#4f8b9f"/>
<circle cx="1802" cy="445" r="7.7" fill="#4f8da0"/>
<circle cx="1801" cy="446" r="7.7" fill="#4d8b9d"/>
<circle cx="1799" cy="445" r="7.7" fill="#4f8d9c"/>
<circle cx="1798" cy="448" r="7.7" fill="#538f9e"/>
<circle cx="1795" cy="448" r="7.7" fill="#5591a2"/>
<circle cx="1789" cy="452" r="7.7" fill="#578c9f"/>
<circle cx="1789" cy="451" r="7.7" fill="#55909c"/>
<circle cx="1786" cy="449" r="7.7" fill="#538b99"/>
<circle cx="1782" cy="452" r="7.7" fill="#5a909d"/>
<circle cx="1783" cy="453" r="7.7" fill="#548b98"/>
<circle cx="1774" cy="452" r="7.7" fill="#588d9b"/>
<circle cx="1773" cy="457" r="7.7" fill="#5b949c"/>
<circle cx="1773" cy="456" r="7.7" fill="#5b9099"/>
<circle cx="1769" cy="460" r="7.7" fill="#598c96"/>
<circle cx="1767" cy="457" r="7.7" fill="#5b9599"/>
<circle cx="1765" cy="457" r="7.7" fill="#578b94"/>
<circle cx="1761" cy="461" r="7.7" fill="#5e9698"/>
<circle cx="1759" cy="459" r="7.7" fill="#63999a"/>
<circle cx="1757" cy="460" r="7.7" fill="#609699"/>
<circle cx="1749" cy="460" r="7.7" fill="#619595"/>
<circle cx="1751" cy="460" r="7.7" fill="#619593"/>
<circle cx="1750" cy="462" r="7.7" fill="#669997"/>
<circle cx="1741" cy="467" r="7.7" fill="#5e9591"/>
<circle cx="1741" cy="467" r="7.7" fill="#649794"/>
<circle cx="1740" cy="468" r="7.7" fill="#679c94"/>
<circle cx="1733" cy="465" r="7.7" fill="#679a93"/>
<circle cx="1734" cy="467" r="7.7" fill="#659a8f"/>
<circle cx="1730" cy="468" r="7.7" fill="#679b90"/>
<circle cx="1732" cy="477" r="7.7" fill="#669c96"/>
<circle cx="1720" cy="476" r="7.7" fill="#6b9d98"/>
<circle cx="1718" cy="470" r="7.7" fill="#659c95"/>
<circle cx="1726" cy="467" r="7.7" fill="#669b95"/>
<circle cx="1724" cy="473" r="7.7" fill="#659a94"/>
<circle cx="1723" cy="470" r="7.7" fill="#659a97"/>
<circle cx="1722" cy="472" r="7.7" fill="#699b96"/>
<circle cx="1738" cy="477" r="7.7" fill="#679f97"/>
<circle cx="1725" cy="470" r="7.7" fill="#68a099"/>
<circle cx="1718" cy="465" r="7.7" fill="#639b95"/>
<circle cx="1716" cy="470" r="7.7" fill="#6a9d98"/>
<circle cx="1721" cy="477" r="7.7" fill="#639996"/>
<circle cx="1712" cy="446" r="7.7" fill="#6e8f88"/>
<circle cx="1765" cy="436" r="7.7" fill="#5d9ca2"/>
<circle cx="1772" cy="432" r="7.7" fill="#5b959f"/>
<circle cx="1778" cy="441" r="7.7" fill="#58949e"/>
<circle cx="1792" cy="444" r="7.7" fill="#5c979f"/>
<circle cx="1878" cy="452" r="7.7" fill="#4885a3"/>
<circle cx="1848" cy="460" r="7.7" fill="#4682a0"/>
<circle cx="1961" cy="425" r="7.7" fill="#3c85ad"/>
<circle cx="2047" cy="402" r="7.7" fill="#2f79aa"/>
<circle cx="1842" cy="451" r="7.7" fill="#4784a1"/>
<circle cx="1929" cy="435" r="7.7" fill="#347ea6"/>
<circle cx="2082" cy="394" r="7.7" fill="#2d7baf"/>
<circle cx="2088" cy="394" r="7.7" fill="#2879aa"/>
<circle cx="1870" cy="439" r="7.7" fill="#4788a3"/>
<circle cx="1858" cy="453" r="7.7" fill="#4b89a3"/>
<circle cx="2033" cy="422" r="7.7" fill="#2f80ab"/>
<circle cx="1956" cy="432" r="7.7" fill="#3a84a9"/>
<circle cx="1993" cy="431" r="7.7" fill="#3981a9"/>
<circle cx="1863" cy="449" r="7.7" fill="#4887a0"/>
<circle cx="2094" cy="389" r="7.7" fill="#2a7bad"/>
<circle cx="1962" cy="430" r="7.7" fill="#387da8"/>
<circle cx="1868" cy="462" r="7.7" fill="#48879d"/>
<circle cx="1840" cy="446" r="7.7" fill="#4789a4"/>
<circle cx="1880" cy="452" r="7.7" fill="#488ba3"/>
<circle cx="2088" cy="391" r="7.7" fill="#2e7bb0"/>
<circle cx="2004" cy="417" r="7.7" fill="#397eac"/>
<circle cx="2090" cy="395" r="7.7" fill="#2b79ae"/>
<circle cx="1933" cy="430" r="7.7" fill="#3a7ea8"/>
<circle cx="1930" cy="433" r="7.7" fill="#3c84ac"/>
<circle cx="2054" cy="419" r="7.7" fill="#317bad"/>
<circle cx="1964" cy="428" r="7.7" fill="#3580a7"/>
<circle cx="2062" cy="418" r="7.7" fill="#2d7da9"/>
<circle cx="2063" cy="397" r="7.7" fill="#2a77ab"/>
<circle cx="1909" cy="439" r="7.7" fill="#4284ab"/>
<circle cx="1868" cy="452" r="7.7" fill="#4988a3"/>
<circle cx="1963" cy="420" r="7.7" fill="#3a83aa"/>
<circle cx="1887" cy="449" r="7.7" fill="#4185a3"/>
<circle cx="1950" cy="422" r="7.7" fill="#3b83aa"/>
<circle cx="1852" cy="462" r="7.7" fill="#4988a1"/>
<circle cx="2093" cy="405" r="7.7" fill="#2c78a9"/>
<circle cx="1992" cy="428" r="7.7" fill="#3b85ab"/>
<circle cx="2100" cy="393" r="7.7" fill="#2a78ab"/>
<circle cx="1988" cy="411" r="7.7" fill="#3982aa"/>
<circle cx="1960" cy="417" r="7.7" fill="#3983a6"/>
<circle cx="1925" cy="447" r="7.7" fill="#3a81a7"/>
<circle cx="2009" cy="428" r="7.7" fill="#3b81ad"/>
<circle cx="2006" cy="412" r="7.7" fill="#377ca9"/>
<circle cx="1913" cy="446" r="7.7" fill="#387ea7"/>
<circle cx="2101" cy="412" r="7.7" fill="#2b78aa"/>
<circle cx="1868" cy="451" r="7.7" fill="#498ca6"/>
<circle cx="2053" cy="420" r="7.7" fill="#2c77a8"/>
<circle cx="2092" cy="409" r="7.7" fill="#2b79ab"/>
<circle cx="2039" cy="402" r="7.7" fill="#317aa6"/>
<circle cx="1889" cy="457" r="7.7" fill="#4788a4"/>
<circle cx="1961" cy="439" r="7.7" fill="#3a7fab"/>
<circle cx="1936" cy="436" r="7.7" fill="#3782ac"/>
<circle cx="1954" cy="434" r="7.7" fill="#397ea8"/>
<circle cx="1840" cy="466" r="7.7" fill="#4c8aa3"/>
<circle cx="1848" cy="483" r="7.7" fill="#45819a"/>
<circle cx="1866" cy="470" r="7.7" fill="#4c88a2"/>
<circle cx="1876" cy="478" r="7.7" fill="#4686a0"/>
<circle cx="1862" cy="488" r="7.7" fill="#4987a1"/>
<circle cx="1874" cy="495" r="7.7" fill="#4882a2"/>
<circle cx="1908" cy="457" r="7.7" fill="#3d86a9"/>
<circle cx="1912" cy="470" r="7.7" fill="#3f84a8"/>
<circle cx="1916" cy="478" r="7.7" fill="#3b84a6"/>
<circle cx="1934" cy="451" r="7.7" fill="#3e81ab"/>
<circle cx="1952" cy="468" r="7.7" fill="#387ea9"/>
<circle cx="1974" cy="444" r="7.7" fill="#3782a8"/>
<circle cx="1992" cy="438" r="7.7" fill="#3c82aa"/>
<circle cx="2033" cy="405" r="7.7" fill="#2d77a6"/>
<circle cx="2038" cy="418" r="7.7" fill="#2f7dae"/>
<circle cx="2048" cy="425" r="7.7" fill="#2d7dab"/>
<circle cx="1874" cy="495" r="7.7" fill="#5a8494"/>
<circle cx="2224" cy="362" r="7.7" fill="#2679ab"/>
<circle cx="2216" cy="367" r="7.7" fill="#2a79aa"/>
<circle cx="2223" cy="371" r="7.7" fill="#2675aa"/>
<circle cx="2220" cy="371" r="7.7" fill="#2672aa"/>
<circle cx="2220" cy="371" r="7.7" fill="#2475aa"/>
<circle cx="2218" cy="376" r="7.7" fill="#2272a8"/>
<circle cx="2210" cy="377" r="7.7" fill="#2976a9"/>
<circle cx="2213" cy="378" r="7.7" fill="#2475a7"/>
<circle cx="2222" cy="380" r="7.7" fill="#2471a3"/>
<circle cx="2217" cy="386" r="7.7" fill="#2572a8"/>
<circle cx="2213" cy="384" r="7.7" fill="#2675ab"/>
<circle cx="2215" cy="389" r="7.7" fill="#1e71a2"/>
<circle cx="2218" cy="391" r="7.7" fill="#2475aa"/>
<circle cx="2217" cy="392" r="7.7" fill="#2673a9"/>
<circle cx="2214" cy="392" r="7.7" fill="#2575ac"/>
<circle cx="2213" cy="397" r="7.7" fill="#2375a9"/>
<circle cx="2212" cy="398" r="7.7" fill="#2173a5"/>
<circle cx="2215" cy="399" r="7.7" fill="#2775aa"/>
<circle cx="2202" cy="403" r="7.7" fill="#2275a9"/>
<circle cx="2217" cy="404" r="7.7" fill="#2577aa"/>
<circle cx="2213" cy="406" r="7.7" fill="#2571a6"/>
<circle cx="2202" cy="404" r="7.7" fill="#2574aa"/>
<circle cx="2205" cy="409" r="7.7" fill="#2272a7"/>
<circle cx="2210" cy="411" r="7.7" fill="#2571aa"/>
<circle cx="2208" cy="416" r="7.7" fill="#2772ab"/>
<circle cx="2205" cy="414" r="7.7" fill="#2773a9"/>
<circle cx="2206" cy="418" r="7.7" fill="#2873a7"/>
<circle cx="2209" cy="423" r="7.7" fill="#2874a7"/>
<circle cx="2209" cy="426" r="7.7" fill="#2479ad"/>
<circle cx="2201" cy="422" r="7.7" fill="#2471a5"/>
<circle cx="2202" cy="425" r="7.7" fill="#2571ab"/>
<circle cx="2202" cy="430" r="7.7" fill="#1f70a5"/>
<circle cx="2198" cy="428" r="7.7" fill="#2976ac"/>
<circle cx="2207" cy="435" r="7.7" fill="#2375a9"/>
<circle cx="2200" cy="434" r="7.7" fill="#2071a3"/>
<circle cx="2196" cy="436" r="7.7" fill="#2470a8"/>
<circle cx="2197" cy="435" r="7.7" fill="#2575aa"/>
<circle cx="2191" cy="437" r="7.7" fill="#236ea7"/>
<circle cx="2201" cy="445" r="7.7" fill="#2271a7"/>
<circle cx="2200" cy="445" r="7.7" fill="#2677a9"/>
<circle cx="2197" cy="445" r="7.7" fill="#2372a4"/>
<circle cx="2189" cy="439" r="7.7" fill="#2674aa"/>
<circle cx="2195" cy="449" r="7.7" fill="#2372a6"/>
<circle cx="2197" cy="449" r="7.7" fill="#2674a8"/>
<circle cx="2191" cy="452" r="7.7" fill="#2474a8"/>
<circle cx="2190" cy="454" r="7.7" fill="#2875ab"/>
<circle cx="2186" cy="456" r="7.7" fill="#2978ad"/>
<circle cx="2184" cy="455" r="7.7" fill="#2774a9"/>
<circle cx="2180" cy="455" r="7.7" fill="#2673a9"/>
<circle cx="2184" cy="460" r="7.7" fill="#2475a9"/>
<circle cx="2187" cy="465" r="7.7" fill="#2776ad"/>
<circle cx="2184" cy="465" r="7.7" fill="#2575a9"/>
<circle cx="2182" cy="462" r="7.7" fill="#236fa8"/>
<circle cx="2186" cy="472" r="7.7" fill="#2675af"/>
<circle cx="2181" cy="472" r="7.7" fill="#2673aa"/>
<circle cx="2178" cy="468" r="7.7" fill="#2676a8"/>
<circle cx="2184" cy="478" r="7.7" fill="#2071a6"/>
<circle cx="2177" cy="473" r="7.7" fill="#2672a8"/>
<circle cx="2175" cy="476" r="7.7" fill="#2773a8"/>
<circle cx="2179" cy="484" r="7.7" fill="#2372a8"/>
<circle cx="2172" cy="481" r="7.7" fill="#2470a8"/>
<circle cx="2176" cy="485" r="7.7" fill="#2574a7"/>
<circle cx="2178" cy="487" r="7.7" fill="#2673a6"/>
<circle cx="2161" cy="481" r="7.7" fill="#2774ad"/>
<circle cx="2171" cy="490" r="7.7" fill="#2473aa"/>
<circle cx="2166" cy="489" r="7.7" fill="#2773ab"/>
<circle cx="2164" cy="494" r="7.7" fill="#2475ac"/>
<circle cx="2167" cy="492" r="7.7" fill="#2475a9"/>
<circle cx="2158" cy="488" r="7.7" fill="#2671ab"/>
<circle cx="2161" cy="496" r="7.7" fill="#2571a8"/>
<circle cx="2156" cy="493" r="7.7" fill="#2873a6"/>
<circle cx="2154" cy="495" r="7.7" fill="#2876ab"/>
<circle cx="2155" cy="497" r="7.7" fill="#2373a9"/>
<circle cx="2158" cy="504" r="7.7" fill="#2072a7"/>
<circle cx="2151" cy="503" r="7.7" fill="#2270a5"/>
<circle cx="2146" cy="498" r="7.7" fill="#2370a9"/>
<circle cx="2157" cy="508" r="7.7" fill="#2674ab"/>
<circle cx="2151" cy="511" r="7.7" fill="#2675a9"/>
<circle cx="2142" cy="506" r="7.7" fill="#2374aa"/>
<circle cx="2144" cy="507" r="7.7" fill="#2470a6"/>
<circle cx="2145" cy="512" r="7.7" fill="#2876a9"/>
<circle cx="2139" cy="512" r="7.7" fill="#2473aa"/>
<circle cx="2147" cy="519" r="7.7" fill="#2271a6"/>
<circle cx="2141" cy="518" r="7.7" fill="#2272aa"/>
<circle cx="2142" cy="516" r="7.7" fill="#2476a9"/>
<circle cx="2136" cy="517" r="7.7" fill="#2676aa"/>
<circle cx="2134" cy="519" r="7.7" fill="#2370a5"/>
<circle cx="2133" cy="520" r="7.7" fill="#2879ab"/>
<circle cx="2143" cy="531" r="7.7" fill="#2874ac"/>
<circle cx="2133" cy="524" r="7.7" fill="#2875a9"/>
<circle cx="2133" cy="529" r="7.7" fill="#2878a6"/>
<circle cx="2130" cy="530" r="7.7" fill="#2474a9"/>
<circle cx="2135" cy="534" r="7.7" fill="#2876aa"/>
<circle cx="2120" cy="530" r="7.7" fill="#2271a8"/>
<circle cx="2126" cy="533" r="7.7" fill="#2470a7"/>
<circle cx="2128" cy="538" r="7.7" fill="#2875ac"/>
<circle cx="2122" cy="540" r="7.7" fill="#2772ac"/>
<circle cx="2126" cy="543" r="7.7" fill="#2374a8"/>
<circle cx="2123" cy="542" r="7.7" fill="#2a74ac"/>
<circle cx="2115" cy="539" r="7.7" fill="#2373a6"/>
<circle cx="2115" cy="545" r="7.7" fill="#2675aa"/>
<circle cx="2117" cy="544" r="7.7" fill="#2674ac"/>
<circle cx="2110" cy="546" r="7.7" fill="#2574a9"/>
<circle cx="2111" cy="547" r="7.7" fill="#2874aa"/>
<circle cx="2118" cy="555" r="7.7" fill="#2472ab"/>
<circle cx="2196" cy="395" r="7.7" fill="#2573a9"/>
<circle cx="2202" cy="401" r="7.7" fill="#2975ae"/>
<circle cx="2192" cy="403" r="7.7" fill="#2372a4"/>
<circle cx="2188" cy="404" r="7.7" fill="#2275a5"/>
<circle cx="2190" cy="413" r="7.7" fill="#2576a8"/>
<circle cx="2183" cy="410" r="7.7" fill="#2778a9"/>
<circle cx="2191" cy="422" r="7.7" fill="#2673a7"/>
<circle cx="2188" cy="422" r="7.7" fill="#2774a8"/>
<circle cx="2181" cy="430" r="7.7" fill="#2a77a8"/>
<circle cx="2183" cy="434" r="7.7" fill="#2575a6"/>
<circle cx="2183" cy="438" r="7.7" fill="#2b77a8"/>
<circle cx="2176" cy="443" r="7.7" fill="#2973a6"/>
<circle cx="2172" cy="443" r="7.7" fill="#2476a8"/>
<circle cx="2168" cy="448" r="7.7" fill="#2878ac"/>
<circle cx="2167" cy="456" r="7.7" fill="#2c78ac"/>
<circle cx="2170" cy="458" r="7.7" fill="#2979a7"/>
<circle cx="2158" cy="461" r="7.7" fill="#2d7cac"/>
<circle cx="2162" cy="464" r="7.7" fill="#2c79a9"/>
<circle cx="2153" cy="463" r="7.7" fill="#2978ad"/>
<circle cx="2150" cy="472" r="7.7" fill="#2a75a6"/>
<circle cx="2153" cy="475" r="7.7" fill="#2b78a8"/>
<circle cx="2147" cy="479" r="7.7" fill="#2b7aab"/>
<circle cx="2140" cy="480" r="7.7" fill="#2976a8"/>
<circle cx="2146" cy="484" r="7.7" fill="#2977a9"/>
<circle cx="2140" cy="495" r="7.7" fill="#2b77aa"/>
<circle cx="2139" cy="493" r="7.7" fill="#2c78a6"/>
<circle cx="2133" cy="496" r="7.7" fill="#2f7eab"/>
<circle cx="2127" cy="503" r="7.7" fill="#2d78ae"/>
<circle cx="2127" cy="505" r="7.7" fill="#2c77a9"/>
<circle cx="2121" cy="507" r="7.7" fill="#2a77a8"/>
<circle cx="2126" cy="512" r="7.7" fill="#2c79a8"/>
<circle cx="2122" cy="513" r="7.7" fill="#2d77a7"/>
<circle cx="2115" cy="518" r="7.7" fill="#2a73a5"/>
<circle cx="2109" cy="522" r="7.7" fill="#2d7aaa"/>
<circle cx="2112" cy="524" r="7.7" fill="#2976a9"/>
<circle cx="2105" cy="528" r="7.7" fill="#2b75a7"/>
<circle cx="2112" cy="555" r="7.7" fill="#2776a6"/>
<circle cx="2111" cy="556" r="7.7" fill="#2876aa"/>
<circle cx="2116" cy="564" r="7.7" fill="#2b7aaa"/>
<circle cx="2104" cy="557" r="7.7" fill="#2a78a9"/>
<circle cx="2109" cy="568" r="7.7" fill="#2a76a5"/>
<circle cx="2092" cy="549" r="7.7" fill="#2c78a6"/>
<circle cx="2101" cy="561" r="7.7" fill="#3075aa"/>
<circle cx="2096" cy="563" r="7.7" fill="#2a79a9"/>
<circle cx="2089" cy="557" r="7.7" fill="#2d7aaa"/>
<circle cx="2097" cy="580" r="7.7" fill="#2876a5"/>
<circle cx="2090" cy="569" r="7.7" fill="#2c76a5"/>
<circle cx="2089" cy="573" r="7.7" fill="#2b74a7"/>
<circle cx="2084" cy="570" r="7.7" fill="#2976a5"/>
<circle cx="2085" cy="576" r="7.7" fill="#2b77a4"/>
<circle cx="2082" cy="580" r="7.7" fill="#317ba9"/>
<circle cx="2077" cy="579" r="7.7" fill="#2c77a6"/>
<circle cx="2073" cy="573" r="7.7" fill="#2d7ba8"/>
<circle cx="2081" cy="589" r="7.7" fill="#2e76a3"/>
<circle cx="2072" cy="584" r="7.7" fill="#2d78a4"/>
<circle cx="2066" cy="586" r="7.7" fill="#307ea3"/>
<circle cx="2067" cy="583" r="7.7" fill="#3179a4"/>
<circle cx="2062" cy="582" r="7.7" fill="#337ea8"/>
<circle cx="2058" cy="583" r="7.7" fill="#347da4"/>
<circle cx="2058" cy="586" r="7.7" fill="#327ea8"/>
<circle cx="2057" cy="588" r="7.7" fill="#3479a4"/>
<circle cx="2056" cy="599" r="7.7" fill="#337aa3"/>
<circle cx="2053" cy="596" r="7.7" fill="#3479a5"/>
<circle cx="2048" cy="596" r="7.7" fill="#347aa2"/>
<circle cx="2046" cy="595" r="7.7" fill="#357aa3"/>
<circle cx="2038" cy="593" r="7.7" fill="#367b9f"/>
<circle cx="2040" cy="601" r="7.7" fill="#387fa3"/>
<circle cx="2042" cy="603" r="7.7" fill="#397da1"/>
<circle cx="2044" cy="611" r="7.7" fill="#367ea2"/>
<circle cx="2040" cy="611" r="7.7" fill="#3a7e9f"/>
<circle cx="2038" cy="611" r="7.7" fill="#3b81a2"/>
<circle cx="2028" cy="594" r="7.7" fill="#397ca3"/>
<circle cx="2029" cy="607" r="7.7" fill="#3a789e"/>
<circle cx="2023" cy="603" r="7.7" fill="#3b7ea0"/>
<circle cx="2026" cy="616" r="7.7" fill="#3c7e9e"/>
<circle cx="2022" cy="606" r="7.7" fill="#397f9d"/>
<circle cx="2018" cy="607" r="7.7" fill="#387e99"/>
<circle cx="2021" cy="617" r="7.7" fill="#3c7e9c"/>
<circle cx="2018" cy="617" r="7.7" fill="#3b819b"/>
<circle cx="2007" cy="606" r="7.7" fill="#3d849e"/>
<circle cx="2012" cy="627" r="7.7" fill="#3d819a"/>
<circle cx="2007" cy="618" r="7.7" fill="#3b819c"/>
<circle cx="2004" cy="621" r="7.7" fill="#3e8399"/>
<circle cx="2000" cy="616" r="7.7" fill="#3e8498"/>
<circle cx="2002" cy="629" r="7.7" fill="#3e879b"/>
<circle cx="2000" cy="627" r="7.7" fill="#3e8699"/>
<circle cx="1996" cy="626" r="7.7" fill="#458a9d"/>
<circle cx="1991" cy="624" r="7.7" fill="#3a8594"/>
<circle cx="1985" cy="619" r="7.7" fill="#3e8497"/>
<circle cx="1986" cy="638" r="7.7" fill="#3b8492"/>
<circle cx="1982" cy="628" r="7.7" fill="#408493"/>
<circle cx="1990" cy="650" r="7.7" fill="#3b8394"/>
<circle cx="1980" cy="630" r="7.7" fill="#3f8595"/>
<circle cx="1968" cy="616" r="7.7" fill="#408593"/>
<circle cx="1972" cy="633" r="7.7" fill="#3f8593"/>
<circle cx="1972" cy="637" r="7.7" fill="#3f8695"/>
<circle cx="1967" cy="633" r="7.7" fill="#3c8594"/>
<circle cx="1967" cy="635" r="7.7" fill="#3e8b93"/>
<circle cx="1951" cy="627" r="7.7" fill="#3f8c94"/>
<circle cx="1958" cy="632" r="7.7" fill="#3d8891"/>
<circle cx="1963" cy="649" r="7.7" fill="#3c858f"/>
<circle cx="1957" cy="641" r="7.7" fill="#40868f"/>
<circle cx="1959" cy="647" r="7.7" fill="#40848d"/>
<circle cx="1953" cy="650" r="7.7" fill="#408a91"/>
<circle cx="1952" cy="651" r="7.7" fill="#3b888d"/>
<circle cx="1946" cy="648" r="7.7" fill="#428a8d"/>
<circle cx="1944" cy="646" r="7.7" fill="#3e8689"/>
<circle cx="1943" cy="651" r="7.7" fill="#3e8b8b"/>
<circle cx="2008" cy="528" r="7.7" fill="#2f7db0"/>
<circle cx="2020" cy="528" r="7.7" fill="#3280b4"/>
<circle cx="2031" cy="534" r="7.7" fill="#307cb1"/>
<circle cx="2040" cy="538" r="7.7" fill="#2c79ad"/>
<circle cx="2034" cy="472" r="7.7" fill="#307fac"/>
<circle cx="2062" cy="476" r="7.7" fill="#317eac"/>
<circle cx="2034" cy="504" r="7.7" fill="#317fb1"/>
<circle cx="2057" cy="504" r="7.7" fill="#307aaf"/>
<circle cx="2098" cy="433" r="7.7" fill="#2979ab"/>
<circle cx="2120" cy="435" r="7.7" fill="#2876a9"/>
<circle cx="2094" cy="444" r="7.7" fill="#2e79aa"/>
<circle cx="2139" cy="441" r="7.7" fill="#2875a5"/>
<circle cx="2161" cy="450" r="7.7" fill="#287aab"/>
<circle cx="2083" cy="387" r="7.7" fill="#2a76a5"/>
<circle cx="2105" cy="389" r="7.7" fill="#2b79ac"/>
<circle cx="2098" cy="402" r="7.7" fill="#2c7bad"/>
<circle cx="2133" cy="389" r="7.7" fill="#2876a5"/>
<circle cx="2085" cy="413" r="7.7" fill="#2878a8"/>
<circle cx="2088" cy="517" r="7.7" fill="#2d7aac"/>
<circle cx="2102" cy="506" r="7.7" fill="#2d79ac"/>
<circle cx="2086" cy="502" r="7.7" fill="#297aab"/>
<circle cx="2105" cy="525" r="7.7" fill="#2d79ac"/>
<circle cx="2097" cy="491" r="7.7" fill="#2978aa"/>
<circle cx="2079" cy="515" r="7.7" fill="#2d79ab"/>
<circle cx="2107" cy="491" r="7.7" fill="#2a77a5"/>
<circle cx="2092" cy="525" r="7.7" fill="#2e7bae"/>
<circle cx="2070" cy="523" r="7.7" fill="#307dad"/>
<circle cx="2110" cy="514" r="7.7" fill="#307bac"/>
<circle cx="2072" cy="501" r="7.7" fill="#3079b0"/>
<circle cx="2070" cy="490" r="7.7" fill="#2f7cb2"/>
<circle cx="2086" cy="491" r="7.7" fill="#2b77ac"/>
<circle cx="2111" cy="500" r="7.7" fill="#2d78aa"/>
<circle cx="2111" cy="456" r="7.7" fill="#2c77aa"/>
<circle cx="2122" cy="460" r="7.7" fill="#2879aa"/>
<circle cx="2107" cy="472" r="7.7" fill="#2d7cac"/>
<circle cx="2141" cy="453" r="7.7" fill="#2c7caa"/>
<circle cx="2107" cy="484" r="7.7" fill="#2c78aa"/>
<circle cx="2090" cy="462" r="7.7" fill="#2a78a8"/>
<circle cx="2136" cy="465" r="7.7" fill="#2d7cae"/>
<circle cx="2137" cy="475" r="7.7" fill="#3078ab"/>
<circle cx="2124" cy="483" r="7.7" fill="#2b79ab"/>
<circle cx="2094" cy="453" r="7.7" fill="#2a78aa"/>
<circle cx="2095" cy="473" r="7.7" fill="#2b77a9"/>
<circle cx="2123" cy="470" r="7.7" fill="#2c79ab"/>
<circle cx="2131" cy="455" r="7.7" fill="#2773a7"/>
<circle cx="2102" cy="462" r="7.7" fill="#2d7cad"/>
<circle cx="2094" cy="484" r="7.7" fill="#2e79a9"/>
<circle cx="2115" cy="477" r="7.7" fill="#2c79a9"/>
<circle cx="2142" cy="484" r="7.7" fill="#2d78aa"/>
<circle cx="2159" cy="405" r="7.7" fill="#2878ae"/>
<circle cx="2154" cy="392" r="7.7" fill="#2878ab"/>
<circle cx="2156" cy="419" r="7.7" fill="#2d7cae"/>
<circle cx="2171" cy="421" r="7.7" fill="#2a78ac"/>
<circle cx="2181" cy="417" r="7.7" fill="#2171a3"/>
<circle cx="2186" cy="389" r="7.7" fill="#2874a8"/>
<circle cx="2180" cy="400" r="7.7" fill="#2674aa"/>
<circle cx="2167" cy="396" r="7.7" fill="#2575a8"/>
<circle cx="2191" cy="415" r="7.7" fill="#2a75aa"/>
<circle cx="2190" cy="404" r="7.7" fill="#2573a9"/>
<circle cx="2151" cy="410" r="7.7" fill="#2c76a8"/>
<circle cx="2173" cy="409" r="7.7" fill="#2676a9"/>
<circle cx="2175" cy="390" r="7.7" fill="#2777a9"/>
<circle cx="2066" cy="569" r="7.7" fill="#2f77ab"/>
<circle cx="2049" cy="553" r="7.7" fill="#307bae"/>
<circle cx="2054" cy="584" r="7.7" fill="#2f7dab"/>
<circle cx="2071" cy="558" r="7.7" fill="#2b7aac"/>
<circle cx="2046" cy="567" r="7.7" fill="#2c77aa"/>
<circle cx="2079" cy="574" r="7.7" fill="#2873a5"/>
<circle cx="2053" cy="574" r="7.7" fill="#327eb1"/>
<circle cx="2060" cy="559" r="7.7" fill="#2b7aaa"/>
<circle cx="2045" cy="580" r="7.7" fill="#3281ab"/>
<circle cx="2081" cy="558" r="7.7" fill="#2d75a8"/>
<circle cx="2064" cy="578" r="7.7" fill="#2c7cab"/>
<circle cx="2040" cy="559" r="7.7" fill="#307cad"/>
<circle cx="2016" cy="553" r="7.7" fill="#307db3"/>
<circle cx="2026" cy="572" r="7.7" fill="#367faf"/>
<circle cx="2024" cy="583" r="7.7" fill="#337ca7"/>
<circle cx="2016" cy="570" r="7.7" fill="#307fab"/>
<circle cx="2024" cy="561" r="7.7" fill="#317cb0"/>
<circle cx="2030" cy="553" r="7.7" fill="#307bae"/>
<circle cx="2014" cy="581" r="7.7" fill="#3481a9"/>
<circle cx="2035" cy="563" r="7.7" fill="#2e7aad"/>
<circle cx="1964" cy="581" r="7.7" fill="#3b80a6"/>
<circle cx="1972" cy="590" r="7.7" fill="#3880a4"/>
<circle cx="1978" cy="585" r="7.7" fill="#367da5"/>
<circle cx="1986" cy="575" r="7.7" fill="#337ea7"/>
<circle cx="1996" cy="582" r="7.7" fill="#3580a6"/>
<circle cx="2004" cy="588" r="7.7" fill="#387da6"/>
<circle cx="2020" cy="600" r="7.7" fill="#397ea5"/>
<circle cx="2030" cy="606" r="7.7" fill="#377ea3"/>
<circle cx="2023" cy="625" r="7.7" fill="#377d9f"/>
<circle cx="1953" cy="615" r="7.7" fill="#317e97"/>
<circle cx="1962" cy="620" r="7.7" fill="#308496"/>
<circle cx="1972" cy="616" r="7.7" fill="#328599"/>
<circle cx="1982" cy="622" r="7.7" fill="#2b8197"/>
<circle cx="1989" cy="625" r="7.7" fill="#2e849a"/>
<circle cx="1973" cy="648" r="7.7" fill="#4d81a1"/>
<circle cx="1992" cy="657" r="7.7" fill="#477d9e"/>
<circle cx="2010" cy="641" r="7.7" fill="#477da2"/>
<circle cx="2010" cy="658" r="7.7" fill="#4a7da1"/>
<circle cx="1952" cy="637" r="7.7" fill="#378783"/>
<circle cx="1953" cy="642" r="7.7" fill="#3a8887"/>
<circle cx="1949" cy="645" r="7.7" fill="#3a898a"/>
<circle cx="1939" cy="644" r="7.7" fill="#3a8688"/>
<circle cx="1942" cy="649" r="7.7" fill="#3a8a89"/>
<circle cx="1936" cy="650" r="7.7" fill="#3a8789"/>
<circle cx="1934" cy="653" r="7.7" fill="#3d878a"/>
<circle cx="1933" cy="659" r="7.7" fill="#3a8784"/>
<circle cx="1924" cy="654" r="7.7" fill="#3a8986"/>
<circle cx="1923" cy="660" r="7.7" fill="#39898b"/>
<circle cx="1918" cy="669" r="7.7" fill="#4f8c7f"/>
<circle cx="1924" cy="678" r="7.7" fill="#4d8778"/>
<circle cx="1928" cy="680" r="7.7" fill="#548a80"/>
<circle cx="1920" cy="677" r="7.7" fill="#55887d"/>
<circle cx="1926" cy="680" r="7.7" fill="#5e877f"/>
<circle cx="1916" cy="684" r="7.7" fill="#5d8179"/>
<circle cx="1916" cy="685" r="7.7" fill="#5d8079"/>
<circle cx="1911" cy="683" r="7.7" fill="#67867d"/>
<circle cx="1915" cy="689" r="7.7" fill="#6b867a"/>
<circle cx="1918" cy="691" r="7.7" fill="#6a8479"/>
<circle cx="1917" cy="695" r="7.7" fill="#6b8579"/>
<circle cx="1914" cy="696" r="7.7" fill="#718479"/>
<circle cx="1914" cy="698" r="7.7" fill="#6e8079"/>
<circle cx="1912" cy="699" r="7.7" fill="#71817f"/>
<circle cx="1911" cy="703" r="7.7" fill="#71817e"/>
<circle cx="1911" cy="705" r="7.7" fill="#6f8581"/>
<circle cx="1913" cy="706" r="7.7" fill="#6d857f"/>
<circle cx="1910" cy="710" r="7.7" fill="#698182"/>
<circle cx="1912" cy="709" r="7.7" fill="#708683"/>
<circle cx="1925" cy="713" r="7.7" fill="#708787"/>
<circle cx="1917" cy="713" r="7.7" fill="#6f8686"/>
<circle cx="1916" cy="715" r="7.7" fill="#6b8586"/>
<circle cx="1919" cy="721" r="7.7" fill="#6c8385"/>
<circle cx="1915" cy="721" r="7.7" fill="#6e8387"/>
<circle cx="1915" cy="723" r="7.7" fill="#6b8986"/>
<circle cx="1914" cy="727" r="7.7" fill="#6b867f"/>
<circle cx="1921" cy="730" r="7.7" fill="#718d86"/>
<circle cx="1922" cy="731" r="7.7" fill="#6c8b83"/>
<circle cx="1923" cy="734" r="7.7" fill="#6d897d"/>
<circle cx="1918" cy="738" r="7.7" fill="#718e81"/>
<circle cx="1917" cy="737" r="7.7" fill="#6e8b7c"/>
<circle cx="1909" cy="742" r="7.7" fill="#6e887c"/>
<circle cx="1919" cy="741" r="7.7" fill="#6d8a7c"/>
<circle cx="1911" cy="743" r="7.7" fill="#728979"/>
<circle cx="1988" cy="686" r="7.7" fill="#6b95af"/>
<circle cx="1980" cy="689" r="7.7" fill="#6c95a7"/>
<circle cx="1985" cy="692" r="7.7" fill="#7299a8"/>
<circle cx="1985" cy="694" r="7.7" fill="#7296a2"/>
<circle cx="1983" cy="698" r="7.7" fill="#72989f"/>
<circle cx="1985" cy="699" r="7.7" fill="#6e969b"/>
<circle cx="1983" cy="701" r="7.7" fill="#779b97"/>
<circle cx="1984" cy="704" r="7.7" fill="#7b9b94"/>
<circle cx="1984" cy="713" r="7.7" fill="#7c9891"/>
<circle cx="1978" cy="711" r="7.7" fill="#7f9892"/>
<circle cx="1980" cy="716" r="7.7" fill="#819a8d"/>
<circle cx="1978" cy="718" r="7.7" fill="#849b8e"/>
<circle cx="1979" cy="720" r="7.7" fill="#849a89"/>
<circle cx="1976" cy="724" r="7.7" fill="#899a85"/>
<circle cx="1984" cy="725" r="7.7" fill="#8e9c87"/>
<circle cx="1976" cy="726" r="7.7" fill="#879781"/>
<circle cx="1981" cy="733" r="7.7" fill="#8f997c"/>
<circle cx="1978" cy="736" r="7.7" fill="#8d947b"/>
<circle cx="1977" cy="738" r="7.7" fill="#929376"/>
<circle cx="1972" cy="743" r="7.7" fill="#939376"/>
<circle cx="1967" cy="743" r="7.7" fill="#989474"/>
<circle cx="1975" cy="747" r="7.7" fill="#999174"/>
<circle cx="1971" cy="750" r="7.7" fill="#9d9272"/>
<circle cx="1981" cy="751" r="7.7" fill="#9a8d66"/>
<circle cx="1979" cy="754" r="7.7" fill="#a58f67"/>
<circle cx="1975" cy="761" r="7.7" fill="#a78f61"/>
<circle cx="1974" cy="766" r="7.7" fill="#ae8956"/>
<circle cx="1973" cy="763" r="7.7" fill="#b28c58"/>
<circle cx="1968" cy="772" r="7.7" fill="#b58a52"/>
<circle cx="1993" cy="767" r="7.7" fill="#bb8747"/>
<circle cx="1957" cy="712" r="7.7" fill="#7b97a0"/>
<circle cx="1947" cy="724" r="7.7" fill="#7993a0"/>
<circle cx="1993" cy="745" r="7.7" fill="#868a7a"/>
<circle cx="1981" cy="772" r="7.7" fill="#d08a3c"/>
<circle cx="1951" cy="760" r="7.7" fill="#a89a67"/>
<circle cx="1943" cy="770" r="7.7" fill="#a89b66"/>
<circle cx="1938" cy="772" r="7.7" fill="#a69966"/>
<circle cx="1947" cy="793" r="7.7" fill="#c49a6a"/>
<circle cx="1960" cy="786" r="7.7" fill="#94a8a0"/>
<circle cx="1911" cy="688" r="7.7" fill="#6e8078"/>
<circle cx="1925" cy="672" r="7.7" fill="#4e8a80"/>
<circle cx="1929" cy="660" r="7.7" fill="#5a8878"/>
<circle cx="2221" cy="367" r="15" fill="#2673a8"/>
<circle cx="1747" cy="1150" r="7.7" fill="#df7a18"/>
<circle cx="1757" cy="1148" r="7.7" fill="#df7817"/>
<circle cx="1759" cy="1146" r="7.7" fill="#e57d1d"/>
<circle cx="1765" cy="1138" r="7.7" fill="#e17917"/>
<circle cx="1771" cy="1144" r="7.7" fill="#e47b19"/>
<circle cx="1774" cy="1146" r="7.7" fill="#e37b18"/>
<circle cx="1782" cy="1145" r="7.7" fill="#e07718"/>
<circle cx="1785" cy="1154" r="7.7" fill="#e37d1c"/>
<circle cx="1793" cy="1143" r="7.7" fill="#e27d18"/>
<circle cx="1731" cy="1144" r="7.7" fill="#e47712"/>
<circle cx="1733" cy="1143" r="7.7" fill="#e27511"/>
<circle cx="1734" cy="1150" r="7.7" fill="#e4740d"/>
<circle cx="1735" cy="1149" r="7.7" fill="#e3720e"/>
<circle cx="1733" cy="1155" r="7.7" fill="#de720d"/>
<circle cx="1734" cy="1157" r="7.7" fill="#e57613"/>
<circle cx="1733" cy="1161" r="7.7" fill="#e67713"/>
<circle cx="1741" cy="1163" r="7.7" fill="#e16e0d"/>
<circle cx="1746" cy="1161" r="7.7" fill="#e1700d"/>
<circle cx="1739" cy="1164" r="7.7" fill="#e57612"/>
<circle cx="1742" cy="1173" r="7.7" fill="#e57513"/>
<circle cx="1747" cy="1171" r="7.7" fill="#e17510"/>
<circle cx="1743" cy="1175" r="7.7" fill="#e77412"/>
<circle cx="1749" cy="1179" r="7.7" fill="#e5740f"/>
<circle cx="1745" cy="1183" r="7.7" fill="#e06f0f"/>
<circle cx="1747" cy="1183" r="7.7" fill="#e2720f"/>
<circle cx="1752" cy="1181" r="7.7" fill="#e27516"/>
<circle cx="1755" cy="1189" r="7.7" fill="#de7c1f"/>
<circle cx="1756" cy="1190" r="7.7" fill="#d9781a"/>
<circle cx="1761" cy="1190" r="7.7" fill="#da7e24"/>
<circle cx="1764" cy="1193" r="7.7" fill="#e28529"/>
<circle cx="1764" cy="1193" r="7.7" fill="#dd8429"/>
<circle cx="1766" cy="1193" r="7.7" fill="#db8028"/>
<circle cx="1766" cy="1195" r="7.7" fill="#d98126"/>
<circle cx="1772" cy="1196" r="7.7" fill="#db882f"/>
<circle cx="1773" cy="1200" r="7.7" fill="#d9892f"/>
<circle cx="1775" cy="1206" r="7.7" fill="#d78930"/>
<circle cx="1779" cy="1200" r="7.7" fill="#d68a32"/>
<circle cx="1785" cy="1196" r="7.7" fill="#d88c37"/>
<circle cx="1782" cy="1208" r="7.7" fill="#d88b39"/>
<circle cx="1787" cy="1208" r="7.7" fill="#da903c"/>
<circle cx="1788" cy="1208" r="7.7" fill="#d5913c"/>
<circle cx="1794" cy="1212" r="7.7" fill="#d6903d"/>
<circle cx="1794" cy="1218" r="7.7" fill="#d39240"/>
<circle cx="1787" cy="1217" r="7.7" fill="#d49241"/>
<circle cx="1790" cy="1220" r="7.7" fill="#d39344"/>
<circle cx="1793" cy="1223" r="7.7" fill="#d9954b"/>
<circle cx="1789" cy="1231" r="7.7" fill="#da9b53"/>
<circle cx="1804" cy="1228" r="7.7" fill="#c89b65"/>
<circle cx="1810" cy="1230" r="7.7" fill="#c89866"/>
<circle cx="1749" cy="1199" r="7.7" fill="#dc7a18"/>
<circle cx="1767" cy="1205" r="7.7" fill="#c48a24"/>
<circle cx="1760" cy="1168" r="7.7" fill="#d38228"/>
<circle cx="1766" cy="1169" r="7.7" fill="#d7862d"/>
<circle cx="1764" cy="1171" r="7.7" fill="#d6852a"/>
<circle cx="1770" cy="1174" r="7.7" fill="#d6832b"/>
<circle cx="1774" cy="1173" r="7.7" fill="#dc892b"/>
<circle cx="1781" cy="1173" r="7.7" fill="#d6872b"/>
<circle cx="1780" cy="1171" r="7.7" fill="#d8872b"/>
<circle cx="1785" cy="1177" r="7.7" fill="#d3862b"/>
<circle cx="1789" cy="1178" r="7.7" fill="#d9842c"/>
<circle cx="1784" cy="1177" r="7.7" fill="#d8862b"/>
<circle cx="1786" cy="1170" r="7.7" fill="#d8852e"/>
<circle cx="1795" cy="1178" r="7.7" fill="#d38126"/>
<circle cx="1795" cy="1173" r="7.7" fill="#d88427"/>
<circle cx="1804" cy="1184" r="7.7" fill="#d7852b"/>
<circle cx="1805" cy="1178" r="7.7" fill="#d9852b"/>
<circle cx="1795" cy="1184" r="7.7" fill="#d58529"/>
<circle cx="1806" cy="1188" r="7.7" fill="#d7852a"/>
<circle cx="1800" cy="1195" r="7.7" fill="#d8842f"/>
<circle cx="1801" cy="1175" r="7.7" fill="#d2852f"/>
<circle cx="1800" cy="1173" r="7.7" fill="#d4862c"/>
<circle cx="1808" cy="1175" r="7.7" fill="#d58a30"/>
<circle cx="1808" cy="1170" r="7.7" fill="#d38a2f"/>
<circle cx="1803" cy="1159" r="7.7" fill="#d1872d"/>
<circle cx="1812" cy="1168" r="7.7" fill="#d48c2e"/>
<circle cx="1811" cy="1165" r="7.7" fill="#d68e2f"/>
<circle cx="1815" cy="1172" r="7.7" fill="#d58c2e"/>
<circle cx="1815" cy="1169" r="7.7" fill="#d48c30"/>
<circle cx="1814" cy="1158" r="7.7" fill="#d68d31"/>
<circle cx="1816" cy="1159" r="7.7" fill="#db9432"/>
<circle cx="1818" cy="1158" r="7.7" fill="#d69334"/>
<circle cx="1817" cy="1159" r="7.7" fill="#d79031"/>
<circle cx="1826" cy="1164" r="7.7" fill="#d2912e"/>
<circle cx="1822" cy="1153" r="7.7" fill="#d79233"/>
<circle cx="1823" cy="1151" r="7.7" fill="#d59634"/>
<circle cx="1831" cy="1162" r="7.7" fill="#d89233"/>
<circle cx="1830" cy="1149" r="7.7" fill="#d69633"/>
<circle cx="1829" cy="1154" r="7.7" fill="#d19530"/>
<circle cx="1833" cy="1154" r="7.7" fill="#d69a37"/>
<circle cx="1836" cy="1150" r="7.7" fill="#d99938"/>
<circle cx="1837" cy="1141" r="7.7" fill="#d19736"/>
<circle cx="1841" cy="1148" r="7.7" fill="#d29738"/>
<circle cx="1842" cy="1150" r="7.7" fill="#d29837"/>
<circle cx="1844" cy="1145" r="7.7" fill="#cc9435"/>
<circle cx="1846" cy="1152" r="7.7" fill="#cf983b"/>
<circle cx="1845" cy="1151" r="7.7" fill="#d19c3c"/>
<circle cx="1850" cy="1150" r="7.7" fill="#c99738"/>
<circle cx="1852" cy="1149" r="7.7" fill="#cd993f"/>
<circle cx="1851" cy="1146" r="7.7" fill="#cda141"/>
<circle cx="1857" cy="1154" r="7.7" fill="#c5983f"/>
<circle cx="1857" cy="1148" r="7.7" fill="#cba243"/>
<circle cx="1860" cy="1154" r="7.7" fill="#cb9f48"/>
<circle cx="1864" cy="1157" r="7.7" fill="#cca34a"/>
<circle cx="1813" cy="1181" r="7.7" fill="#ce8a32"/>
<circle cx="1815" cy="1178" r="7.7" fill="#d08f34"/>
<circle cx="1819" cy="1179" r="7.7" fill="#cc8e32"/>
<circle cx="1822" cy="1176" r="7.7" fill="#d08d35"/>
<circle cx="1823" cy="1182" r="7.7" fill="#cf8b32"/>
<circle cx="1831" cy="1172" r="7.7" fill="#d18e39"/>
<circle cx="1830" cy="1173" r="7.7" fill="#cb8830"/>
<circle cx="1833" cy="1171" r="7.7" fill="#ce8c37"/>
<circle cx="1856" cy="1160" r="7.7" fill="#b8a050"/>
<circle cx="1858" cy="1173" r="7.7" fill="#aa9a62"/>
<circle cx="1804" cy="1205" r="7.7" fill="#c28040"/>
<circle cx="1805" cy="1210" r="7.7" fill="#bf8242"/>
<circle cx="1815" cy="1208" r="7.7" fill="#ba8141"/>
<circle cx="1819" cy="1204" r="7.7" fill="#b08044"/>
<circle cx="1822" cy="1204" r="7.7" fill="#b0814e"/>
<circle cx="1826" cy="1211" r="7.7" fill="#af8553"/>
<circle cx="1828" cy="1209" r="7.7" fill="#a67e50"/>
<circle cx="1832" cy="1216" r="7.7" fill="#9f7e53"/>
<circle cx="1837" cy="1218" r="7.7" fill="#967f54"/>
<circle cx="1843" cy="1216" r="7.7" fill="#927c59"/>
<circle cx="1844" cy="1209" r="7.7" fill="#93825b"/>
<circle cx="1849" cy="1219" r="7.7" fill="#8e8062"/>
<circle cx="1852" cy="1225" r="7.7" fill="#848171"/>
<circle cx="1857" cy="1226" r="7.7" fill="#7c7c6b"/>
<circle cx="1851" cy="1235" r="7.7" fill="#727a76"/>
<circle cx="1866" cy="1232" r="7.7" fill="#5f7a7c"/>
<circle cx="1839" cy="1237" r="7.7" fill="#8e8470"/>
<circle cx="1858" cy="1244" r="7.7" fill="#8a806a"/>
<circle cx="1742" cy="1246" r="7.7" fill="#cd7418"/>
<circle cx="1744" cy="1253" r="7.7" fill="#cb7a19"/>
<circle cx="1742" cy="1256" r="7.7" fill="#cb791e"/>
<circle cx="1742" cy="1259" r="7.7" fill="#c97b1d"/>
<circle cx="1746" cy="1266" r="7.7" fill="#c27c1f"/>
<circle cx="1741" cy="1268" r="7.7" fill="#c37e21"/>
<circle cx="1737" cy="1266" r="7.7" fill="#bd8227"/>
<circle cx="1745" cy="1278" r="7.7" fill="#bf872e"/>
<circle cx="1742" cy="1280" r="7.7" fill="#b78228"/>
<circle cx="1740" cy="1281" r="7.7" fill="#b68930"/>
<circle cx="1740" cy="1285" r="7.7" fill="#ad842d"/>
<circle cx="1733" cy="1285" r="7.7" fill="#a7842f"/>
<circle cx="1726" cy="1284" r="7.7" fill="#a38530"/>
<circle cx="1726" cy="1288" r="7.7" fill="#a08431"/>
<circle cx="1725" cy="1292" r="7.7" fill="#9e8432"/>
<circle cx="1723" cy="1291" r="7.7" fill="#9b8935"/>
<circle cx="1720" cy="1298" r="7.7" fill="#968632"/>
<circle cx="1716" cy="1301" r="7.7" fill="#978b37"/>
<circle cx="1719" cy="1302" r="7.7" fill="#8f8531"/>
<circle cx="1719" cy="1308" r="7.7" fill="#908836"/>
<circle cx="1720" cy="1311" r="7.7" fill="#8c9036"/>
<circle cx="1718" cy="1312" r="7.7" fill="#878a35"/>
<circle cx="1715" cy="1317" r="7.7" fill="#8e8d3b"/>
<circle cx="1713" cy="1317" r="7.7" fill="#909041"/>
<circle cx="1710" cy="1324" r="7.7" fill="#958f42"/>
<circle cx="1705" cy="1323" r="7.7" fill="#9e954b"/>
<circle cx="1728" cy="1274" r="7.7" fill="#bf7a28"/>
<circle cx="1725" cy="1277" r="7.7" fill="#b87627"/>
<circle cx="1719" cy="1280" r="7.7" fill="#bb7924"/>
<circle cx="1720" cy="1282" r="7.7" fill="#bb802f"/>
<circle cx="1715" cy="1286" r="7.7" fill="#b07a30"/>
<circle cx="1716" cy="1284" r="7.7" fill="#b47d32"/>
<circle cx="1709" cy="1288" r="7.7" fill="#a87334"/>
<circle cx="1706" cy="1287" r="7.7" fill="#aa7333"/>
<circle cx="1704" cy="1293" r="7.7" fill="#a4723a"/>
<circle cx="1731" cy="1131" r="14" fill="#e47a12"/>
<circle cx="2261" cy="1058" r="7.7" fill="#8f8c7e"/>
<circle cx="2261" cy="1072" r="7.7" fill="#9a9a78"/>
<circle cx="2270" cy="1070" r="7.7" fill="#9a9a78"/>
<circle cx="2264" cy="1062" r="7.7" fill="#8c9080"/>
<circle cx="2173" cy="1080" r="7.7" fill="#8fa073"/>
<circle cx="2176" cy="1100" r="7.7" fill="#b5bf74"/>
<circle cx="2177" cy="1100" r="7.7" fill="#b1bb71"/>
<circle cx="2185" cy="1102" r="7.7" fill="#b6b772"/>
<circle cx="2191" cy="1105" r="7.7" fill="#b5b26b"/>
<circle cx="2192" cy="1101" r="7.7" fill="#b7b46e"/>
<circle cx="2197" cy="1100" r="7.7" fill="#bdb268"/>
<circle cx="2201" cy="1103" r="7.7" fill="#bbaf64"/>
<circle cx="2207" cy="1106" r="7.7" fill="#c2aa5f"/>
<circle cx="2211" cy="1113" r="7.7" fill="#cbb561"/>
<circle cx="2213" cy="1119" r="7.7" fill="#d3b767"/>
<circle cx="2220" cy="1118" r="7.7" fill="#d1b76b"/>
<circle cx="2222" cy="1118" r="7.7" fill="#d2bb6e"/>
<circle cx="2223" cy="1121" r="7.7" fill="#d2bd6b"/>
<circle cx="2213" cy="1097" r="7.7" fill="#a0a47a"/>
<circle cx="2243" cy="1086" r="7.7" fill="#aaa684"/>
<circle cx="2227" cy="1098" r="7.7" fill="#b3a06a"/>
<circle cx="2234" cy="1096" r="7.7" fill="#b7a26c"/>
<circle cx="2233" cy="1106" r="7.7" fill="#b39f6a"/>
<circle cx="2296" cy="1163" r="7.7" fill="#dbad67"/>
<circle cx="2296" cy="1156" r="7.7" fill="#d8ad63"/>
<circle cx="2273" cy="1097" r="7.7" fill="#b4a36d"/>
<circle cx="2270" cy="1155" r="7.7" fill="#d1a764"/>
<circle cx="2264" cy="1101" r="7.7" fill="#b59c6d"/>
<circle cx="2259" cy="1147" r="7.7" fill="#cda561"/>
<circle cx="2324" cy="1184" r="7.7" fill="#e0af67"/>
<circle cx="2314" cy="1177" r="7.7" fill="#e0ad65"/>
<circle cx="2258" cy="1098" r="7.7" fill="#bba273"/>
<circle cx="2317" cy="1196" r="7.7" fill="#e2b26d"/>
<circle cx="2270" cy="1110" r="7.7" fill="#c1a56c"/>
<circle cx="2261" cy="1116" r="7.7" fill="#c4a168"/>
<circle cx="2317" cy="1185" r="7.7" fill="#e4b36a"/>
<circle cx="2289" cy="1134" r="7.7" fill="#cfa566"/>
<circle cx="2341" cy="1192" r="7.7" fill="#e1ad66"/>
<circle cx="2269" cy="1142" r="7.7" fill="#d2ab6a"/>
<circle cx="2255" cy="1124" r="7.7" fill="#c8a76b"/>
<circle cx="2285" cy="1123" r="7.7" fill="#caa268"/>
<circle cx="2292" cy="1191" r="7.7" fill="#deb267"/>
<circle cx="2323" cy="1166" r="7.7" fill="#d9a862"/>
<circle cx="2264" cy="1090" r="7.7" fill="#b2a070"/>
<circle cx="2266" cy="1131" r="7.7" fill="#cda86a"/>
<circle cx="2316" cy="1161" r="7.7" fill="#dcae67"/>
<circle cx="2300" cy="1139" r="7.7" fill="#d2a562"/>
<circle cx="2259" cy="1136" r="7.7" fill="#caa461"/>
<circle cx="2326" cy="1177" r="7.7" fill="#e1b169"/>
<circle cx="2302" cy="1169" r="7.7" fill="#d7aa64"/>
<circle cx="2303" cy="1195" r="7.7" fill="#dca961"/>
<circle cx="2298" cy="1131" r="7.7" fill="#cda266"/>
<circle cx="2332" cy="1182" r="7.7" fill="#e5b16b"/>
<circle cx="2311" cy="1152" r="7.7" fill="#d7ad68"/>
<circle cx="2275" cy="1118" r="7.7" fill="#c4a265"/>
<circle cx="2278" cy="1136" r="7.7" fill="#cea566"/>
<circle cx="2295" cy="1184" r="7.7" fill="#d6ab60"/>
<circle cx="2257" cy="1107" r="7.7" fill="#bc9d68"/>
<circle cx="2303" cy="1151" r="7.7" fill="#d9b167"/>
<circle cx="2297" cy="1146" r="7.7" fill="#d5ad67"/>
<circle cx="2283" cy="1117" r="7.7" fill="#c7a169"/>
<circle cx="2303" cy="1182" r="7.7" fill="#dfaf66"/>
<circle cx="2278" cy="1108" r="7.7" fill="#bda26c"/>
<circle cx="2288" cy="1158" r="7.7" fill="#d5af69"/>
<circle cx="2245" cy="1112" r="7.7" fill="#baa168"/>
<circle cx="2322" cy="1191" r="7.7" fill="#e3b067"/>
<circle cx="2332" cy="1192" r="7.7" fill="#e4b36a"/>
<circle cx="2278" cy="1128" r="7.7" fill="#cfa866"/>
<circle cx="2252" cy="1138" r="7.7" fill="#d4ab65"/>
<circle cx="2271" cy="1088" r="7.7" fill="#b1a06f"/>
<circle cx="2278" cy="1091" r="7.7" fill="#b6a271"/>
<circle cx="2292" cy="1202" r="7.7" fill="#dcac64"/>
<circle cx="2309" cy="1189" r="7.7" fill="#e2af68"/>
<circle cx="2277" cy="1146" r="7.7" fill="#d3aa67"/>
<circle cx="2279" cy="1158" r="7.7" fill="#d4ad65"/>
<circle cx="2310" cy="1168" r="7.7" fill="#dcb065"/>
<circle cx="2310" cy="1144" r="7.7" fill="#d3a964"/>
<circle cx="2294" cy="1170" r="7.7" fill="#daad66"/>
<circle cx="2307" cy="1161" r="7.7" fill="#dbad6a"/>
<circle cx="2272" cy="1126" r="7.7" fill="#d1aa69"/>
<circle cx="2327" cy="1202" r="7.7" fill="#e5b169"/>
<circle cx="2286" cy="1195" r="7.7" fill="#deb267"/>
<circle cx="2263" cy="1124" r="7.7" fill="#c6a469"/>
<circle cx="2335" cy="1200" r="7.7" fill="#e2ad66"/>
<circle cx="2309" cy="1201" r="7.7" fill="#dcb065"/>
<circle cx="2250" cy="1131" r="7.7" fill="#d1a661"/>
<circle cx="2252" cy="1115" r="7.7" fill="#c1a26b"/>
<circle cx="2251" cy="1104" r="7.7" fill="#baa56f"/>
<circle cx="2338" cy="1185" r="7.7" fill="#e2af65"/>
<circle cx="2307" cy="1176" r="7.7" fill="#deab63"/>
<circle cx="2284" cy="1152" r="7.7" fill="#d4ab67"/>
<circle cx="2260" cy="1083" r="7.7" fill="#a99d75"/>
<circle cx="2279" cy="1101" r="7.7" fill="#b8a26e"/>
<circle cx="2319" cy="1172" r="7.7" fill="#e1b26a"/>
<circle cx="2292" cy="1126" r="7.7" fill="#cea66d"/>
<circle cx="2284" cy="1140" r="7.7" fill="#d4aa6c"/>
<circle cx="2342" cy="1199" r="7.7" fill="#e5af65"/>
<circle cx="2299" cy="1201" r="7.7" fill="#daa960"/>
<circle cx="2229" cy="1139" r="7.7" fill="#b6a95c"/>
<circle cx="2239" cy="1140" r="7.7" fill="#d1a862"/>
<circle cx="2239" cy="1154" r="7.7" fill="#d4a965"/>
<circle cx="2310" cy="1115" r="7.7" fill="#d9b480"/>
<circle cx="2270" cy="1182" r="7.7" fill="#e8a050"/>
<circle cx="2220" cy="1201" r="7.7" fill="#96a167"/>
<circle cx="2223" cy="1200" r="7.7" fill="#93a161"/>
<circle cx="2228" cy="1196" r="7.7" fill="#a0a45c"/>
<circle cx="2232" cy="1198" r="7.7" fill="#a09954"/>
<circle cx="2236" cy="1197" r="7.7" fill="#a29b54"/>
<circle cx="2242" cy="1198" r="7.7" fill="#aa9d56"/>
<circle cx="2246" cy="1199" r="7.7" fill="#aa9a4e"/>
<circle cx="2248" cy="1198" r="7.7" fill="#b2a659"/>
<circle cx="2254" cy="1197" r="7.7" fill="#b2aa5b"/>
<circle cx="1104" cy="1512" r="7.7" fill="#2e932d"/>
<circle cx="1108" cy="1522" r="7.7" fill="#2b922b"/>
<circle cx="1115" cy="1503" r="7.7" fill="#2f9630"/>
<circle cx="1118" cy="1516" r="7.7" fill="#2f962b"/>
<circle cx="1116" cy="1514" r="7.7" fill="#2e9b2d"/>
<circle cx="1121" cy="1517" r="7.7" fill="#2e972e"/>
<circle cx="1124" cy="1508" r="7.7" fill="#359a33"/>
<circle cx="1131" cy="1514" r="7.7" fill="#32962e"/>
<circle cx="1132" cy="1515" r="7.7" fill="#389934"/>
<circle cx="1133" cy="1515" r="7.7" fill="#349a34"/>
<circle cx="1136" cy="1506" r="7.7" fill="#329432"/>
<circle cx="1148" cy="1513" r="7.7" fill="#3f9838"/>
<circle cx="1146" cy="1501" r="7.7" fill="#3e9938"/>
<circle cx="1149" cy="1510" r="7.7" fill="#3a9633"/>
<circle cx="1152" cy="1508" r="7.7" fill="#3a9436"/>
<circle cx="1156" cy="1508" r="7.7" fill="#449c3f"/>
<circle cx="1161" cy="1509" r="7.7" fill="#439a3e"/>
<circle cx="1162" cy="1506" r="7.7" fill="#44973c"/>
<circle cx="1168" cy="1513" r="7.7" fill="#489e3e"/>
<circle cx="1171" cy="1510" r="7.7" fill="#49a241"/>
<circle cx="1172" cy="1501" r="7.7" fill="#489d3e"/>
<circle cx="1178" cy="1511" r="7.7" fill="#4c9e43"/>
<circle cx="1184" cy="1510" r="7.7" fill="#459a3c"/>
<circle cx="1189" cy="1510" r="7.7" fill="#479d3f"/>
<circle cx="1191" cy="1507" r="7.7" fill="#4aa343"/>
<circle cx="1189" cy="1499" r="7.7" fill="#4a9e41"/>
<circle cx="1195" cy="1506" r="7.7" fill="#489f41"/>
<circle cx="1197" cy="1507" r="7.7" fill="#499f41"/>
<circle cx="1204" cy="1508" r="7.7" fill="#499f41"/>
<circle cx="1207" cy="1503" r="7.7" fill="#479b3e"/>
<circle cx="1208" cy="1495" r="7.7" fill="#4fa041"/>
<circle cx="1213" cy="1508" r="7.7" fill="#4a9d3f"/>
<circle cx="1214" cy="1501" r="7.7" fill="#4a9c40"/>
<circle cx="1221" cy="1500" r="7.7" fill="#4e9a41"/>
<circle cx="1224" cy="1502" r="7.7" fill="#54a044"/>
<circle cx="1224" cy="1502" r="7.7" fill="#54a043"/>
<circle cx="1231" cy="1504" r="7.7" fill="#56a248"/>
<circle cx="1233" cy="1499" r="7.7" fill="#5ba444"/>
<circle cx="1236" cy="1505" r="7.7" fill="#5ba646"/>
<circle cx="1242" cy="1508" r="7.7" fill="#5ca248"/>
<circle cx="1194" cy="1532" r="7.7" fill="#4a9c3e"/>
<circle cx="1238" cy="1523" r="7.7" fill="#58a143"/>
<circle cx="1255" cy="1517" r="7.7" fill="#5ba448"/>
<circle cx="1251" cy="1526" r="7.7" fill="#5aa346"/>
<circle cx="1215" cy="1519" r="7.7" fill="#4e9e43"/>
<circle cx="1139" cy="1484" r="7.7" fill="#3f9637"/>
<circle cx="1165" cy="1526" r="7.7" fill="#419b3e"/>
<circle cx="1180" cy="1530" r="7.7" fill="#469b3c"/>
<circle cx="1130" cy="1528" r="7.7" fill="#379730"/>
<circle cx="1150" cy="1530" r="7.7" fill="#399835"/>
<circle cx="1166" cy="1566" r="7.7" fill="#3a9434"/>
<circle cx="1284" cy="1640" r="7.7" fill="#5c9047"/>
<circle cx="1134" cy="1550" r="7.7" fill="#39942e"/>
<circle cx="1362" cy="1673" r="7.7" fill="#799150"/>
<circle cx="1213" cy="1586" r="7.7" fill="#489442"/>
<circle cx="1393" cy="1673" r="7.7" fill="#838d53"/>
<circle cx="1168" cy="1557" r="7.7" fill="#3a9935"/>
<circle cx="1344" cy="1682" r="7.7" fill="#758c4f"/>
<circle cx="1225" cy="1564" r="7.7" fill="#489343"/>
<circle cx="1378" cy="1690" r="7.7" fill="#7b9152"/>
<circle cx="1257" cy="1605" r="7.7" fill="#4a9446"/>
<circle cx="1301" cy="1595" r="7.7" fill="#509b4f"/>
<circle cx="1391" cy="1659" r="7.7" fill="#778c50"/>
<circle cx="1391" cy="1637" r="7.7" fill="#748f4e"/>
<circle cx="1399" cy="1651" r="7.7" fill="#7a8f51"/>
<circle cx="1201" cy="1585" r="7.7" fill="#489742"/>
<circle cx="1300" cy="1658" r="7.7" fill="#5c9349"/>
<circle cx="1233" cy="1608" r="7.7" fill="#4a9646"/>
<circle cx="1299" cy="1581" r="7.7" fill="#4c994e"/>
<circle cx="1227" cy="1590" r="7.7" fill="#4b9643"/>
<circle cx="1251" cy="1593" r="7.7" fill="#4a974a"/>
<circle cx="1327" cy="1646" r="7.7" fill="#658d44"/>
<circle cx="1329" cy="1628" r="7.7" fill="#658942"/>
<circle cx="1372" cy="1657" r="7.7" fill="#739050"/>
<circle cx="1129" cy="1541" r="7.7" fill="#379831"/>
<circle cx="1286" cy="1606" r="7.7" fill="#4d984b"/>
<circle cx="1357" cy="1650" r="7.7" fill="#6a8e4a"/>
<circle cx="1280" cy="1625" r="7.7" fill="#519248"/>
<circle cx="1380" cy="1667" r="7.7" fill="#758f4f"/>
<circle cx="1249" cy="1580" r="7.7" fill="#489649"/>
<circle cx="1267" cy="1618" r="7.7" fill="#4c8f47"/>
<circle cx="1387" cy="1683" r="7.7" fill="#7a8a4b"/>
<circle cx="1315" cy="1651" r="7.7" fill="#5e9049"/>
<circle cx="1246" cy="1618" r="7.7" fill="#499742"/>
<circle cx="1305" cy="1669" r="7.7" fill="#61924a"/>
<circle cx="1225" cy="1574" r="7.7" fill="#4a9545"/>
<circle cx="1414" cy="1653" r="7.7" fill="#7b8b4e"/>
<circle cx="1234" cy="1573" r="7.7" fill="#459544"/>
<circle cx="1181" cy="1571" r="7.7" fill="#419639"/>
<circle cx="1236" cy="1599" r="7.7" fill="#4a9747"/>
<circle cx="1339" cy="1628" r="7.7" fill="#678b49"/>
<circle cx="1275" cy="1608" r="7.7" fill="#49974b"/>
<circle cx="1379" cy="1621" r="7.7" fill="#6b8c4d"/>
<circle cx="1371" cy="1673" r="7.7" fill="#7a8d50"/>
<circle cx="1359" cy="1634" r="7.7" fill="#648a45"/>
<circle cx="1313" cy="1641" r="7.7" fill="#5f9249"/>
<circle cx="1263" cy="1635" r="7.7" fill="#4f8e43"/>
<circle cx="1289" cy="1623" r="7.7" fill="#509147"/>
<circle cx="1294" cy="1609" r="7.7" fill="#51944b"/>
<circle cx="1281" cy="1591" r="7.7" fill="#4a9950"/>
<circle cx="1241" cy="1591" r="7.7" fill="#4a9443"/>
<circle cx="1274" cy="1639" r="7.7" fill="#57924a"/>
<circle cx="1301" cy="1628" r="7.7" fill="#5a9249"/>
<circle cx="1332" cy="1637" r="7.7" fill="#6a8e49"/>
<circle cx="1358" cy="1662" r="7.7" fill="#729150"/>
<circle cx="1202" cy="1569" r="7.7" fill="#4a973f"/>
<circle cx="1338" cy="1668" r="7.7" fill="#749251"/>
<circle cx="1408" cy="1669" r="7.7" fill="#818a50"/>
<circle cx="1332" cy="1679" r="7.7" fill="#718e4f"/>
<circle cx="1325" cy="1670" r="7.7" fill="#628e46"/>
<circle cx="1340" cy="1658" r="7.7" fill="#6d8e4c"/>
<circle cx="1348" cy="1640" r="7.7" fill="#698e4b"/>
<circle cx="1319" cy="1680" r="7.7" fill="#66904e"/>
<circle cx="1313" cy="1631" r="7.7" fill="#63904b"/>
<circle cx="1372" cy="1632" r="7.7" fill="#6f904d"/>
<circle cx="1291" cy="1650" r="7.7" fill="#5d914a"/>
<circle cx="1367" cy="1623" r="7.7" fill="#6e8d4c"/>
<circle cx="1349" cy="1628" r="7.7" fill="#6b8e44"/>
<circle cx="1150" cy="1560" r="7.7" fill="#3b9434"/>
<circle cx="1397" cy="1688" r="7.7" fill="#808c4e"/>
<circle cx="1261" cy="1587" r="7.7" fill="#469747"/>
<circle cx="1367" cy="1649" r="7.7" fill="#6e8d4c"/>
<circle cx="1383" cy="1653" r="7.7" fill="#718f4e"/>
<circle cx="1316" cy="1594" r="7.7" fill="#56974f"/>
<circle cx="1323" cy="1655" r="7.7" fill="#629249"/>
<circle cx="1185" cy="1559" r="7.7" fill="#439838"/>
<circle cx="1263" cy="1597" r="7.7" fill="#479448"/>
<circle cx="1271" cy="1590" r="7.7" fill="#47964a"/>
<circle cx="1274" cy="1649" r="7.7" fill="#5b914b"/>
<circle cx="1354" cy="1679" r="7.7" fill="#788f53"/>
<circle cx="1366" cy="1686" r="7.7" fill="#799053"/>
<circle cx="1195" cy="1576" r="7.7" fill="#45953b"/>
<circle cx="1256" cy="1629" r="7.7" fill="#4b9646"/>
<circle cx="1267" cy="1580" r="7.7" fill="#47954b"/>
<circle cx="1255" cy="1615" r="7.7" fill="#4d9446"/>
<circle cx="1215" cy="1577" r="7.7" fill="#4a9543"/>
<circle cx="1315" cy="1671" r="7.7" fill="#5c8f4a"/>
<circle cx="1316" cy="1660" r="7.7" fill="#5d904a"/>
<circle cx="1176" cy="1579" r="7.7" fill="#429839"/>
<circle cx="1245" cy="1607" r="7.7" fill="#479243"/>
<circle cx="1311" cy="1601" r="7.7" fill="#56954e"/>
<circle cx="1117" cy="1536" r="7.7" fill="#359832"/>
<circle cx="1277" cy="1577" r="7.7" fill="#47994c"/>
<circle cx="1388" cy="1600" r="7.7" fill="#6e9552"/>
<circle cx="1186" cy="1582" r="7.7" fill="#46973e"/>
<circle cx="1212" cy="1562" r="7.7" fill="#4c9741"/>
<circle cx="1347" cy="1672" r="7.7" fill="#77904f"/>
<circle cx="1291" cy="1667" r="7.7" fill="#568b43"/>
<circle cx="1226" cy="1602" r="7.7" fill="#4c9747"/>
<circle cx="1380" cy="1609" r="7.7" fill="#699650"/>
<circle cx="1384" cy="1643" r="7.7" fill="#6e8e4d"/>
<circle cx="1402" cy="1679" r="7.7" fill="#86874f"/>
<circle cx="1371" cy="1612" r="7.7" fill="#698f4e"/>
<circle cx="1234" cy="1583" r="7.7" fill="#4b9344"/>
<circle cx="1157" cy="1551" r="7.7" fill="#3a9836"/>
<circle cx="1384" cy="1629" r="7.7" fill="#6c8e4e"/>
<circle cx="1309" cy="1678" r="7.7" fill="#5c8c46"/>
<circle cx="1282" cy="1615" r="7.7" fill="#4e974c"/>
<circle cx="1159" cy="1560" r="7.7" fill="#389133"/>
<circle cx="1372" cy="1641" r="7.7" fill="#688b4a"/>
<circle cx="1283" cy="1657" r="7.7" fill="#60934e"/>
<circle cx="1306" cy="1648" r="7.7" fill="#5b8c45"/>
<circle cx="1193" cy="1565" r="7.7" fill="#46993e"/>
<circle cx="1288" cy="1578" r="7.7" fill="#46974a"/>
<circle cx="1292" cy="1590" r="7.7" fill="#4b974c"/>
<circle cx="1353" cy="1688" r="7.7" fill="#7a924f"/>
<circle cx="1357" cy="1622" r="7.7" fill="#6a8f4a"/>
<circle cx="1271" cy="1630" r="7.7" fill="#4d9048"/>
<circle cx="1293" cy="1634" r="7.7" fill="#578e46"/>
<circle cx="1176" cy="1562" r="7.7" fill="#3e9336"/>
<circle cx="1143" cy="1551" r="7.7" fill="#379634"/>
<circle cx="1319" cy="1625" r="7.7" fill="#60924a"/>
<circle cx="1382" cy="1675" r="7.7" fill="#778c53"/>
<circle cx="1274" cy="1599" r="7.7" fill="#449446"/>
<circle cx="1405" cy="1659" r="7.7" fill="#859056"/>
<circle cx="1121" cy="1547" r="7.7" fill="#399531"/>
<circle cx="1307" cy="1586" r="7.7" fill="#519a4e"/>
<circle cx="1338" cy="1645" r="7.7" fill="#698b47"/>
<circle cx="1350" cy="1657" r="7.7" fill="#698d46"/>
<circle cx="1216" cy="1597" r="7.7" fill="#499347"/>
<circle cx="1322" cy="1637" r="7.7" fill="#618d48"/>
<circle cx="1330" cy="1661" r="7.7" fill="#678d48"/>
<circle cx="1399" cy="1666" r="7.7" fill="#848d4f"/>
<circle cx="1337" cy="1687" r="7.7" fill="#708d4e"/>
<circle cx="1208" cy="1594" r="7.7" fill="#4a9443"/>
<circle cx="1266" cy="1606" r="7.7" fill="#48974b"/>
<circle cx="1321" cy="1561" r="7.7" fill="#5a9e55"/>
<circle cx="1322" cy="1550" r="7.7" fill="#559d54"/>
<circle cx="1343" cy="1563" r="7.7" fill="#5ca458"/>
<circle cx="1330" cy="1555" r="7.7" fill="#5da056"/>
<circle cx="1335" cy="1570" r="7.7" fill="#5aa058"/>
<circle cx="1345" cy="1546" r="7.7" fill="#599f56"/>
<circle cx="1361" cy="1538" r="7.7" fill="#66a85a"/>
<circle cx="1307" cy="1541" r="7.7" fill="#529b53"/>
<circle cx="1346" cy="1572" r="7.7" fill="#61a35a"/>
<circle cx="1316" cy="1542" r="7.7" fill="#55a157"/>
<circle cx="1307" cy="1550" r="7.7" fill="#559e53"/>
<circle cx="1329" cy="1538" r="7.7" fill="#5fa157"/>
<circle cx="1331" cy="1582" r="7.7" fill="#569d56"/>
<circle cx="1340" cy="1537" r="7.7" fill="#599f56"/>
<circle cx="1321" cy="1575" r="7.7" fill="#569950"/>
<circle cx="1342" cy="1580" r="7.7" fill="#5e9c53"/>
<circle cx="1351" cy="1555" r="7.7" fill="#5c9f57"/>
<circle cx="1360" cy="1547" r="7.7" fill="#63a359"/>
<circle cx="1335" cy="1548" r="7.7" fill="#59a355"/>
<circle cx="1350" cy="1538" r="7.7" fill="#5da057"/>
<circle cx="1312" cy="1558" r="7.7" fill="#559f53"/>
<circle cx="1315" cy="1515" r="7.7" fill="#429c57"/>
<circle cx="1325" cy="1518" r="7.7" fill="#439e5c"/>
<circle cx="1330" cy="1517" r="7.7" fill="#4ba45e"/>
<circle cx="1322" cy="1525" r="7.7" fill="#449d57"/>
<circle cx="1320" cy="1520" r="7.7" fill="#45a25e"/>
<circle cx="1396" cy="1543" r="7.7" fill="#7eb467"/>
<circle cx="1380" cy="1529" r="7.7" fill="#7cb165"/>
<circle cx="1391" cy="1535" r="7.7" fill="#7eb464"/>
<circle cx="1403" cy="1533" r="7.7" fill="#83b96c"/>
<circle cx="1401" cy="1522" r="7.7" fill="#7cb361"/>
<circle cx="1415" cy="1544" r="7.7" fill="#79b164"/>
<circle cx="1414" cy="1524" r="7.7" fill="#7eb164"/>
<circle cx="1406" cy="1550" r="7.7" fill="#7cb266"/>
<circle cx="1417" cy="1515" r="7.7" fill="#7bb064"/>
<circle cx="1389" cy="1523" r="7.7" fill="#7bb263"/>
<circle cx="1375" cy="1553" r="7.7" fill="#66a559"/>
<circle cx="1395" cy="1553" r="7.7" fill="#6dab5b"/>
<circle cx="1410" cy="1572" r="7.7" fill="#7a9f60"/>
<circle cx="1413" cy="1572" r="7.7" fill="#7aa060"/>
<circle cx="1413" cy="1575" r="7.7" fill="#7e9e63"/>
<circle cx="1417" cy="1577" r="7.7" fill="#829c66"/>
<circle cx="1415" cy="1584" r="7.7" fill="#84a164"/>
<circle cx="1422" cy="1577" r="7.7" fill="#859a6a"/>
<circle cx="1426" cy="1587" r="7.7" fill="#879967"/>
<circle cx="1424" cy="1589" r="7.7" fill="#879865"/>
<circle cx="1431" cy="1582" r="7.7" fill="#8b9c66"/>
<circle cx="1430" cy="1595" r="7.7" fill="#8d9a65"/>
<circle cx="1436" cy="1591" r="7.7" fill="#8f9d64"/>
<circle cx="1434" cy="1595" r="7.7" fill="#8e995f"/>
<circle cx="1441" cy="1593" r="7.7" fill="#94995e"/>
<circle cx="1442" cy="1599" r="7.7" fill="#97985d"/>
<circle cx="1442" cy="1601" r="7.7" fill="#9a9b5e"/>
<circle cx="1441" cy="1610" r="7.7" fill="#a29a60"/>
<circle cx="1452" cy="1607" r="7.7" fill="#a4995c"/>
<circle cx="1446" cy="1615" r="7.7" fill="#a79a5d"/>
<circle cx="1424" cy="1625" r="7.7" fill="#759557"/>
<circle cx="1423" cy="1635" r="7.7" fill="#7d9a5c"/>
<circle cx="1453" cy="1528" r="7.7" fill="#8c8545"/>
<circle cx="1443" cy="1536" r="7.7" fill="#867e42"/>
<circle cx="1434" cy="1544" r="7.7" fill="#8a8247"/>
<circle cx="1439" cy="1552" r="7.7" fill="#8b8646"/>
<circle cx="1478" cy="1504" r="7.7" fill="#7d7d3a"/>
<circle cx="1482" cy="1513" r="7.7" fill="#7d7e3a"/>
<circle cx="1477" cy="1525" r="7.7" fill="#a57a3a"/>
<circle cx="1466" cy="1545" r="7.7" fill="#b96e38"/>
<circle cx="1472" cy="1552" r="7.7" fill="#b86f3a"/>
<circle cx="1478" cy="1542" r="7.7" fill="#8a7060"/>
<circle cx="1493" cy="1545" r="7.7" fill="#7a7a50"/>
<circle cx="1466" cy="1568" r="7.7" fill="#9e7848"/>
<circle cx="1475" cy="1565" r="7.7" fill="#a1794a"/>
<circle cx="1482" cy="1568" r="7.7" fill="#a17d4b"/>
<circle cx="1472" cy="1577" r="7.7" fill="#9e7949"/>
<circle cx="1478" cy="1582" r="7.7" fill="#a07a47"/>
<circle cx="1454" cy="1577" r="7.7" fill="#9a9078"/>
<circle cx="1456" cy="1595" r="7.7" fill="#b08a58"/>
<circle cx="1451" cy="1606" r="7.7" fill="#a89a60"/>
<circle cx="1472" cy="1587" r="7.7" fill="#897f61"/>
<circle cx="1478" cy="1590" r="7.7" fill="#8a7d5d"/>
<circle cx="1485" cy="1581" r="7.7" fill="#8c8466"/>
<circle cx="1498" cy="1565" r="7.7" fill="#6f8c6b"/>
<circle cx="1507" cy="1577" r="7.7" fill="#6d8a69"/>
<circle cx="1514" cy="1581" r="7.7" fill="#6e8b6b"/>
<circle cx="1501" cy="1587" r="7.7" fill="#718a6a"/>
<circle cx="1498" cy="1597" r="7.7" fill="#6d8666"/>
<circle cx="1490" cy="1572" r="7.7" fill="#6a8a68"/>
<circle cx="1521" cy="1387" r="7.7" fill="#3f8740"/>
<circle cx="1495" cy="1417" r="7.7" fill="#428a44"/>
<circle cx="1507" cy="1408" r="7.7" fill="#3f8941"/>
<circle cx="1512" cy="1399" r="7.7" fill="#418840"/>
<circle cx="1518" cy="1396" r="7.7" fill="#428e42"/>
<circle cx="1521" cy="1397" r="7.7" fill="#3f8940"/>
<circle cx="1520" cy="1400" r="7.7" fill="#3e863e"/>
<circle cx="1516" cy="1403" r="7.7" fill="#3e893f"/>
<circle cx="1516" cy="1410" r="7.7" fill="#3d8b3f"/>
<circle cx="1507" cy="1417" r="7.7" fill="#3c8740"/>
<circle cx="1512" cy="1416" r="7.7" fill="#3d8a41"/>
<circle cx="1533" cy="1394" r="7.7" fill="#3f893e"/>
<circle cx="1496" cy="1432" r="7.7" fill="#468d48"/>
<circle cx="1521" cy="1408" r="7.7" fill="#3b883e"/>
<circle cx="1516" cy="1416" r="7.7" fill="#3e8a3f"/>
<circle cx="1521" cy="1414" r="7.7" fill="#3d8b40"/>
<circle cx="1526" cy="1407" r="7.7" fill="#39893f"/>
<circle cx="1531" cy="1408" r="7.7" fill="#408c41"/>
<circle cx="1522" cy="1418" r="7.7" fill="#3c863f"/>
<circle cx="1513" cy="1422" r="7.7" fill="#438e44"/>
<circle cx="1523" cy="1421" r="7.7" fill="#3f8740"/>
<circle cx="1547" cy="1407" r="7.7" fill="#3f8e45"/>
<circle cx="1529" cy="1420" r="7.7" fill="#3f8b46"/>
<circle cx="1529" cy="1422" r="7.7" fill="#418c46"/>
<circle cx="1525" cy="1426" r="7.7" fill="#468c4b"/>
<circle cx="1520" cy="1431" r="7.7" fill="#428d4a"/>
<circle cx="1525" cy="1427" r="7.7" fill="#3d8a46"/>
<circle cx="1527" cy="1427" r="7.7" fill="#418b48"/>
<circle cx="1541" cy="1419" r="7.7" fill="#408c46"/>
<circle cx="1522" cy="1433" r="7.7" fill="#448947"/>
<circle cx="1540" cy="1423" r="7.7" fill="#43904c"/>
<circle cx="1517" cy="1435" r="7.7" fill="#438e49"/>
<circle cx="1533" cy="1430" r="7.7" fill="#448b4b"/>
<circle cx="1530" cy="1435" r="7.7" fill="#418c4d"/>
<circle cx="1523" cy="1441" r="7.7" fill="#3e8949"/>
<circle cx="1538" cy="1431" r="7.7" fill="#418c4a"/>
<circle cx="1535" cy="1434" r="7.7" fill="#428949"/>
<circle cx="1533" cy="1438" r="7.7" fill="#408f4b"/>
<circle cx="1535" cy="1437" r="7.7" fill="#3e8c4d"/>
<circle cx="1531" cy="1442" r="7.7" fill="#41914c"/>
<circle cx="1527" cy="1443" r="7.7" fill="#418e50"/>
<circle cx="1536" cy="1442" r="7.7" fill="#3e8e4a"/>
<circle cx="1540" cy="1439" r="7.7" fill="#428c4b"/>
<circle cx="1531" cy="1447" r="7.7" fill="#418e4d"/>
<circle cx="1536" cy="1446" r="7.7" fill="#3e8d4d"/>
<circle cx="1533" cy="1449" r="7.7" fill="#408d4c"/>
<circle cx="1540" cy="1444" r="7.7" fill="#3e8c4c"/>
<circle cx="1530" cy="1453" r="7.7" fill="#3b8847"/>
<circle cx="1542" cy="1448" r="7.7" fill="#408c4b"/>
<circle cx="1542" cy="1447" r="7.7" fill="#3f8d4b"/>
<circle cx="1558" cy="1444" r="7.7" fill="#408e4e"/>
<circle cx="1550" cy="1445" r="7.7" fill="#3d8d48"/>
<circle cx="1545" cy="1450" r="7.7" fill="#418f4c"/>
<circle cx="1526" cy="1463" r="7.7" fill="#438f51"/>
<circle cx="1540" cy="1458" r="7.7" fill="#3d8948"/>
<circle cx="1540" cy="1456" r="7.7" fill="#408f4b"/>
<circle cx="1537" cy="1464" r="7.7" fill="#3d8d4d"/>
<circle cx="1551" cy="1457" r="7.7" fill="#3e8c4d"/>
<circle cx="1549" cy="1457" r="7.7" fill="#3e884e"/>
<circle cx="1550" cy="1460" r="7.7" fill="#428e4b"/>
<circle cx="1543" cy="1463" r="7.7" fill="#448e4b"/>
<circle cx="1539" cy="1468" r="7.7" fill="#438a4f"/>
<circle cx="1564" cy="1459" r="7.7" fill="#458f52"/>
<circle cx="1553" cy="1465" r="7.7" fill="#438c50"/>
<circle cx="1555" cy="1463" r="7.7" fill="#408c52"/>
<circle cx="1562" cy="1461" r="7.7" fill="#448c50"/>
<circle cx="1564" cy="1463" r="7.7" fill="#438a55"/>
<circle cx="1541" cy="1474" r="7.7" fill="#468e50"/>
<circle cx="1561" cy="1468" r="7.7" fill="#468d56"/>
<circle cx="1554" cy="1467" r="7.7" fill="#408a4c"/>
<circle cx="1547" cy="1474" r="7.7" fill="#428a50"/>
<circle cx="1546" cy="1480" r="7.7" fill="#468953"/>
<circle cx="1548" cy="1480" r="7.7" fill="#478b56"/>
<circle cx="1564" cy="1472" r="7.7" fill="#478c54"/>
<circle cx="1570" cy="1471" r="7.7" fill="#4e8f59"/>
<circle cx="1557" cy="1480" r="7.7" fill="#468e57"/>
<circle cx="1564" cy="1476" r="7.7" fill="#498d54"/>
<circle cx="1561" cy="1479" r="7.7" fill="#448a53"/>
<circle cx="1562" cy="1480" r="7.7" fill="#488c54"/>
<circle cx="1565" cy="1480" r="7.7" fill="#458956"/>
<circle cx="1555" cy="1484" r="7.7" fill="#4b8c58"/>
<circle cx="1572" cy="1478" r="7.7" fill="#498a51"/>
<circle cx="1560" cy="1487" r="7.7" fill="#478b54"/>
<circle cx="1541" cy="1494" r="7.7" fill="#488c55"/>
<circle cx="1581" cy="1482" r="7.7" fill="#49884e"/>
<circle cx="1561" cy="1488" r="7.7" fill="#438852"/>
<circle cx="1567" cy="1489" r="7.7" fill="#458b54"/>
<circle cx="1561" cy="1493" r="7.7" fill="#438c57"/>
<circle cx="1560" cy="1493" r="7.7" fill="#468c5a"/>
<circle cx="1559" cy="1495" r="7.7" fill="#478c55"/>
<circle cx="1560" cy="1495" r="7.7" fill="#458a53"/>
<circle cx="1571" cy="1495" r="7.7" fill="#4a8f58"/>
<circle cx="1582" cy="1493" r="7.7" fill="#578a55"/>
<circle cx="1557" cy="1499" r="7.7" fill="#438c53"/>
<circle cx="1573" cy="1500" r="7.7" fill="#458856"/>
<circle cx="1562" cy="1500" r="7.7" fill="#458853"/>
<circle cx="1581" cy="1499" r="7.7" fill="#568f59"/>
<circle cx="1564" cy="1502" r="7.7" fill="#448953"/>
<circle cx="1580" cy="1500" r="7.7" fill="#538a53"/>
<circle cx="1559" cy="1509" r="7.7" fill="#448b54"/>
<circle cx="1551" cy="1509" r="7.7" fill="#468c55"/>
<circle cx="1584" cy="1503" r="7.7" fill="#618a51"/>
<circle cx="1566" cy="1508" r="7.7" fill="#458a54"/>
<circle cx="1591" cy="1504" r="7.7" fill="#6a8a4d"/>
<circle cx="1554" cy="1515" r="7.7" fill="#478b5f"/>
<circle cx="1565" cy="1513" r="7.7" fill="#46875c"/>
<circle cx="1556" cy="1519" r="7.7" fill="#418a67"/>
<circle cx="1560" cy="1516" r="7.7" fill="#44895a"/>
<circle cx="1571" cy="1516" r="7.7" fill="#468c62"/>
<circle cx="1574" cy="1516" r="7.7" fill="#498c66"/>
<circle cx="1557" cy="1522" r="7.7" fill="#3b8c67"/>
<circle cx="1578" cy="1513" r="7.7" fill="#568e5b"/>
<circle cx="1582" cy="1518" r="7.7" fill="#558b5f"/>
<circle cx="1545" cy="1526" r="7.7" fill="#458d66"/>
<circle cx="1587" cy="1520" r="7.7" fill="#5d8958"/>
<circle cx="1566" cy="1524" r="7.7" fill="#328573"/>
<circle cx="1573" cy="1524" r="7.7" fill="#2f8879"/>
<circle cx="1577" cy="1527" r="7.7" fill="#2f8b7f"/>
<circle cx="1563" cy="1534" r="7.7" fill="#2f8b7d"/>
<circle cx="1571" cy="1530" r="7.7" fill="#29887e"/>
<circle cx="1579" cy="1530" r="7.7" fill="#2b8a81"/>
<circle cx="1584" cy="1526" r="7.7" fill="#3c8b74"/>
<circle cx="1567" cy="1536" r="7.7" fill="#308b7f"/>
<circle cx="1570" cy="1536" r="7.7" fill="#298880"/>
<circle cx="1574" cy="1537" r="7.7" fill="#2e9285"/>
<circle cx="1556" cy="1410" r="7.7" fill="#408845"/>
<circle cx="1546" cy="1408" r="7.7" fill="#3e8840"/>
<circle cx="1535" cy="1405" r="7.7" fill="#3e8b3f"/>
<circle cx="1484" cy="1443" r="7.7" fill="#6e7a24"/>
<circle cx="1509" cy="1445" r="7.7" fill="#62842c"/>
<circle cx="1594" cy="1510" r="7.7" fill="#6e8c50"/>
<circle cx="1578" cy="1523" r="7.7" fill="#4a8777"/>
<circle cx="1587" cy="1533" r="7.7" fill="#478879"/>
<circle cx="1581" cy="1536" r="7.7" fill="#48877a"/>
<circle cx="1572" cy="1545" r="7.7" fill="#48857a"/>
<circle cx="1578" cy="1538" r="7.7" fill="#2a8a86"/>
<circle cx="1507" cy="1481" r="7.7" fill="#499056"/>
<circle cx="1519" cy="1497" r="7.7" fill="#4b8d56"/>
<circle cx="1531" cy="1499" r="7.7" fill="#4a8d56"/>
<circle cx="1520" cy="1482" r="7.7" fill="#4a8f5a"/>
<circle cx="1507" cy="1492" r="7.7" fill="#4c9059"/>
<circle cx="1510" cy="1503" r="7.7" fill="#4d935a"/>
<circle cx="1535" cy="1485" r="7.7" fill="#4a8e58"/>
<circle cx="1525" cy="1490" r="7.7" fill="#4e9057"/>
<circle cx="1525" cy="1507" r="7.7" fill="#4e9157"/>
<circle cx="1537" cy="1507" r="7.7" fill="#468e5e"/>
<circle cx="1511" cy="1516" r="7.7" fill="#488f56"/>
<circle cx="1514" cy="1517" r="7.7" fill="#488c57"/>
<circle cx="1512" cy="1518" r="7.7" fill="#488f59"/>
<circle cx="1516" cy="1524" r="7.7" fill="#509060"/>
<circle cx="1511" cy="1529" r="7.7" fill="#4d8c59"/>
<circle cx="1517" cy="1531" r="7.7" fill="#549063"/>
<circle cx="1520" cy="1536" r="7.7" fill="#579165"/>
<circle cx="1518" cy="1541" r="7.7" fill="#588f63"/>
<circle cx="1525" cy="1544" r="7.7" fill="#5b9166"/>
<circle cx="1521" cy="1548" r="7.7" fill="#5b9368"/>
<circle cx="1525" cy="1551" r="7.7" fill="#598b63"/>
<circle cx="1517" cy="1557" r="7.7" fill="#599062"/>
<circle cx="1530" cy="1559" r="7.7" fill="#599064"/>
<circle cx="1528" cy="1570" r="7.7" fill="#558a67"/>
<circle cx="1519" cy="1565" r="7.7" fill="#5d9165"/>
<circle cx="1503" cy="1562" r="7.7" fill="#558a63"/>
<circle cx="1512" cy="1564" r="7.7" fill="#589167"/>
<circle cx="1512" cy="1573" r="7.7" fill="#5c8e64"/>
<circle cx="1505" cy="1573" r="7.7" fill="#5d8e68"/>
<circle cx="1505" cy="1578" r="7.7" fill="#628d69"/>
<circle cx="1503" cy="1589" r="7.7" fill="#6b8e71"/>
<circle cx="1506" cy="1588" r="7.7" fill="#698a73"/>
<circle cx="1496" cy="1589" r="7.7" fill="#6c8e73"/>
<circle cx="1498" cy="1597" r="7.7" fill="#6c8a71"/>
<circle cx="1535" cy="1545" r="7.7" fill="#548c66"/>
<circle cx="1540" cy="1548" r="7.7" fill="#518f66"/>
<circle cx="1225" cy="1390" r="7.7" fill="#4c8b3b"/>
<circle cx="1228" cy="1392" r="7.7" fill="#4a9038"/>
<circle cx="1227" cy="1384" r="7.7" fill="#488b38"/>
<circle cx="1224" cy="1387" r="7.7" fill="#498d3a"/>
<circle cx="1221" cy="1381" r="7.7" fill="#4b903b"/>
<circle cx="1228" cy="1383" r="7.7" fill="#4b8c39"/>
<circle cx="1228" cy="1377" r="7.7" fill="#4d8f3b"/>
<circle cx="1226" cy="1379" r="7.7" fill="#498a3a"/>
<circle cx="1226" cy="1375" r="7.7" fill="#4e8f3d"/>
<circle cx="1229" cy="1372" r="7.7" fill="#498b3c"/>
<circle cx="1221" cy="1369" r="7.7" fill="#4d8e3c"/>
<circle cx="1221" cy="1363" r="7.7" fill="#4a8d3a"/>
<circle cx="1226" cy="1364" r="7.7" fill="#498a37"/>
<circle cx="1226" cy="1360" r="7.7" fill="#4d8f3d"/>
<circle cx="1231" cy="1361" r="7.7" fill="#4b8c3b"/>
<circle cx="1226" cy="1358" r="7.7" fill="#498a38"/>
<circle cx="1229" cy="1355" r="7.7" fill="#478633"/>
<circle cx="1232" cy="1358" r="7.7" fill="#4c8e3a"/>
<circle cx="1237" cy="1358" r="7.7" fill="#4d8f3a"/>
<circle cx="1235" cy="1354" r="7.7" fill="#4c893b"/>
<circle cx="1237" cy="1352" r="7.7" fill="#509041"/>
<circle cx="1236" cy="1350" r="7.7" fill="#4f8a3e"/>
<circle cx="1240" cy="1344" r="7.7" fill="#50863a"/>
<circle cx="1242" cy="1341" r="7.7" fill="#538a3c"/>
<circle cx="1243" cy="1345" r="7.7" fill="#4e8435"/>
<circle cx="1244" cy="1344" r="7.7" fill="#53863b"/>
<circle cx="1244" cy="1335" r="7.7" fill="#52883a"/>
<circle cx="1249" cy="1343" r="7.7" fill="#578a3e"/>
<circle cx="1249" cy="1339" r="7.7" fill="#508439"/>
<circle cx="1254" cy="1336" r="7.7" fill="#53803a"/>
<circle cx="1254" cy="1338" r="7.7" fill="#538339"/>
<circle cx="1257" cy="1334" r="7.7" fill="#54893d"/>
<circle cx="1262" cy="1333" r="7.7" fill="#558439"/>
<circle cx="1259" cy="1336" r="7.7" fill="#51843a"/>
<circle cx="1264" cy="1333" r="7.7" fill="#52833a"/>
<circle cx="1264" cy="1331" r="7.7" fill="#54863a"/>
<circle cx="1264" cy="1330" r="7.7" fill="#508338"/>
<circle cx="1267" cy="1322" r="7.7" fill="#54823a"/>
<circle cx="1269" cy="1332" r="7.7" fill="#568339"/>
<circle cx="1272" cy="1324" r="7.7" fill="#51833a"/>
<circle cx="1273" cy="1321" r="7.7" fill="#55873c"/>
<circle cx="1274" cy="1331" r="7.7" fill="#52863c"/>
<circle cx="1278" cy="1328" r="7.7" fill="#538239"/>
<circle cx="1278" cy="1325" r="7.7" fill="#528339"/>
<circle cx="1282" cy="1324" r="7.7" fill="#528238"/>
<circle cx="1286" cy="1320" r="7.7" fill="#56823e"/>
<circle cx="1286" cy="1316" r="7.7" fill="#5a8940"/>
<circle cx="1290" cy="1325" r="7.7" fill="#518137"/>
<circle cx="1291" cy="1320" r="7.7" fill="#5b863f"/>
<circle cx="1291" cy="1320" r="7.7" fill="#59843d"/>
<circle cx="1297" cy="1320" r="7.7" fill="#5c7f3d"/>
<circle cx="1299" cy="1321" r="7.7" fill="#5b7f3b"/>
<circle cx="1299" cy="1325" r="7.7" fill="#62823d"/>
<circle cx="1300" cy="1314" r="7.7" fill="#5e7e39"/>
<circle cx="1304" cy="1316" r="7.7" fill="#617b3a"/>
<circle cx="1307" cy="1315" r="7.7" fill="#617a39"/>
<circle cx="1309" cy="1314" r="7.7" fill="#647d3a"/>
<circle cx="1314" cy="1315" r="7.7" fill="#677b3b"/>
<circle cx="1313" cy="1316" r="7.7" fill="#677a3d"/>
<circle cx="1314" cy="1316" r="7.7" fill="#647d3b"/>
<circle cx="1317" cy="1314" r="7.7" fill="#67783b"/>
<circle cx="1319" cy="1317" r="7.7" fill="#657838"/>
<circle cx="1322" cy="1322" r="7.7" fill="#657c3a"/>
<circle cx="1324" cy="1322" r="7.7" fill="#677d3d"/>
<circle cx="1324" cy="1309" r="7.7" fill="#667539"/>
<circle cx="1327" cy="1311" r="7.7" fill="#67783c"/>
<circle cx="1333" cy="1321" r="7.7" fill="#647635"/>
<circle cx="1332" cy="1310" r="7.7" fill="#687738"/>
<circle cx="1330" cy="1310" r="7.7" fill="#637635"/>
<circle cx="1337" cy="1320" r="7.7" fill="#64793c"/>
<circle cx="1237" cy="1369" r="7.7" fill="#488d38"/>
<circle cx="1234" cy="1369" r="7.7" fill="#488936"/>
<circle cx="1237" cy="1363" r="7.7" fill="#4a8b3a"/>
<circle cx="1236" cy="1359" r="7.7" fill="#50913f"/>
<circle cx="1248" cy="1363" r="7.7" fill="#4f893c"/>
<circle cx="1244" cy="1358" r="7.7" fill="#508b3a"/>
<circle cx="1245" cy="1358" r="7.7" fill="#4f8637"/>
<circle cx="1249" cy="1355" r="7.7" fill="#4c8738"/>
<circle cx="1248" cy="1347" r="7.7" fill="#55883c"/>
<circle cx="1254" cy="1351" r="7.7" fill="#55873b"/>
<circle cx="1260" cy="1348" r="7.7" fill="#538639"/>
<circle cx="1257" cy="1347" r="7.7" fill="#51863b"/>
<circle cx="1263" cy="1348" r="7.7" fill="#59863e"/>
<circle cx="1268" cy="1353" r="7.7" fill="#53833a"/>
<circle cx="1265" cy="1340" r="7.7" fill="#4e8538"/>
<circle cx="1267" cy="1344" r="7.7" fill="#508436"/>
<circle cx="1268" cy="1341" r="7.7" fill="#56883d"/>
<circle cx="1274" cy="1341" r="7.7" fill="#538438"/>
<circle cx="1275" cy="1342" r="7.7" fill="#57873f"/>
<circle cx="1279" cy="1338" r="7.7" fill="#52833c"/>
<circle cx="1279" cy="1333" r="7.7" fill="#56883e"/>
<circle cx="1283" cy="1334" r="7.7" fill="#4f833b"/>
<circle cx="1280" cy="1333" r="7.7" fill="#568840"/>
<circle cx="1289" cy="1336" r="7.7" fill="#54813a"/>
<circle cx="1292" cy="1329" r="7.7" fill="#558139"/>
<circle cx="1295" cy="1332" r="7.7" fill="#568039"/>
<circle cx="1291" cy="1325" r="7.7" fill="#548137"/>
<circle cx="1300" cy="1337" r="7.7" fill="#5d833e"/>
<circle cx="1248" cy="1370" r="7.7" fill="#4e8c3f"/>
<circle cx="1258" cy="1376" r="7.7" fill="#508b3d"/>
<circle cx="1242" cy="1376" r="7.7" fill="#4a8d3c"/>
<circle cx="1303" cy="1358" r="7.7" fill="#5c823b"/>
<circle cx="1310" cy="1336" r="7.7" fill="#63803b"/>
<circle cx="1339" cy="1356" r="7.7" fill="#5f873c"/>
<circle cx="1346" cy="1379" r="7.7" fill="#618940"/>
<circle cx="1412" cy="1338" r="7.7" fill="#8f6b33"/>
<circle cx="1357" cy="1367" r="7.7" fill="#648541"/>
<circle cx="1309" cy="1365" r="7.7" fill="#5d823b"/>
<circle cx="1380" cy="1326" r="7.7" fill="#7b743e"/>
<circle cx="1340" cy="1331" r="7.7" fill="#647c3c"/>
<circle cx="1321" cy="1324" r="7.7" fill="#677b3e"/>
<circle cx="1412" cy="1350" r="7.7" fill="#7f732e"/>
<circle cx="1370" cy="1331" r="7.7" fill="#777339"/>
<circle cx="1377" cy="1360" r="7.7" fill="#747838"/>
<circle cx="1391" cy="1342" r="7.7" fill="#857237"/>
<circle cx="1359" cy="1323" r="7.7" fill="#707436"/>
<circle cx="1363" cy="1347" r="7.7" fill="#707c3b"/>
<circle cx="1332" cy="1348" r="7.7" fill="#5e863f"/>
<circle cx="1356" cy="1355" r="7.7" fill="#64833f"/>
<circle cx="1282" cy="1347" r="7.7" fill="#53863b"/>
<circle cx="1390" cy="1327" r="7.7" fill="#8d6e38"/>
<circle cx="1403" cy="1358" r="7.7" fill="#77762c"/>
<circle cx="1297" cy="1350" r="7.7" fill="#5a833c"/>
<circle cx="1379" cy="1381" r="7.7" fill="#6d7a32"/>
<circle cx="1344" cy="1366" r="7.7" fill="#5d883f"/>
<circle cx="1360" cy="1381" r="7.7" fill="#63833b"/>
<circle cx="1291" cy="1338" r="7.7" fill="#54823a"/>
<circle cx="1385" cy="1351" r="7.7" fill="#807939"/>
<circle cx="1323" cy="1337" r="7.7" fill="#647e3a"/>
<circle cx="1350" cy="1328" r="7.7" fill="#6e7b3c"/>
<circle cx="1357" cy="1334" r="7.7" fill="#757b3d"/>
<circle cx="1395" cy="1381" r="7.7" fill="#777b2c"/>
<circle cx="1368" cy="1372" r="7.7" fill="#6b843c"/>
<circle cx="1403" cy="1332" r="7.7" fill="#9a6e36"/>
<circle cx="1389" cy="1361" r="7.7" fill="#7c7831"/>
<circle cx="1333" cy="1319" r="7.7" fill="#68793a"/>
<circle cx="1388" cy="1317" r="7.7" fill="#896e38"/>
<circle cx="1370" cy="1389" r="7.7" fill="#6c8840"/>
<circle cx="1373" cy="1346" r="7.7" fill="#7a783d"/>
<circle cx="1309" cy="1318" r="7.7" fill="#647b3b"/>
<circle cx="1331" cy="1364" r="7.7" fill="#608841"/>
<circle cx="1319" cy="1371" r="7.7" fill="#608741"/>
<circle cx="1300" cy="1341" r="7.7" fill="#5e803a"/>
<circle cx="1414" cy="1374" r="7.7" fill="#74792b"/>
<circle cx="1403" cy="1376" r="7.7" fill="#767928"/>
<circle cx="1400" cy="1340" r="7.7" fill="#8f6d37"/>
<circle cx="1347" cy="1344" r="7.7" fill="#698945"/>
<circle cx="1334" cy="1382" r="7.7" fill="#618842"/>
<circle cx="1299" cy="1331" r="7.7" fill="#5d813a"/>
<circle cx="1315" cy="1354" r="7.7" fill="#648541"/>
<circle cx="1398" cy="1369" r="7.7" fill="#777d2e"/>
<circle cx="1367" cy="1360" r="7.7" fill="#6f803e"/>
<circle cx="1382" cy="1342" r="7.7" fill="#7f743c"/>
<circle cx="1412" cy="1360" r="7.7" fill="#78782b"/>
<circle cx="1343" cy="1314" r="7.7" fill="#697839"/>
<circle cx="1370" cy="1319" r="7.7" fill="#7f763e"/>
<circle cx="1331" cy="1329" r="7.7" fill="#697b3b"/>
<circle cx="1308" cy="1345" r="7.7" fill="#5d8039"/>
<circle cx="1394" cy="1353" r="7.7" fill="#797433"/>
<circle cx="1337" cy="1340" r="7.7" fill="#637e3d"/>
<circle cx="1322" cy="1347" r="7.7" fill="#61843c"/>
<circle cx="1287" cy="1356" r="7.7" fill="#54803b"/>
<circle cx="1353" cy="1315" r="7.7" fill="#6f783b"/>
<circle cx="1324" cy="1358" r="7.7" fill="#618841"/>
<circle cx="1353" cy="1387" r="7.7" fill="#628946"/>
<circle cx="1400" cy="1324" r="7.7" fill="#976934"/>
<circle cx="1324" cy="1379" r="7.7" fill="#5f8743"/>
<circle cx="1407" cy="1367" r="7.7" fill="#76792c"/>
<circle cx="1310" cy="1327" r="7.7" fill="#667b3c"/>
<circle cx="1387" cy="1387" r="7.7" fill="#717b30"/>
<circle cx="1377" cy="1369" r="7.7" fill="#727b39"/>
<circle cx="1387" cy="1314" r="7.7" fill="#9a6933"/>
<circle cx="1395" cy="1322" r="7.7" fill="#996937"/>
<circle cx="1399" cy="1330" r="7.7" fill="#996934"/>
<circle cx="1404" cy="1338" r="7.7" fill="#9c6635"/>
<circle cx="1413" cy="1372" r="7.7" fill="#727820"/>
<circle cx="1418" cy="1378" r="7.7" fill="#757a22"/>
<circle cx="1407" cy="1405" r="7.7" fill="#9a8c3a"/>
<circle cx="1407" cy="1413" r="7.7" fill="#6aa83a"/>
<circle cx="1322" cy="1448" r="7.7" fill="#599959"/>
<circle cx="1344" cy="1445" r="7.7" fill="#5b9a5a"/>
<circle cx="1342" cy="1429" r="7.7" fill="#5d9d5e"/>
<circle cx="1357" cy="1418" r="7.7" fill="#5c9859"/>
<circle cx="1368" cy="1433" r="7.7" fill="#5b9957"/>
<circle cx="1354" cy="1430" r="7.7" fill="#5b9a5d"/>
<circle cx="1325" cy="1450" r="7.7" fill="#5f9a5a"/>
<circle cx="1345" cy="1446" r="7.7" fill="#6aa87a"/>
<circle cx="1103" cy="1515" r="14.5" fill="#2e962e"/>
<circle cx="835" cy="1974" r="7.7" fill="#bdb97d"/>
<circle cx="835" cy="1974" r="7.7" fill="#b9b577"/>
<circle cx="826" cy="1982" r="7.7" fill="#bdbb7d"/>
<circle cx="834" cy="1984" r="7.7" fill="#bbb378"/>
<circle cx="837" cy="1985" r="7.7" fill="#bfb77d"/>
<circle cx="835" cy="1986" r="7.7" fill="#c1b47f"/>
<circle cx="842" cy="1987" r="7.7" fill="#c1ac7d"/>
<circle cx="840" cy="1988" r="7.7" fill="#c3b081"/>
<circle cx="842" cy="1993" r="7.7" fill="#ccac85"/>
<circle cx="838" cy="1992" r="7.7" fill="#c6ae82"/>
<circle cx="845" cy="1993" r="7.7" fill="#c3a783"/>
<circle cx="841" cy="2001" r="7.7" fill="#cba986"/>
<circle cx="849" cy="2001" r="7.7" fill="#c9a886"/>
<circle cx="838" cy="2006" r="7.7" fill="#c9a686"/>
<circle cx="840" cy="2007" r="7.7" fill="#c5a984"/>
<circle cx="841" cy="2009" r="7.7" fill="#c8a884"/>
<circle cx="843" cy="2014" r="7.7" fill="#c6a483"/>
<circle cx="849" cy="2014" r="7.7" fill="#c9a782"/>
<circle cx="840" cy="2018" r="7.7" fill="#caaa85"/>
<circle cx="849" cy="2015" r="7.7" fill="#c6a682"/>
<circle cx="843" cy="2024" r="7.7" fill="#cca587"/>
<circle cx="852" cy="2019" r="7.7" fill="#cba684"/>
<circle cx="853" cy="2024" r="7.7" fill="#d2a388"/>
<circle cx="852" cy="2026" r="7.7" fill="#d3a689"/>
<circle cx="843" cy="2032" r="7.7" fill="#d7a58c"/>
<circle cx="852" cy="2031" r="7.7" fill="#d1a589"/>
<circle cx="852" cy="2034" r="7.7" fill="#d9a38c"/>
<circle cx="840" cy="2041" r="7.7" fill="#d39f87"/>
<circle cx="856" cy="2035" r="7.7" fill="#daa58e"/>
<circle cx="861" cy="2036" r="7.7" fill="#d7a388"/>
<circle cx="855" cy="2041" r="7.7" fill="#d29d85"/>
<circle cx="851" cy="2046" r="7.7" fill="#d8a189"/>
<circle cx="858" cy="2045" r="7.7" fill="#d5a38b"/>
<circle cx="858" cy="2049" r="7.7" fill="#d5a489"/>
<circle cx="866" cy="2050" r="7.7" fill="#d49e88"/>
<circle cx="870" cy="2047" r="7.7" fill="#d3a08a"/>
<circle cx="862" cy="2053" r="7.7" fill="#d6a48b"/>
<circle cx="859" cy="2056" r="7.7" fill="#d79e8a"/>
<circle cx="864" cy="2059" r="7.7" fill="#dc9d8b"/>
<circle cx="845" cy="2071" r="7.7" fill="#d89788"/>
<circle cx="865" cy="2067" r="7.7" fill="#d99689"/>
<circle cx="860" cy="2067" r="7.7" fill="#dc9b88"/>
<circle cx="874" cy="2066" r="7.7" fill="#dd9b8b"/>
<circle cx="866" cy="2073" r="7.7" fill="#d89685"/>
<circle cx="861" cy="2074" r="7.7" fill="#dc978a"/>
<circle cx="871" cy="2073" r="7.7" fill="#db9b89"/>
<circle cx="877" cy="2075" r="7.7" fill="#d89685"/>
<circle cx="873" cy="2077" r="7.7" fill="#db9889"/>
<circle cx="880" cy="2079" r="7.7" fill="#dc9b8e"/>
<circle cx="866" cy="2087" r="7.7" fill="#dd9688"/>
<circle cx="869" cy="2087" r="7.7" fill="#dc978c"/>
<circle cx="880" cy="2086" r="7.7" fill="#df9b8b"/>
<circle cx="880" cy="2089" r="7.7" fill="#e19a8c"/>
<circle cx="861" cy="2097" r="7.7" fill="#df968a"/>
<circle cx="868" cy="2099" r="7.7" fill="#dd9488"/>
<circle cx="875" cy="2098" r="7.7" fill="#de9289"/>
<circle cx="877" cy="2098" r="7.7" fill="#df938b"/>
<circle cx="877" cy="2100" r="7.7" fill="#dd938a"/>
<circle cx="874" cy="2107" r="7.7" fill="#e3958b"/>
<circle cx="877" cy="2107" r="7.7" fill="#de918c"/>
<circle cx="874" cy="2113" r="7.7" fill="#e1948a"/>
<circle cx="873" cy="2115" r="7.7" fill="#df9189"/>
<circle cx="885" cy="2112" r="7.7" fill="#e09189"/>
<circle cx="885" cy="2113" r="7.7" fill="#e08f87"/>
<circle cx="891" cy="2111" r="7.7" fill="#df918d"/>
<circle cx="878" cy="2122" r="7.7" fill="#e1948d"/>
<circle cx="882" cy="2120" r="7.7" fill="#e2978d"/>
<circle cx="885" cy="2126" r="7.7" fill="#e3968e"/>
<circle cx="880" cy="2126" r="7.7" fill="#e5928c"/>
<circle cx="879" cy="2136" r="7.7" fill="#db9088"/>
<circle cx="902" cy="2124" r="7.7" fill="#d99189"/>
<circle cx="901" cy="2130" r="7.7" fill="#dc8d8a"/>
<circle cx="892" cy="2131" r="7.7" fill="#de908b"/>
<circle cx="901" cy="2133" r="7.7" fill="#db8d88"/>
<circle cx="901" cy="2137" r="7.7" fill="#df8d8a"/>
<circle cx="889" cy="2141" r="7.7" fill="#e5938e"/>
<circle cx="888" cy="2146" r="7.7" fill="#e3918c"/>
<circle cx="893" cy="2147" r="7.7" fill="#de8e8c"/>
<circle cx="900" cy="2146" r="7.7" fill="#e3918d"/>
<circle cx="899" cy="2150" r="7.7" fill="#e3908c"/>
<circle cx="900" cy="2152" r="7.7" fill="#e28e8d"/>
<circle cx="892" cy="2157" r="7.7" fill="#e49390"/>
<circle cx="847" cy="1993" r="7.7" fill="#c8a782"/>
<circle cx="860" cy="1986" r="7.7" fill="#c5ac83"/>
<circle cx="850" cy="2000" r="7.7" fill="#c9a884"/>
<circle cx="857" cy="2000" r="7.7" fill="#c5a681"/>
<circle cx="865" cy="1998" r="7.7" fill="#c8a784"/>
<circle cx="855" cy="2010" r="7.7" fill="#c9a782"/>
<circle cx="870" cy="2009" r="7.7" fill="#cda786"/>
<circle cx="870" cy="2013" r="7.7" fill="#cba388"/>
<circle cx="872" cy="2011" r="7.7" fill="#cda589"/>
<circle cx="880" cy="2017" r="7.7" fill="#cea086"/>
<circle cx="879" cy="2032" r="7.7" fill="#d0a088"/>
<circle cx="886" cy="2027" r="7.7" fill="#cc9a85"/>
<circle cx="876" cy="2032" r="7.7" fill="#ce9884"/>
<circle cx="889" cy="2038" r="7.7" fill="#cd9889"/>
<circle cx="907" cy="2044" r="7.7" fill="#ce998f"/>
<circle cx="905" cy="2052" r="7.7" fill="#c79590"/>
<circle cx="917" cy="2064" r="7.7" fill="#cd958e"/>
<circle cx="913" cy="2072" r="7.7" fill="#c8948d"/>
<circle cx="907" cy="2082" r="7.7" fill="#d0958d"/>
<circle cx="900" cy="2090" r="7.7" fill="#d99592"/>
<circle cx="893" cy="2075" r="7.7" fill="#d59b8d"/>
<circle cx="888" cy="2060" r="7.7" fill="#d3998d"/>
<circle cx="882" cy="2093" r="7.7" fill="#db958c"/>
<circle cx="885" cy="2091" r="7.7" fill="#d59188"/>
<circle cx="890" cy="2092" r="7.7" fill="#d98e86"/>
<circle cx="893" cy="2099" r="7.7" fill="#d9928b"/>
<circle cx="899" cy="2098" r="7.7" fill="#d99289"/>
<circle cx="898" cy="2108" r="7.7" fill="#de9489"/>
<circle cx="905" cy="2109" r="7.7" fill="#d9928c"/>
<circle cx="902" cy="2114" r="7.7" fill="#de958d"/>
<circle cx="901" cy="2120" r="7.7" fill="#e19490"/>
<circle cx="903" cy="2123" r="7.7" fill="#dd9390"/>
<circle cx="918" cy="2127" r="7.7" fill="#da9191"/>
<circle cx="903" cy="2135" r="7.7" fill="#e1928f"/>
<circle cx="908" cy="2138" r="7.7" fill="#df908d"/>
<circle cx="908" cy="2144" r="7.7" fill="#e39294"/>
<circle cx="920" cy="2130" r="7.7" fill="#e49080"/>
<circle cx="903" cy="2172" r="7.7" fill="#e3928e"/>
<circle cx="896" cy="2179" r="7.7" fill="#e18e8d"/>
<circle cx="899" cy="2179" r="7.7" fill="#e09492"/>
<circle cx="900" cy="2187" r="7.7" fill="#e79492"/>
<circle cx="896" cy="2191" r="7.7" fill="#e08e8c"/>
<circle cx="905" cy="2189" r="7.7" fill="#e18f90"/>
<circle cx="911" cy="2191" r="7.7" fill="#df8e90"/>
<circle cx="910" cy="2191" r="7.7" fill="#e68d94"/>
<circle cx="914" cy="2198" r="7.7" fill="#e59091"/>
<circle cx="912" cy="2205" r="7.7" fill="#e79294"/>
<circle cx="915" cy="2206" r="7.7" fill="#dd888c"/>
<circle cx="919" cy="2209" r="7.7" fill="#e49191"/>
<circle cx="928" cy="2203" r="7.7" fill="#e09090"/>
<circle cx="930" cy="2206" r="7.7" fill="#e39092"/>
<circle cx="912" cy="2216" r="7.7" fill="#e18b8c"/>
<circle cx="900" cy="2180" r="7.7" fill="#de8e8b"/>
<circle cx="905" cy="2170" r="7.7" fill="#e2928d"/>
<circle cx="998" cy="2046" r="7.7" fill="#cf9297"/>
<circle cx="1000" cy="2052" r="7.7" fill="#d29499"/>
<circle cx="1005" cy="2060" r="7.7" fill="#cf969d"/>
<circle cx="1001" cy="2059" r="7.7" fill="#d1999d"/>
<circle cx="989" cy="2058" r="7.7" fill="#c79195"/>
<circle cx="990" cy="2059" r="7.7" fill="#cc8e94"/>
<circle cx="1004" cy="2073" r="7.7" fill="#c78a96"/>
<circle cx="991" cy="2067" r="7.7" fill="#c68b97"/>
<circle cx="994" cy="2075" r="7.7" fill="#c78a96"/>
<circle cx="985" cy="2072" r="7.7" fill="#c38c96"/>
<circle cx="980" cy="2072" r="7.7" fill="#c08992"/>
<circle cx="981" cy="2079" r="7.7" fill="#c58994"/>
<circle cx="994" cy="2089" r="7.7" fill="#c98c97"/>
<circle cx="980" cy="2085" r="7.7" fill="#c78e99"/>
<circle cx="982" cy="2089" r="7.7" fill="#c88c99"/>
<circle cx="974" cy="2088" r="7.7" fill="#cc8b97"/>
<circle cx="972" cy="2094" r="7.7" fill="#ca8794"/>
<circle cx="974" cy="2090" r="7.7" fill="#cb8e99"/>
<circle cx="969" cy="2094" r="7.7" fill="#ca8c98"/>
<circle cx="976" cy="2100" r="7.7" fill="#ca8a93"/>
<circle cx="982" cy="2098" r="7.7" fill="#cf8c9a"/>
<circle cx="986" cy="2103" r="7.7" fill="#cd8995"/>
<circle cx="971" cy="2108" r="7.7" fill="#cb8899"/>
<circle cx="976" cy="2111" r="7.7" fill="#cd8a96"/>
<circle cx="975" cy="2115" r="7.7" fill="#cd8895"/>
<circle cx="980" cy="2118" r="7.7" fill="#ce899c"/>
<circle cx="981" cy="2120" r="7.7" fill="#cf8a98"/>
<circle cx="964" cy="2125" r="7.7" fill="#d28e97"/>
<circle cx="982" cy="2125" r="7.7" fill="#cb8a95"/>
<circle cx="978" cy="2131" r="7.7" fill="#d38b94"/>
<circle cx="978" cy="2133" r="7.7" fill="#d88f98"/>
<circle cx="981" cy="2138" r="7.7" fill="#d88c95"/>
<circle cx="981" cy="2137" r="7.7" fill="#d78d96"/>
<circle cx="967" cy="2139" r="7.7" fill="#db8c94"/>
<circle cx="971" cy="2142" r="7.7" fill="#d88a95"/>
<circle cx="970" cy="2147" r="7.7" fill="#dd8c94"/>
<circle cx="994" cy="2151" r="7.7" fill="#d98f92"/>
<circle cx="975" cy="2152" r="7.7" fill="#db8c94"/>
<circle cx="965" cy="2156" r="7.7" fill="#db8b97"/>
<circle cx="970" cy="2157" r="7.7" fill="#d98996"/>
<circle cx="969" cy="2161" r="7.7" fill="#db8c94"/>
<circle cx="976" cy="2163" r="7.7" fill="#d98f94"/>
<circle cx="968" cy="2168" r="7.7" fill="#d98c93"/>
<circle cx="969" cy="2171" r="7.7" fill="#db8c93"/>
<circle cx="967" cy="2175" r="7.7" fill="#dc8c92"/>
<circle cx="969" cy="2179" r="7.7" fill="#e28e91"/>
<circle cx="974" cy="2177" r="7.7" fill="#dd8d93"/>
<circle cx="982" cy="2177" r="7.7" fill="#e08c92"/>
<circle cx="971" cy="2185" r="7.7" fill="#e08d93"/>
<circle cx="974" cy="2190" r="7.7" fill="#e28e90"/>
<circle cx="971" cy="2195" r="7.7" fill="#de8a93"/>
<circle cx="979" cy="2193" r="7.7" fill="#de8a91"/>
<circle cx="980" cy="2205" r="7.7" fill="#e08d92"/>
<circle cx="985" cy="2199" r="7.7" fill="#dc8b94"/>
<circle cx="952" cy="2086" r="7.7" fill="#d29499"/>
<circle cx="949" cy="2085" r="7.7" fill="#d49098"/>
<circle cx="955" cy="2095" r="7.7" fill="#ce8b95"/>
<circle cx="947" cy="2095" r="7.7" fill="#d18f96"/>
<circle cx="944" cy="2095" r="7.7" fill="#d28e98"/>
<circle cx="945" cy="2099" r="7.7" fill="#d09399"/>
<circle cx="942" cy="2102" r="7.7" fill="#d28f97"/>
<circle cx="940" cy="2108" r="7.7" fill="#d19097"/>
<circle cx="937" cy="2111" r="7.7" fill="#d09192"/>
<circle cx="944" cy="2116" r="7.7" fill="#d18c94"/>
<circle cx="950" cy="2118" r="7.7" fill="#d39197"/>
<circle cx="947" cy="2119" r="7.7" fill="#d59299"/>
<circle cx="946" cy="2123" r="7.7" fill="#d48992"/>
<circle cx="943" cy="2127" r="7.7" fill="#d99197"/>
<circle cx="941" cy="2137" r="7.7" fill="#d48c8f"/>
<circle cx="934" cy="2135" r="7.7" fill="#d78c90"/>
<circle cx="937" cy="2138" r="7.7" fill="#db9293"/>
<circle cx="926" cy="2135" r="7.7" fill="#dd9193"/>
<circle cx="933" cy="2145" r="7.7" fill="#de8e93"/>
<circle cx="925" cy="2147" r="7.7" fill="#db8a8b"/>
<circle cx="930" cy="2148" r="7.7" fill="#da8c91"/>
<circle cx="932" cy="2155" r="7.7" fill="#dd8f95"/>
<circle cx="939" cy="2157" r="7.7" fill="#da8b8f"/>
<circle cx="934" cy="2164" r="7.7" fill="#de8d92"/>
<circle cx="940" cy="2166" r="7.7" fill="#df8f8d"/>
<circle cx="941" cy="2167" r="7.7" fill="#de8e91"/>
<circle cx="948" cy="2171" r="7.7" fill="#da8c8f"/>
<circle cx="920" cy="2180" r="7.7" fill="#df8e8e"/>
<circle cx="939" cy="2178" r="7.7" fill="#dc8d94"/>
<circle cx="934" cy="2183" r="7.7" fill="#de8f93"/>
<circle cx="939" cy="2189" r="7.7" fill="#e18e90"/>
<circle cx="938" cy="2192" r="7.7" fill="#e29193"/>
<circle cx="944" cy="2197" r="7.7" fill="#de9093"/>
<circle cx="946" cy="2197" r="7.7" fill="#db898d"/>
<circle cx="941" cy="2201" r="7.7" fill="#e08f93"/>
<circle cx="951" cy="2207" r="7.7" fill="#e69295"/>
<circle cx="934" cy="2204" r="7.7" fill="#e18f91"/>
<circle cx="946" cy="2186" r="7.7" fill="#dd8b93"/>
<circle cx="949" cy="2193" r="7.7" fill="#e39095"/>
<circle cx="949" cy="2200" r="7.7" fill="#e39195"/>
<circle cx="960" cy="2203" r="7.7" fill="#de8d92"/>
<circle cx="957" cy="2193" r="7.7" fill="#df8f93"/>
<circle cx="953" cy="2192" r="7.7" fill="#e18d91"/>
<circle cx="954" cy="2188" r="7.7" fill="#dd8e93"/>
<circle cx="1028" cy="2039" r="7.7" fill="#c49aa8"/>
<circle cx="1061" cy="2039" r="7.7" fill="#9a7f9f"/>
<circle cx="1076" cy="2045" r="7.7" fill="#ad8e84"/>
<circle cx="1081" cy="2045" r="7.7" fill="#a78d81"/>
<circle cx="1088" cy="2043" r="7.7" fill="#ac8d83"/>
<circle cx="1095" cy="2042" r="7.7" fill="#ac8c83"/>
<circle cx="1099" cy="2039" r="7.7" fill="#ab8e7f"/>
<circle cx="1112" cy="2023" r="7.7" fill="#959679"/>
<circle cx="1111" cy="2031" r="7.7" fill="#959378"/>
<circle cx="1121" cy="2026" r="7.7" fill="#939a7b"/>
<circle cx="1124" cy="2024" r="7.7" fill="#95957e"/>
<circle cx="1127" cy="2025" r="7.7" fill="#94987b"/>
<circle cx="1135" cy="2025" r="7.7" fill="#999c7a"/>
<circle cx="1132" cy="2034" r="7.7" fill="#949873"/>
<circle cx="1140" cy="2033" r="7.7" fill="#95946b"/>
<circle cx="1145" cy="2034" r="7.7" fill="#9a966c"/>
<circle cx="1142" cy="2042" r="7.7" fill="#9c8e65"/>
<circle cx="1142" cy="2047" r="7.7" fill="#9e8e64"/>
<circle cx="1139" cy="2047" r="7.7" fill="#9f8d65"/>
<circle cx="1138" cy="2051" r="7.7" fill="#a29068"/>
<circle cx="1136" cy="2056" r="7.7" fill="#a18b66"/>
<circle cx="1142" cy="2060" r="7.7" fill="#a6906e"/>
<circle cx="1135" cy="2063" r="7.7" fill="#ab9071"/>
<circle cx="1134" cy="2065" r="7.7" fill="#a98d71"/>
<circle cx="1130" cy="2070" r="7.7" fill="#b1927b"/>
<circle cx="1123" cy="2068" r="7.7" fill="#ad8e76"/>
<circle cx="1124" cy="2068" r="7.7" fill="#b59280"/>
<circle cx="1115" cy="2070" r="7.7" fill="#b69285"/>
<circle cx="1114" cy="2064" r="7.7" fill="#b89382"/>
<circle cx="1118" cy="2056" r="7.7" fill="#b99686"/>
<circle cx="1108" cy="2056" r="7.7" fill="#bd9288"/>
<circle cx="1114" cy="2050" r="7.7" fill="#c09687"/>
<circle cx="1102" cy="2053" r="7.7" fill="#bf9988"/>
<circle cx="1104" cy="2045" r="7.7" fill="#bc9685"/>
<circle cx="1109" cy="2042" r="7.7" fill="#aa9180"/>
<circle cx="1106" cy="2032" r="7.7" fill="#ac947e"/>
<circle cx="1107" cy="2033" r="7.7" fill="#a09075"/>
<circle cx="1122" cy="2074" r="7.7" fill="#b08c72"/>
<circle cx="1123" cy="2077" r="7.7" fill="#b18f74"/>
<circle cx="1118" cy="2076" r="7.7" fill="#ae8f71"/>
<circle cx="1127" cy="2083" r="7.7" fill="#b58e6f"/>
<circle cx="1112" cy="2081" r="7.7" fill="#b78f73"/>
<circle cx="1122" cy="2086" r="7.7" fill="#b28e72"/>
<circle cx="1111" cy="2088" r="7.7" fill="#bd8e77"/>
<circle cx="1112" cy="2091" r="7.7" fill="#be8b73"/>
<circle cx="1109" cy="2091" r="7.7" fill="#c38d77"/>
<circle cx="1119" cy="2096" r="7.7" fill="#bd8675"/>
<circle cx="1110" cy="2095" r="7.7" fill="#c38e7a"/>
<circle cx="1116" cy="2101" r="7.7" fill="#c59077"/>
<circle cx="1120" cy="2104" r="7.7" fill="#c58b77"/>
<circle cx="1108" cy="2103" r="7.7" fill="#c48b77"/>
<circle cx="1110" cy="2107" r="7.7" fill="#c58f79"/>
<circle cx="1099" cy="2108" r="7.7" fill="#c68d7a"/>
<circle cx="1111" cy="2110" r="7.7" fill="#c58a77"/>
<circle cx="1112" cy="2112" r="7.7" fill="#c68c7a"/>
<circle cx="1108" cy="2112" r="7.7" fill="#c28879"/>
<circle cx="1096" cy="2112" r="7.7" fill="#c68e77"/>
<circle cx="1100" cy="2118" r="7.7" fill="#c78d79"/>
<circle cx="1111" cy="2123" r="7.7" fill="#c58d79"/>
<circle cx="1102" cy="2123" r="7.7" fill="#c38b76"/>
<circle cx="1097" cy="2124" r="7.7" fill="#c68b79"/>
<circle cx="1098" cy="2125" r="7.7" fill="#c6897a"/>
<circle cx="1097" cy="2131" r="7.7" fill="#cc877d"/>
<circle cx="1096" cy="2129" r="7.7" fill="#c98879"/>
<circle cx="1099" cy="2135" r="7.7" fill="#cd8a7b"/>
<circle cx="1105" cy="2142" r="7.7" fill="#d18d81"/>
<circle cx="1101" cy="2142" r="7.7" fill="#d18d7f"/>
<circle cx="1101" cy="2147" r="7.7" fill="#d08e81"/>
<circle cx="1104" cy="2148" r="7.7" fill="#cf897f"/>
<circle cx="1083" cy="2141" r="7.7" fill="#d08c82"/>
<circle cx="1096" cy="2148" r="7.7" fill="#ce8c83"/>
<circle cx="1094" cy="2151" r="7.7" fill="#ce877d"/>
<circle cx="1097" cy="2156" r="7.7" fill="#d08b7f"/>
<circle cx="1095" cy="2158" r="7.7" fill="#d48e83"/>
<circle cx="1096" cy="2158" r="7.7" fill="#d08c81"/>
<circle cx="1093" cy="2163" r="7.7" fill="#cf887f"/>
<circle cx="1080" cy="2160" r="7.7" fill="#d08a7e"/>
<circle cx="1089" cy="2166" r="7.7" fill="#d18a7f"/>
<circle cx="1081" cy="2162" r="7.7" fill="#d68f85"/>
<circle cx="1087" cy="2169" r="7.7" fill="#d48982"/>
<circle cx="1077" cy="2173" r="7.7" fill="#da8885"/>
<circle cx="1092" cy="2179" r="7.7" fill="#d58883"/>
<circle cx="1079" cy="2178" r="7.7" fill="#dc8a85"/>
<circle cx="1074" cy="2179" r="7.7" fill="#da8c86"/>
<circle cx="1077" cy="2180" r="7.7" fill="#da8e83"/>
<circle cx="1070" cy="2180" r="7.7" fill="#d78784"/>
<circle cx="1075" cy="2184" r="7.7" fill="#db8b85"/>
<circle cx="1072" cy="2188" r="7.7" fill="#dd8d89"/>
<circle cx="1075" cy="2189" r="7.7" fill="#de8d86"/>
<circle cx="1070" cy="2190" r="7.7" fill="#d98983"/>
<circle cx="1068" cy="2187" r="7.7" fill="#d7877f"/>
<circle cx="1076" cy="2198" r="7.7" fill="#dc8d88"/>
<circle cx="1060" cy="2193" r="7.7" fill="#d4847f"/>
<circle cx="1063" cy="2199" r="7.7" fill="#db8886"/>
<circle cx="1062" cy="2200" r="7.7" fill="#dc8d88"/>
<circle cx="1062" cy="2201" r="7.7" fill="#d98a84"/>
<circle cx="1057" cy="2203" r="7.7" fill="#da8d84"/>
<circle cx="1049" cy="2201" r="7.7" fill="#da8684"/>
<circle cx="1054" cy="2204" r="7.7" fill="#de8d87"/>
<circle cx="1054" cy="2211" r="7.7" fill="#da8a86"/>
<circle cx="1058" cy="2217" r="7.7" fill="#de8986"/>
<circle cx="1052" cy="2212" r="7.7" fill="#dc8587"/>
<circle cx="1055" cy="2220" r="7.7" fill="#e48e88"/>
<circle cx="1056" cy="2218" r="7.7" fill="#de8b87"/>
<circle cx="1044" cy="2219" r="7.7" fill="#e18688"/>
<circle cx="1045" cy="2221" r="7.7" fill="#e28b8a"/>
<circle cx="1054" cy="2232" r="7.7" fill="#e38c8b"/>
<circle cx="1047" cy="2232" r="7.7" fill="#e08989"/>
<circle cx="1049" cy="2229" r="7.7" fill="#e48f8c"/>
<circle cx="1045" cy="2235" r="7.7" fill="#e08887"/>
<circle cx="1043" cy="2235" r="7.7" fill="#e08785"/>
<circle cx="1037" cy="2233" r="7.7" fill="#de8986"/>
<circle cx="1035" cy="2233" r="7.7" fill="#dd8885"/>
<circle cx="1036" cy="2236" r="7.7" fill="#e08e87"/>
<circle cx="1026" cy="2236" r="7.7" fill="#e18a89"/>
<circle cx="1037" cy="2245" r="7.7" fill="#e2898a"/>
<circle cx="1037" cy="2246" r="7.7" fill="#e18a8a"/>
<circle cx="1042" cy="2258" r="7.7" fill="#e28888"/>
<circle cx="1022" cy="2248" r="7.7" fill="#df8987"/>
<circle cx="1020" cy="2246" r="7.7" fill="#dd8b8a"/>
<circle cx="1028" cy="2259" r="7.7" fill="#e18b8a"/>
<circle cx="1018" cy="2249" r="7.7" fill="#df8a8a"/>
<circle cx="1018" cy="2256" r="7.7" fill="#e28b8c"/>
<circle cx="1135" cy="2099" r="7.7" fill="#ca7e64"/>
<circle cx="1140" cy="2098" r="7.7" fill="#c77c64"/>
<circle cx="1143" cy="2096" r="7.7" fill="#cc7e66"/>
<circle cx="1148" cy="2092" r="7.7" fill="#c77864"/>
<circle cx="1152" cy="2094" r="7.7" fill="#ca8167"/>
<circle cx="1155" cy="2089" r="7.7" fill="#c47a61"/>
<circle cx="1163" cy="2091" r="7.7" fill="#cb8166"/>
<circle cx="1165" cy="2087" r="7.7" fill="#c27861"/>
<circle cx="1165" cy="2095" r="7.7" fill="#d07058"/>
<circle cx="1145" cy="2125" r="7.7" fill="#d88078"/>
<circle cx="1071" cy="2101" r="7.7" fill="#d07c80"/>
<circle cx="1036" cy="2077" r="7.7" fill="#c88d89"/>
<circle cx="1023" cy="2090" r="7.7" fill="#c98e88"/>
<circle cx="1048" cy="2087" r="7.7" fill="#c89089"/>
<circle cx="1003" cy="2101" r="7.7" fill="#c9918b"/>
<circle cx="1030" cy="2072" r="7.7" fill="#c79189"/>
<circle cx="1015" cy="2086" r="7.7" fill="#c58e8a"/>
<circle cx="1007" cy="2074" r="7.7" fill="#cc7880"/>
<circle cx="1082" cy="2223" r="7.7" fill="#dd8984"/>
<circle cx="1074" cy="2208" r="7.7" fill="#df8c86"/>
<circle cx="1046" cy="2225" r="7.7" fill="#e08e87"/>
<circle cx="1082" cy="2201" r="7.7" fill="#d88782"/>
<circle cx="1043" cy="2190" r="7.7" fill="#dd8a87"/>
<circle cx="1037" cy="2230" r="7.7" fill="#e1898a"/>
<circle cx="1028" cy="2223" r="7.7" fill="#df8989"/>
<circle cx="1045" cy="2215" r="7.7" fill="#dd8884"/>
<circle cx="1062" cy="2229" r="7.7" fill="#dc8786"/>
<circle cx="1092" cy="2225" r="7.7" fill="#dc8380"/>
<circle cx="1063" cy="2184" r="7.7" fill="#db8881"/>
<circle cx="1032" cy="2189" r="7.7" fill="#da8a85"/>
<circle cx="1053" cy="2204" r="7.7" fill="#db8986"/>
<circle cx="1033" cy="2202" r="7.7" fill="#dc8c89"/>
<circle cx="1071" cy="2221" r="7.7" fill="#dd8987"/>
<circle cx="1072" cy="2187" r="7.7" fill="#da8981"/>
<circle cx="1053" cy="2218" r="7.7" fill="#e48c8a"/>
<circle cx="1063" cy="2212" r="7.7" fill="#d98985"/>
<circle cx="1052" cy="2182" r="7.7" fill="#dc8c84"/>
<circle cx="1046" cy="2234" r="7.7" fill="#e18d8c"/>
<circle cx="1088" cy="2233" r="7.7" fill="#df8484"/>
<circle cx="1090" cy="2211" r="7.7" fill="#db8983"/>
<circle cx="1025" cy="2210" r="7.7" fill="#de8a88"/>
<circle cx="1068" cy="2197" r="7.7" fill="#dc8983"/>
<circle cx="1023" cy="2194" r="7.7" fill="#da878a"/>
<circle cx="1079" cy="2232" r="7.7" fill="#dd8784"/>
<circle cx="1092" cy="2200" r="7.7" fill="#db8a84"/>
<circle cx="1056" cy="2237" r="7.7" fill="#e08a87"/>
<circle cx="1055" cy="2193" r="7.7" fill="#d9867e"/>
<circle cx="1044" cy="2199" r="7.7" fill="#dc8d88"/>
<circle cx="1069" cy="2236" r="7.7" fill="#dc8483"/>
<circle cx="1157" cy="2194" r="7.7" fill="#e07b75"/>
<circle cx="1147" cy="2214" r="7.7" fill="#e67b70"/>
<circle cx="1150" cy="2226" r="7.7" fill="#e97b70"/>
<circle cx="1150" cy="2234" r="7.7" fill="#e57a71"/>
<circle cx="1130" cy="2229" r="7.7" fill="#ec7e77"/>
<circle cx="979" cy="2339" r="7.7" fill="#e28b8c"/>
<circle cx="984" cy="2340" r="7.7" fill="#e18b8a"/>
<circle cx="985" cy="2342" r="7.7" fill="#df8a8d"/>
<circle cx="984" cy="2336" r="7.7" fill="#df888a"/>
<circle cx="990" cy="2338" r="7.7" fill="#e28987"/>
<circle cx="989" cy="2333" r="7.7" fill="#e18d8c"/>
<circle cx="990" cy="2330" r="7.7" fill="#e1888b"/>
<circle cx="995" cy="2335" r="7.7" fill="#df888b"/>
<circle cx="993" cy="2331" r="7.7" fill="#e68a8e"/>
<circle cx="1001" cy="2335" r="7.7" fill="#e18c8b"/>
<circle cx="1001" cy="2329" r="7.7" fill="#e3888c"/>
<circle cx="1004" cy="2327" r="7.7" fill="#e3898f"/>
<circle cx="1007" cy="2324" r="7.7" fill="#df8989"/>
<circle cx="1011" cy="2325" r="7.7" fill="#e68b8e"/>
<circle cx="1009" cy="2324" r="7.7" fill="#e2898b"/>
<circle cx="1009" cy="2320" r="7.7" fill="#e08788"/>
<circle cx="1008" cy="2316" r="7.7" fill="#e58c8e"/>
<circle cx="1011" cy="2316" r="7.7" fill="#e18689"/>
<circle cx="1012" cy="2315" r="7.7" fill="#e18687"/>
<circle cx="1019" cy="2320" r="7.7" fill="#e2888b"/>
<circle cx="1015" cy="2305" r="7.7" fill="#e1898d"/>
<circle cx="1028" cy="2326" r="7.7" fill="#e18686"/>
<circle cx="1024" cy="2308" r="7.7" fill="#e5878a"/>
<circle cx="1026" cy="2309" r="7.7" fill="#dc8386"/>
<circle cx="1029" cy="2318" r="7.7" fill="#e38588"/>
<circle cx="1027" cy="2310" r="7.7" fill="#e5878d"/>
<circle cx="1030" cy="2301" r="7.7" fill="#e18488"/>
<circle cx="1038" cy="2312" r="7.7" fill="#df8184"/>
<circle cx="1035" cy="2300" r="7.7" fill="#e5878b"/>
<circle cx="1045" cy="2322" r="7.7" fill="#e3858d"/>
<circle cx="1045" cy="2310" r="7.7" fill="#e38488"/>
<circle cx="1039" cy="2289" r="7.7" fill="#e18586"/>
<circle cx="1049" cy="2311" r="7.7" fill="#e08187"/>
<circle cx="1044" cy="2294" r="7.7" fill="#e78789"/>
<circle cx="1051" cy="2305" r="7.7" fill="#e7898c"/>
<circle cx="1049" cy="2294" r="7.7" fill="#e18088"/>
<circle cx="1059" cy="2300" r="7.7" fill="#e28284"/>
<circle cx="1057" cy="2304" r="7.7" fill="#e38488"/>
<circle cx="1063" cy="2304" r="7.7" fill="#e58487"/>
<circle cx="1061" cy="2292" r="7.7" fill="#e38588"/>
<circle cx="1068" cy="2299" r="7.7" fill="#e38188"/>
<circle cx="1066" cy="2297" r="7.7" fill="#df8185"/>
<circle cx="1066" cy="2291" r="7.7" fill="#e38486"/>
<circle cx="1072" cy="2292" r="7.7" fill="#e28386"/>
<circle cx="1074" cy="2295" r="7.7" fill="#e58688"/>
<circle cx="1071" cy="2287" r="7.7" fill="#e38388"/>
<circle cx="1075" cy="2288" r="7.7" fill="#e48586"/>
<circle cx="1077" cy="2285" r="7.7" fill="#e5858c"/>
<circle cx="1082" cy="2287" r="7.7" fill="#e58588"/>
<circle cx="1083" cy="2284" r="7.7" fill="#e38484"/>
<circle cx="1083" cy="2284" r="7.7" fill="#e18484"/>
<circle cx="1090" cy="2283" r="7.7" fill="#e48489"/>
<circle cx="1090" cy="2285" r="7.7" fill="#e38688"/>
<circle cx="1093" cy="2281" r="7.7" fill="#e68483"/>
<circle cx="1093" cy="2277" r="7.7" fill="#de7e82"/>
<circle cx="1102" cy="2289" r="7.7" fill="#e48385"/>
<circle cx="1103" cy="2284" r="7.7" fill="#e58182"/>
<circle cx="1097" cy="2264" r="7.7" fill="#e58281"/>
<circle cx="1103" cy="2281" r="7.7" fill="#e18485"/>
<circle cx="1101" cy="2272" r="7.7" fill="#e58583"/>
<circle cx="1110" cy="2278" r="7.7" fill="#e7837f"/>
<circle cx="1109" cy="2279" r="7.7" fill="#e57d80"/>
<circle cx="1111" cy="2272" r="7.7" fill="#e37e7b"/>
<circle cx="1107" cy="2263" r="7.7" fill="#e98583"/>
<circle cx="1125" cy="2278" r="7.7" fill="#e47f81"/>
<circle cx="1114" cy="2266" r="7.7" fill="#e47e81"/>
<circle cx="1122" cy="2273" r="7.7" fill="#e27c7d"/>
<circle cx="1122" cy="2264" r="7.7" fill="#e57d7c"/>
<circle cx="1125" cy="2269" r="7.7" fill="#e47c7b"/>
<circle cx="1129" cy="2269" r="7.7" fill="#e77d7b"/>
<circle cx="1127" cy="2260" r="7.7" fill="#e57f80"/>
<circle cx="1125" cy="2254" r="7.7" fill="#e67f84"/>
<circle cx="1126" cy="2253" r="7.7" fill="#e57b7e"/>
<circle cx="1134" cy="2262" r="7.7" fill="#e37a81"/>
<circle cx="1131" cy="2257" r="7.7" fill="#e78387"/>
<circle cx="1135" cy="2250" r="7.7" fill="#e57e7f"/>
<circle cx="990" cy="2337" r="7.7" fill="#e18b8a"/>
<circle cx="971" cy="2343" r="7.7" fill="#e08b8c"/>
<circle cx="970" cy="2339" r="7.7" fill="#e4878e"/>
<circle cx="987" cy="2328" r="7.7" fill="#e38b8d"/>
<circle cx="964" cy="2336" r="7.7" fill="#e28a8d"/>
<circle cx="973" cy="2326" r="7.7" fill="#e28c8e"/>
<circle cx="969" cy="2324" r="7.7" fill="#e78c8e"/>
<circle cx="980" cy="2316" r="7.7" fill="#de898b"/>
<circle cx="969" cy="2318" r="7.7" fill="#df8789"/>
<circle cx="963" cy="2316" r="7.7" fill="#e18b90"/>
<circle cx="974" cy="2308" r="7.7" fill="#e28d8c"/>
<circle cx="963" cy="2308" r="7.7" fill="#df888a"/>
<circle cx="973" cy="2302" r="7.7" fill="#e08a8d"/>
<circle cx="963" cy="2303" r="7.7" fill="#e4908f"/>
<circle cx="957" cy="2304" r="7.7" fill="#e4898c"/>
<circle cx="950" cy="2303" r="7.7" fill="#e2888f"/>
<circle cx="963" cy="2293" r="7.7" fill="#e18b8d"/>
<circle cx="959" cy="2291" r="7.7" fill="#e18688"/>
<circle cx="949" cy="2296" r="7.7" fill="#e6908e"/>
<circle cx="953" cy="2288" r="7.7" fill="#e3898e"/>
<circle cx="954" cy="2286" r="7.7" fill="#e68a91"/>
<circle cx="969" cy="2277" r="7.7" fill="#dc888a"/>
<circle cx="945" cy="2278" r="7.7" fill="#e28a8f"/>
<circle cx="958" cy="2270" r="7.7" fill="#e68f92"/>
<circle cx="966" cy="2266" r="7.7" fill="#e78e8f"/>
<circle cx="954" cy="2267" r="7.7" fill="#e28b8b"/>
<circle cx="954" cy="2265" r="7.7" fill="#e68b8d"/>
<circle cx="958" cy="2260" r="7.7" fill="#e48b8b"/>
<circle cx="937" cy="2257" r="7.7" fill="#e28c8e"/>
<circle cx="948" cy="2258" r="7.7" fill="#e38f8e"/>
<circle cx="946" cy="2254" r="7.7" fill="#e18a8a"/>
<circle cx="945" cy="2250" r="7.7" fill="#e6908f"/>
<circle cx="941" cy="2297" r="7.7" fill="#e78c8f"/>
<circle cx="952" cy="2315" r="7.7" fill="#e28e8d"/>
<circle cx="975" cy="2254" r="7.7" fill="#e18a8e"/>
<circle cx="1003" cy="2233" r="7.7" fill="#db8788"/>
<circle cx="1008" cy="2233" r="7.7" fill="#e28c8a"/>
<circle cx="1043" cy="2266" r="7.7" fill="#df8684"/>
<circle cx="1064" cy="2277" r="7.7" fill="#e18588"/>
<circle cx="1094" cy="2262" r="7.7" fill="#e48386"/>
<circle cx="1112" cy="2244" r="7.7" fill="#e57f7d"/>
<circle cx="978" cy="2274" r="7.7" fill="#df8d8b"/>
<circle cx="984" cy="2285" r="7.7" fill="#e0898c"/>
<circle cx="979" cy="2284" r="7.7" fill="#de8989"/>
<circle cx="977" cy="2289" r="7.7" fill="#e48c90"/>
<circle cx="981" cy="2294" r="7.7" fill="#e4898c"/>
<circle cx="977" cy="2300" r="7.7" fill="#e08d8b"/>
<circle cx="985" cy="2299" r="7.7" fill="#e68c8e"/>
<circle cx="999" cy="2297" r="7.7" fill="#e28e8c"/>
<circle cx="992" cy="2308" r="7.7" fill="#e58b8c"/>
<circle cx="998" cy="2301" r="7.7" fill="#e28c8b"/>
<circle cx="998" cy="2297" r="7.7" fill="#e18b8b"/>
<circle cx="994" cy="2297" r="7.7" fill="#e38e90"/>
<circle cx="1008" cy="2291" r="7.7" fill="#df8588"/>
<circle cx="998" cy="2288" r="7.7" fill="#e28e8e"/>
<circle cx="985" cy="2317" r="7.7" fill="#e48789"/>
<circle cx="977" cy="2323" r="7.7" fill="#e08786"/>
<circle cx="975" cy="2333" r="7.7" fill="#e58b8d"/>
<circle cx="994" cy="2334" r="7.7" fill="#e4898d"/>
<circle cx="981" cy="2316" r="7.7" fill="#df8889"/>
<circle cx="979" cy="2324" r="7.7" fill="#dd8b8b"/>
<circle cx="996" cy="2330" r="7.7" fill="#e18c8b"/>
<circle cx="974" cy="2327" r="7.7" fill="#e2898e"/>
<circle cx="995" cy="2334" r="7.7" fill="#de8c8b"/>
<circle cx="980" cy="2319" r="7.7" fill="#e38e8d"/>
<circle cx="989" cy="2331" r="7.7" fill="#e38f8f"/>
<circle cx="991" cy="2323" r="7.7" fill="#de8787"/>
<circle cx="993" cy="2338" r="7.7" fill="#e0868b"/>
<circle cx="975" cy="2333" r="7.7" fill="#e38b8d"/>
<circle cx="990" cy="2338" r="7.7" fill="#df878a"/>
<circle cx="982" cy="2326" r="7.7" fill="#e18d8d"/>
<circle cx="992" cy="2338" r="7.7" fill="#e0888b"/>
<circle cx="963" cy="2326" r="7.7" fill="#e18a8c"/>
<circle cx="980" cy="2343" r="14" fill="#e28a8c"/>
<circle cx="1827" cy="1714" r="7.7" fill="#aa6f59"/>
<circle cx="1825" cy="1724" r="7.7" fill="#a56b5a"/>
<circle cx="1829" cy="1721" r="7.7" fill="#a46c61"/>
<circle cx="1831" cy="1720" r="7.7" fill="#a36a5c"/>
<circle cx="1830" cy="1728" r="7.7" fill="#a96e67"/>
<circle cx="1835" cy="1721" r="7.7" fill="#a36761"/>
<circle cx="1841" cy="1720" r="7.7" fill="#9f6c64"/>
<circle cx="1839" cy="1729" r="7.7" fill="#a1686a"/>
<circle cx="1843" cy="1720" r="7.7" fill="#9e6969"/>
<circle cx="1843" cy="1733" r="7.7" fill="#9f6a70"/>
<circle cx="1844" cy="1729" r="7.7" fill="#aa6d72"/>
<circle cx="1848" cy="1727" r="7.7" fill="#a9666b"/>
<circle cx="1846" cy="1731" r="7.7" fill="#b06467"/>
<circle cx="1848" cy="1728" r="7.7" fill="#b56365"/>
<circle cx="1848" cy="1734" r="7.7" fill="#bd665e"/>
<circle cx="1850" cy="1732" r="7.7" fill="#c2615e"/>
<circle cx="1850" cy="1737" r="7.7" fill="#c7625c"/>
<circle cx="1853" cy="1740" r="7.7" fill="#cb655d"/>
<circle cx="1857" cy="1730" r="7.7" fill="#d25c51"/>
<circle cx="1861" cy="1739" r="7.7" fill="#d65d50"/>
<circle cx="1861" cy="1745" r="7.7" fill="#d85950"/>
<circle cx="1864" cy="1735" r="7.7" fill="#d4564c"/>
<circle cx="1867" cy="1737" r="7.7" fill="#d4564b"/>
<circle cx="1868" cy="1742" r="7.7" fill="#d5544f"/>
<circle cx="1868" cy="1736" r="7.7" fill="#d5544b"/>
<circle cx="1874" cy="1731" r="7.7" fill="#d4524e"/>
<circle cx="1872" cy="1735" r="7.7" fill="#cf4c44"/>
<circle cx="1873" cy="1738" r="7.7" fill="#d25249"/>
<circle cx="1876" cy="1741" r="7.7" fill="#d04a48"/>
<circle cx="1883" cy="1731" r="7.7" fill="#d24b47"/>
<circle cx="1883" cy="1740" r="7.7" fill="#d14b44"/>
<circle cx="1880" cy="1729" r="7.7" fill="#d34a41"/>
<circle cx="1886" cy="1743" r="7.7" fill="#d2453f"/>
<circle cx="1888" cy="1737" r="7.7" fill="#d04441"/>
<circle cx="1889" cy="1742" r="7.7" fill="#d74844"/>
<circle cx="1889" cy="1728" r="7.7" fill="#d6413d"/>
<circle cx="1894" cy="1740" r="7.7" fill="#d43e42"/>
<circle cx="1894" cy="1746" r="7.7" fill="#d63f3d"/>
<circle cx="1897" cy="1740" r="7.7" fill="#db423e"/>
<circle cx="1898" cy="1746" r="7.7" fill="#db3b3f"/>
<circle cx="1900" cy="1740" r="7.7" fill="#d63b3b"/>
<circle cx="1904" cy="1741" r="7.7" fill="#d33738"/>
<circle cx="1904" cy="1736" r="7.7" fill="#d53c3c"/>
<circle cx="1906" cy="1741" r="7.7" fill="#d43b39"/>
<circle cx="1910" cy="1737" r="7.7" fill="#ce3a39"/>
<circle cx="1915" cy="1734" r="7.7" fill="#d23c3a"/>
<circle cx="1905" cy="1748" r="7.7" fill="#cf3b38"/>
<circle cx="1916" cy="1738" r="7.7" fill="#d23c37"/>
<circle cx="1909" cy="1750" r="7.7" fill="#ca3c3a"/>
<circle cx="1916" cy="1741" r="7.7" fill="#c83934"/>
<circle cx="1826" cy="1717" r="7.7" fill="#a87058"/>
<circle cx="1954" cy="1801" r="7.7" fill="#cc3235"/>
<circle cx="1931" cy="1798" r="7.7" fill="#b53845"/>
<circle cx="1926" cy="1790" r="7.7" fill="#b23c49"/>
<circle cx="1937" cy="1809" r="7.7" fill="#c2373c"/>
<circle cx="1962" cy="1809" r="7.7" fill="#cb3936"/>
<circle cx="1945" cy="1814" r="7.7" fill="#cc3939"/>
<circle cx="2008" cy="1815" r="7.7" fill="#d62321"/>
<circle cx="1915" cy="1791" r="7.7" fill="#b33b4b"/>
<circle cx="1995" cy="1825" r="7.7" fill="#cf2023"/>
<circle cx="1922" cy="1812" r="7.7" fill="#ba4146"/>
<circle cx="2014" cy="1819" r="7.7" fill="#d42222"/>
<circle cx="1908" cy="1817" r="7.7" fill="#ab4a55"/>
<circle cx="1895" cy="1813" r="7.7" fill="#a65058"/>
<circle cx="1917" cy="1828" r="7.7" fill="#c03d39"/>
<circle cx="1966" cy="1828" r="7.7" fill="#c83633"/>
<circle cx="1913" cy="1808" r="7.7" fill="#b04350"/>
<circle cx="1968" cy="1795" r="7.7" fill="#cd2f31"/>
<circle cx="1981" cy="1827" r="7.7" fill="#cd2929"/>
<circle cx="1984" cy="1805" r="7.7" fill="#d52223"/>
<circle cx="1898" cy="1799" r="7.7" fill="#91465d"/>
<circle cx="1981" cy="1815" r="7.7" fill="#d12828"/>
<circle cx="1937" cy="1825" r="7.7" fill="#c63c35"/>
<circle cx="1964" cy="1803" r="7.7" fill="#ca3132"/>
<circle cx="1939" cy="1797" r="7.7" fill="#c43535"/>
<circle cx="1960" cy="1821" r="7.7" fill="#cd3c3b"/>
<circle cx="2005" cy="1831" r="7.7" fill="#d32322"/>
<circle cx="1958" cy="1797" r="7.7" fill="#d03535"/>
<circle cx="1882" cy="1793" r="7.7" fill="#8f5865"/>
<circle cx="1920" cy="1801" r="7.7" fill="#ae384a"/>
<circle cx="1928" cy="1806" r="7.7" fill="#b63c42"/>
<circle cx="1890" cy="1791" r="7.7" fill="#91495c"/>
<circle cx="1952" cy="1822" r="7.7" fill="#cb3b38"/>
<circle cx="1931" cy="1832" r="7.7" fill="#c63d33"/>
<circle cx="1951" cy="1793" r="7.7" fill="#c83230"/>
<circle cx="1883" cy="1806" r="7.7" fill="#905768"/>
<circle cx="1974" cy="1824" r="7.7" fill="#c92c2c"/>
<circle cx="1979" cy="1798" r="7.7" fill="#d62729"/>
<circle cx="1946" cy="1821" r="7.7" fill="#cc3a3a"/>
<circle cx="1998" cy="1811" r="7.7" fill="#d82624"/>
<circle cx="1995" cy="1806" r="7.7" fill="#d82724"/>
<circle cx="1990" cy="1818" r="7.7" fill="#d02623"/>
<circle cx="1931" cy="1821" r="7.7" fill="#c73d37"/>
<circle cx="1978" cy="1806" r="7.7" fill="#d02427"/>
<circle cx="1899" cy="1819" r="7.7" fill="#a34e57"/>
<circle cx="1888" cy="1797" r="7.7" fill="#904a62"/>
<circle cx="1945" cy="1827" r="7.7" fill="#ca373b"/>
<circle cx="1916" cy="1814" r="7.7" fill="#b4434a"/>
<circle cx="1942" cy="1805" r="7.7" fill="#c5373d"/>
<circle cx="1934" cy="1793" r="7.7" fill="#b7353d"/>
<circle cx="1944" cy="1788" r="7.7" fill="#cc3436"/>
<circle cx="1888" cy="1814" r="7.7" fill="#9f4757"/>
<circle cx="1882" cy="1799" r="7.7" fill="#89596c"/>
<circle cx="2011" cy="1824" r="7.7" fill="#d62122"/>
<circle cx="1954" cy="1831" r="7.7" fill="#c63438"/>
<circle cx="1924" cy="1822" r="7.7" fill="#c73b38"/>
<circle cx="1975" cy="1834" r="7.7" fill="#d13535"/>
<circle cx="1889" cy="1808" r="7.7" fill="#964f62"/>
<circle cx="1946" cy="1833" r="7.7" fill="#ca3b38"/>
<circle cx="1957" cy="1814" r="7.7" fill="#cd373a"/>
<circle cx="1910" cy="1799" r="7.7" fill="#af3f4d"/>
<circle cx="1976" cy="1813" r="7.7" fill="#d12d2c"/>
<circle cx="1904" cy="1804" r="7.7" fill="#a24a5a"/>
<circle cx="1965" cy="1817" r="7.7" fill="#ca3637"/>
<circle cx="1925" cy="1834" r="7.7" fill="#c83d36"/>
<circle cx="1969" cy="1807" r="7.7" fill="#cc2d2d"/>
<circle cx="1909" cy="1790" r="7.7" fill="#a83d4d"/>
<circle cx="2000" cy="1819" r="7.7" fill="#d62224"/>
<circle cx="1988" cy="1810" r="7.7" fill="#d82624"/>
<circle cx="1908" cy="1825" r="7.7" fill="#aa444d"/>
<circle cx="1949" cy="1806" r="7.7" fill="#c7393a"/>
<circle cx="2009" cy="1809" r="7.7" fill="#d4221f"/>
<circle cx="1936" cy="1818" r="7.7" fill="#c73c3b"/>
<circle cx="1879" cy="1788" r="7.7" fill="#ac5854"/>
<circle cx="1987" cy="1824" r="7.7" fill="#d22728"/>
<circle cx="1939" cy="1791" r="7.7" fill="#c6373b"/>
<circle cx="1912" cy="1821" r="7.7" fill="#b24549"/>
<circle cx="2005" cy="1805" r="7.7" fill="#d11e21"/>
<circle cx="1998" cy="1830" r="7.7" fill="#d52623"/>
<circle cx="1989" cy="1800" r="7.7" fill="#d72522"/>
<circle cx="1951" cy="1814" r="7.7" fill="#ca353a"/>
<circle cx="1896" cy="1804" r="7.7" fill="#95485e"/>
<circle cx="1975" cy="1793" r="7.7" fill="#d32a29"/>
<circle cx="1982" cy="1834" r="7.7" fill="#cf2c2f"/>
<circle cx="1927" cy="1827" r="7.7" fill="#ca3a35"/>
<circle cx="1903" cy="1793" r="7.7" fill="#a14456"/>
<circle cx="1965" cy="1835" r="7.7" fill="#ca3536"/>
<circle cx="1959" cy="1834" r="7.7" fill="#c63937"/>
<circle cx="1971" cy="1818" r="7.7" fill="#c62e2e"/>
<circle cx="1947" cy="1798" r="7.7" fill="#c83531"/>
<circle cx="1940" cy="1834" r="7.7" fill="#c0372f"/>
<circle cx="1931" cy="1814" r="7.7" fill="#c03b3a"/>
<circle cx="1992" cy="1833" r="7.7" fill="#d02126"/>
<circle cx="1902" cy="1810" r="7.7" fill="#a14d58"/>
<circle cx="1925" cy="1796" r="7.7" fill="#b43c4b"/>
<circle cx="1962" cy="1791" r="7.7" fill="#cd3837"/>
<circle cx="2001" cy="1825" r="7.7" fill="#d72225"/>
<circle cx="1997" cy="1800" r="7.7" fill="#d82524"/>
<circle cx="1979" cy="1821" r="7.7" fill="#cf2b30"/>
<circle cx="1897" cy="1793" r="7.7" fill="#90475b"/>
<circle cx="1974" cy="1801" r="7.7" fill="#d12a2b"/>
<circle cx="1877" cy="1797" r="7.7" fill="#88606d"/>
<circle cx="1935" cy="1803" r="7.7" fill="#bf3740"/>
<circle cx="1920" cy="1818" r="7.7" fill="#bc4341"/>
<circle cx="1954" cy="1809" r="7.7" fill="#ca3637"/>
<circle cx="1970" cy="1832" r="7.7" fill="#cb3436"/>
<circle cx="1959" cy="1803" r="7.7" fill="#cb3634"/>
<circle cx="1988" cy="1830" r="7.7" fill="#d12827"/>
<circle cx="1916" cy="1798" r="7.7" fill="#b13b4e"/>
<circle cx="1893" cy="1800" r="7.7" fill="#8c465d"/>
<circle cx="1959" cy="1827" r="7.7" fill="#cd373b"/>
<circle cx="1926" cy="1817" r="7.7" fill="#bd3a39"/>
<circle cx="2014" cy="1812" r="7.7" fill="#d72522"/>
<circle cx="1893" cy="1818" r="7.7" fill="#a35056"/>
<circle cx="1903" cy="1816" r="7.7" fill="#a94e57"/>
<circle cx="1967" cy="1811" r="7.7" fill="#cf3735"/>
<circle cx="1908" cy="1811" r="7.7" fill="#a84d57"/>
<circle cx="2006" cy="1822" r="7.7" fill="#d62526"/>
<circle cx="1919" cy="1807" r="7.7" fill="#b03b4a"/>
<circle cx="1904" cy="1821" r="7.7" fill="#ab5058"/>
<circle cx="1888" cy="1803" r="7.7" fill="#86445d"/>
<circle cx="1947" cy="1772" r="7.7" fill="#e03c18"/>
<circle cx="1898" cy="1830" r="7.7" fill="#c46850"/>
<circle cx="1877" cy="1801" r="7.7" fill="#8a6070"/>
<circle cx="1892" cy="1818" r="7.7" fill="#a85a58"/>
</g>
<line x1="206" y1="503" x2="304" y2="504" stroke="#000" stroke-width="3.2"/>
<line x1="1504" y1="817" x2="1565.5" y2="918.7" stroke="#000" stroke-width="3.2"/>
<line x1="985" y1="1342.6" x2="1093" y2="1497.5" stroke="#000" stroke-width="3.6"/>
<line x1="981" y1="2367" x2="946" y2="2430" stroke="#000" stroke-width="3.6"/>
<line x1="2087" y1="1825" x2="2142" y2="1825" stroke="#000" stroke-width="2.4"/>
<line x1="821.5" y1="1315" x2="655" y2="1415" stroke="#808080" stroke-width="3.4"/>
<path d="M628 1431.8 L654.6 1399 Q655 1408 658.4 1412.8 Q662 1419 669.5 1423.6 Z" fill="#808080"/>
<line x1="793.9" y1="2426.6" x2="636" y2="2334" stroke="#808080" stroke-width="3.4"/>
<path d="M608.4 2317.8 L649.7 2324.8 Q643 2329 639 2336 Q635 2342 634.5 2350 Z" fill="#808080"/>
<rect x="65" y="1161.4" width="512" height="10.6" fill="#4a4aff"/>
<path d="M574.7 1154.9 L615.6 1166.7 L574.7 1178.5 Z" fill="#4a4aff"/>
<path d="M71 1253.3 V1675.5 H606" fill="none" stroke="#444444" stroke-width="1.3"/>
<path d="M71 1253.3h5.5M71 1313.6h5.5M71 1373.9h5.5M71 1434.2h5.5M71 1494.6h5.5M71 1554.9h5.5M71 1615.2h5.5M71 1675.5h5.5M71 1675.5v-5.5M130.5 1675.5v-5.5M189.7 1675.5v-5.5M249.1 1675.5v-5.5M308.6 1675.5v-5.5M367.8 1675.5v-5.5M427.3 1675.5v-5.5M486.8 1675.5v-5.5M545.9 1675.5v-5.5M606 1675.5v-5.5" fill="none" stroke="#444444" stroke-width="1.1"/>
<path d="M71 1802.6 V2223.4 H606" fill="none" stroke="#444444" stroke-width="1.3"/>
<path d="M71 1802.6h5.5M71 1862.7h5.5M71 1922.8h5.5M71 1982.9h5.5M71 2043.1h5.5M71 2103.2h5.5M71 2163.3h5.5M71 2223.4h5.5M71 2223.4v-5.5M130.5 2223.4v-5.5M189.7 2223.4v-5.5M249.1 2223.4v-5.5M308.6 2223.4v-5.5M367.8 2223.4v-5.5M427.3 2223.4v-5.5M486.8 2223.4v-5.5M545.9 2223.4v-5.5M606 2223.4v-5.5" fill="none" stroke="#444444" stroke-width="1.1"/>
<path d="M86.4 1674.5C90.9 1674.4 106.4 1674.5 113.6 1673.9C120.7 1673.2 124.2 1672.4 129.5 1670.7C134.9 1668.9 140.2 1666.5 145.5 1663.3C150.9 1660.1 156.2 1655.5 161.5 1651.5C166.9 1647.5 172.7 1643.5 177.5 1639.3C182.3 1635.2 186.0 1631.1 190.3 1626.5C194.6 1622.0 198.8 1616.7 203.1 1612.2C207.4 1607.6 212.2 1603.6 215.9 1599.4C219.6 1595.1 222.3 1591.9 225.5 1586.6C228.7 1581.2 231.9 1574.3 235.1 1567.4C238.3 1560.5 241.5 1552.5 244.7 1545.0C247.9 1537.5 251.1 1530.3 254.3 1522.6C257.5 1514.9 260.7 1507.4 263.9 1498.6C267.1 1489.8 270.3 1478.6 273.5 1469.8C276.6 1461.1 279.8 1453.3 283.0 1445.9C286.2 1438.4 289.4 1432.0 292.6 1425.1C295.8 1418.1 299.0 1411.5 302.2 1404.3C305.4 1397.1 308.6 1388.8 311.8 1381.9C315.0 1375.0 318.2 1368.6 321.4 1362.7C324.6 1356.9 327.8 1351.3 331.0 1346.7C334.2 1342.2 337.4 1338.4 340.6 1335.5C343.8 1332.7 347.0 1331.0 350.2 1329.8C353.4 1328.6 356.6 1328.6 359.8 1328.2C363.0 1327.8 366.2 1328.0 369.4 1327.5C372.6 1327.1 376.3 1326.0 379.0 1325.6C381.6 1325.2 383.2 1325.0 385.4 1325.3C387.5 1325.6 389.6 1326.3 391.8 1327.5C393.9 1328.8 396.0 1330.3 398.2 1333.0C400.3 1335.6 402.4 1339.4 404.6 1343.5C406.7 1347.7 408.8 1352.9 411.0 1357.9C413.1 1363.0 415.2 1368.3 417.4 1373.9C419.5 1379.5 421.6 1385.6 423.8 1391.5C425.9 1397.4 427.5 1402.2 430.2 1409.1C432.8 1416.0 436.5 1424.8 439.7 1433.1C442.9 1441.3 446.1 1449.3 449.3 1458.7C452.5 1468.0 455.7 1478.6 458.9 1489.0C462.1 1499.4 465.3 1510.6 468.5 1521.0C471.7 1531.4 474.9 1541.5 478.1 1551.4C481.3 1561.3 484.5 1571.1 487.7 1580.2C490.9 1589.2 494.1 1598.0 497.3 1605.8C500.5 1613.5 503.7 1620.4 506.9 1626.5C510.1 1632.7 513.3 1638.2 516.5 1642.5C519.7 1646.9 522.4 1649.5 526.1 1652.8C529.8 1656.1 534.6 1659.7 538.9 1662.4C543.1 1665.0 546.9 1667.1 551.7 1668.8C556.5 1670.5 562.1 1671.7 567.7 1672.6C573.3 1673.4 582.3 1673.7 585.3 1673.9" fill="none" stroke="#ababab" stroke-width="2.8"/>
<path d="M247.9 1635.2C250.5 1631.9 258.5 1622.4 263.9 1615.4C269.2 1608.3 274.5 1600.7 279.8 1593.0C285.2 1585.2 290.5 1577.8 295.8 1569.0C301.2 1560.2 307.0 1549.8 311.8 1540.2C316.6 1530.6 320.9 1520.5 324.6 1511.4C328.3 1502.4 331.0 1494.6 334.2 1485.8C337.4 1477.0 340.6 1468.2 343.8 1458.7C347.0 1449.1 350.2 1438.7 353.4 1428.3C356.6 1417.9 359.8 1406.7 363.0 1396.3C366.2 1385.9 369.4 1375.2 372.6 1365.9C375.8 1356.6 379.0 1347.8 382.2 1340.3C385.4 1332.9 388.6 1326.4 391.8 1321.1C395.0 1315.9 398.2 1311.8 401.4 1309.0C404.6 1306.2 407.8 1305.0 411.0 1304.5C414.2 1304.0 417.4 1304.8 420.6 1306.1C423.8 1307.4 426.4 1309.5 430.2 1312.5C433.9 1315.5 438.7 1320.0 442.9 1324.3C447.2 1328.7 451.5 1333.4 455.7 1338.7C460.0 1344.1 464.8 1350.5 468.5 1356.3C472.3 1362.2 474.9 1367.2 478.1 1373.9C481.3 1380.6 484.5 1387.8 487.7 1396.3C490.9 1404.8 494.1 1414.7 497.3 1425.1C500.5 1435.5 503.7 1447.2 506.9 1458.7C510.1 1470.1 513.3 1482.4 516.5 1493.8C519.7 1505.3 522.9 1517.0 526.1 1527.4C529.3 1537.8 532.5 1547.1 535.7 1556.2C538.9 1565.3 542.1 1573.8 545.3 1581.8C548.5 1589.8 552.6 1599.1 554.9 1604.2C557.1 1609.2 558.1 1610.8 558.7 1612.2" fill="none" stroke="#0000a8" stroke-width="2.6"/>
<path d="M86.4 2222.4C90.9 2222.3 106.4 2222.4 113.6 2221.8C120.7 2221.1 124.2 2220.3 129.5 2218.6C134.9 2216.8 140.2 2214.4 145.5 2211.2C150.9 2208.0 156.2 2203.4 161.5 2199.4C166.9 2195.4 172.7 2191.4 177.5 2187.2C182.3 2183.1 186.0 2179.0 190.3 2174.4C194.6 2169.9 198.8 2164.6 203.1 2160.1C207.4 2155.5 212.2 2151.5 215.9 2147.3C219.6 2143.0 222.3 2139.8 225.5 2134.5C228.7 2129.1 231.9 2122.2 235.1 2115.3C238.3 2108.4 241.5 2100.4 244.7 2092.9C247.9 2085.4 251.1 2078.2 254.3 2070.5C257.5 2062.8 260.7 2055.3 263.9 2046.5C267.1 2037.7 270.3 2026.5 273.5 2017.7C276.6 2009.0 279.8 2001.2 283.0 1993.8C286.2 1986.3 289.4 1979.9 292.6 1973.0C295.8 1966.0 299.0 1959.4 302.2 1952.2C305.4 1945.0 308.6 1936.7 311.8 1929.8C315.0 1922.9 318.2 1916.5 321.4 1910.6C324.6 1904.8 327.8 1899.2 331.0 1894.6C334.2 1890.1 337.4 1886.3 340.6 1883.4C343.8 1880.6 347.0 1878.9 350.2 1877.7C353.4 1876.5 356.6 1876.5 359.8 1876.1C363.0 1875.7 366.2 1875.9 369.4 1875.4C372.6 1875.0 376.3 1873.9 379.0 1873.5C381.6 1873.1 383.2 1872.9 385.4 1873.2C387.5 1873.5 389.6 1874.2 391.8 1875.4C393.9 1876.7 396.0 1878.2 398.2 1880.9C400.3 1883.5 402.4 1887.3 404.6 1891.4C406.7 1895.6 408.8 1900.8 411.0 1905.8C413.1 1910.9 415.2 1916.2 417.4 1921.8C419.5 1927.4 421.6 1933.5 423.8 1939.4C425.9 1945.3 427.5 1950.1 430.2 1957.0C432.8 1963.9 436.5 1972.7 439.7 1981.0C442.9 1989.2 446.1 1997.2 449.3 2006.6C452.5 2015.9 455.7 2026.5 458.9 2036.9C462.1 2047.3 465.3 2058.5 468.5 2068.9C471.7 2079.3 474.9 2089.4 478.1 2099.3C481.3 2109.2 484.5 2119.0 487.7 2128.1C490.9 2137.1 494.1 2145.9 497.3 2153.7C500.5 2161.4 503.7 2168.3 506.9 2174.4C510.1 2180.6 513.3 2186.1 516.5 2190.4C519.7 2194.8 522.4 2197.4 526.1 2200.7C529.8 2204.0 534.6 2207.6 538.9 2210.3C543.1 2212.9 546.9 2215.0 551.7 2216.7C556.5 2218.4 562.1 2219.6 567.7 2220.5C573.3 2221.3 582.3 2221.6 585.3 2221.8" fill="none" stroke="#ababab" stroke-width="2.8"/>
<path d="M149.4 2213.5C152.5 2213.0 162.2 2212.1 167.9 2210.6C173.7 2209.2 178.6 2207.5 183.9 2204.9C189.2 2202.2 194.6 2198.9 199.9 2194.6C205.2 2190.4 211.1 2185.0 215.9 2179.3C220.7 2173.5 224.9 2166.5 228.7 2160.1C232.4 2153.7 235.1 2148.1 238.3 2140.9C241.5 2133.7 244.7 2126.0 247.9 2116.9C251.1 2107.9 254.3 2097.7 257.5 2086.5C260.7 2075.4 263.9 2062.6 267.1 2049.8C270.3 2037.0 273.5 2022.9 276.6 2009.8C279.8 1996.7 283.0 1983.7 286.2 1971.4C289.4 1959.2 292.6 1946.9 295.8 1936.2C299.0 1925.6 302.2 1916.0 305.4 1907.5C308.6 1898.9 311.8 1891.5 315.0 1885.1C318.2 1878.7 321.4 1873.2 324.6 1869.1C327.8 1865.0 331.0 1862.4 334.2 1860.5C337.4 1858.5 340.6 1857.7 343.8 1857.3C347.0 1856.8 350.2 1857.3 353.4 1857.9C356.6 1858.5 359.8 1859.8 363.0 1861.1C366.2 1862.4 369.4 1863.9 372.6 1865.9C375.8 1867.9 379.0 1870.0 382.2 1872.9C385.4 1875.9 388.6 1879.1 391.8 1883.5C395.0 1887.9 398.2 1893.3 401.4 1899.5C404.6 1905.6 407.8 1913.1 411.0 1920.3C414.2 1927.4 417.4 1934.9 420.6 1942.6C423.8 1950.4 427.0 1958.6 430.2 1966.6C433.3 1974.6 436.5 1982.9 439.7 1990.6C442.9 1998.3 446.1 2005.0 449.3 2013.0C452.5 2021.0 455.7 2029.5 458.9 2038.6C462.1 2047.6 465.3 2057.5 468.5 2067.4C471.7 2077.2 474.9 2087.6 478.1 2097.7C481.3 2107.9 484.5 2118.8 487.7 2128.1C490.9 2137.4 494.1 2146.2 497.3 2153.7C500.5 2161.2 503.7 2167.3 506.9 2172.9C510.1 2178.5 513.3 2183.3 516.5 2187.3C519.7 2191.3 523.3 2194.5 526.1 2196.9C528.9 2199.3 532.2 2200.9 533.4 2201.7" fill="none" stroke="#0000a8" stroke-width="2.6"/>
<rect x="194.8" y="1714.3" width="288.5" height="88.6" fill="#fff" stroke="#000" stroke-width="1.6"/>
<line x1="209.5" y1="1738.3" x2="281.5" y2="1738.3" stroke="#b4b4b4" stroke-width="4.6"/>
<line x1="209.5" y1="1778.9" x2="281.5" y2="1778.9" stroke="#0000a8" stroke-width="3.2"/>
<text x="-1.0" y="524" font-family='"Liberation Sans","DejaVu Sans",sans-serif' font-size="61.5" font-weight="bold" fill="#000" textLength="221.0" lengthAdjust="spacingAndGlyphs">CD8/NK</text>
<text x="334.5" y="525.6" font-family='"Liberation Sans","DejaVu Sans",sans-serif' font-size="60" font-weight="bold" fill="#0b0b0b" textLength="70.7" lengthAdjust="spacingAndGlyphs">A1</text>
<text x="858.0" y="1019" font-family='"Liberation Sans","DejaVu Sans",sans-serif' font-size="82.8" font-weight="bold" fill="#000" textLength="240.1" lengthAdjust="spacingAndGlyphs">T-cells</text>
<text x="1934.0" y="231" font-family='"Liberation Sans","DejaVu Sans",sans-serif' font-size="61.5" font-weight="bold" fill="#000" textLength="187.2" lengthAdjust="spacingAndGlyphs">B-cells</text>
<text x="2219.0" y="392.6" font-family='"Liberation Sans","DejaVu Sans",sans-serif' font-size="60" font-weight="bold" fill="#0b0b0b" textLength="76.8" lengthAdjust="spacingAndGlyphs">A2</text>
<text x="1456.8" y="812" font-family='"Liberation Sans","DejaVu Sans",sans-serif' font-size="60" font-weight="bold" fill="#0b0b0b" textLength="76.8" lengthAdjust="spacingAndGlyphs">A3</text>
<text x="1571.0" y="946" font-family='"Liberation Sans","DejaVu Sans",sans-serif' font-size="61.5" font-weight="bold" fill="#000" textLength="111.6" lengthAdjust="spacingAndGlyphs">CD4</text>
<text x="2089.7" y="995" font-family='"Liberation Sans","DejaVu Sans",sans-serif' font-size="61.5" font-weight="bold" fill="#000" textLength="386.6" lengthAdjust="spacingAndGlyphs">Macrophages</text>
<text x="2335.0" y="1215" font-family='"Liberation Sans","DejaVu Sans",sans-serif' font-size="60" font-weight="bold" fill="#0b0b0b" textLength="79.3" lengthAdjust="spacingAndGlyphs">A7</text>
<text x="1735.0" y="1153" font-family='"Liberation Sans","DejaVu Sans",sans-serif' font-size="60" font-weight="bold" fill="#0b0b0b" textLength="77.2" lengthAdjust="spacingAndGlyphs">A8</text>
<text x="1863.6" y="1376.3" font-family='"Liberation Sans","DejaVu Sans",sans-serif' font-size="61.5" font-weight="bold" fill="#000" textLength="641.0" lengthAdjust="spacingAndGlyphs">CAFs/Endothelial cells</text>
<text x="1159.0" y="1926.6" font-family='"Liberation Sans","DejaVu Sans",sans-serif' font-size="82.8" font-weight="bold" fill="#000" textLength="444.0" lengthAdjust="spacingAndGlyphs">Tumor cells</text>
<text x="1104.0" y="1537.4" font-family='"Liberation Sans","DejaVu Sans",sans-serif' font-size="60" font-weight="bold" fill="#0b0b0b" textLength="72.6" lengthAdjust="spacingAndGlyphs">A4</text>
<text x="983.0" y="2365" font-family='"Liberation Sans","DejaVu Sans",sans-serif' font-size="60" font-weight="bold" fill="#0b0b0b" textLength="74.2" lengthAdjust="spacingAndGlyphs">A5</text>
<text x="2009.0" y="1840" font-family='"Liberation Sans","DejaVu Sans",sans-serif' font-size="60" font-weight="bold" fill="#0b0b0b" textLength="76.2" lengthAdjust="spacingAndGlyphs">A6</text>
<text x="845.5" y="1191" font-family='"Liberation Serif","DejaVu Serif",serif' font-size="56.5" font-weight="normal" fill="#000" textLength="254.2" lengthAdjust="spacingAndGlyphs">Subclass C</text>
<text x="881.4" y="1257.8" font-family='"Liberation Sans","DejaVu Sans",sans-serif' font-size="61.5" font-weight="bold" fill="#000" textLength="141.8" lengthAdjust="spacingAndGlyphs">MITF</text>
<text x="896.7" y="1321.9" font-family='"Liberation Sans","DejaVu Sans",sans-serif' font-size="61.5" font-weight="bold" fill="#000" textLength="125.3" lengthAdjust="spacingAndGlyphs">MYC</text>
<text x="2116.5" y="1779.6" font-family='"Liberation Serif","DejaVu Serif",serif' font-size="56.5" font-weight="normal" fill="#000" textLength="253.1" lengthAdjust="spacingAndGlyphs">Subclass A</text>
<text x="2166.7" y="1847" font-family='"Liberation Sans","DejaVu Sans",sans-serif' font-size="61.5" font-weight="bold" fill="#000" textLength="142.8" lengthAdjust="spacingAndGlyphs">MITF</text>
<text x="797.8" y="2492.3" font-family='"Liberation Serif","DejaVu Serif",serif' font-size="56.5" font-weight="normal" fill="#000" textLength="252.7" lengthAdjust="spacingAndGlyphs">Subclass B</text>
<text x="841.4" y="2556.2" font-family='"Liberation Sans","DejaVu Sans",sans-serif' font-size="61.5" font-weight="bold" fill="#000" textLength="141.8" lengthAdjust="spacingAndGlyphs">MITF</text>
<text x="847.3" y="2623.7" font-family='"Liberation Sans","DejaVu Sans",sans-serif' font-size="61.5" font-weight="bold" fill="#000" textLength="133.6" lengthAdjust="spacingAndGlyphs">TP53</text>
<text x="199.9" y="1142.8" font-family='"Liberation Sans","DejaVu Sans",sans-serif' font-size="39.4" font-weight="bold" fill="#000" textLength="284.0" lengthAdjust="spacingAndGlyphs">Worse survival</text>
<text x="190.9" y="1212.5" font-family='"Liberation Sans","DejaVu Sans",sans-serif' font-size="39.4" font-weight="bold" fill="#000" textLength="294.0" lengthAdjust="spacingAndGlyphs">Cox Coefficient</text>
<text x="289.0" y="1750.8" font-family='"Liberation Sans","DejaVu Sans",sans-serif' font-size="33.3" font-weight="bold" fill="#000" textLength="191.1" lengthAdjust="spacingAndGlyphs">Background</text>
<text x="291.0" y="1791.4" font-family='"Liberation Sans","DejaVu Sans",sans-serif' font-size="33.3" font-weight="bold" fill="#000" textLength="166.5" lengthAdjust="spacingAndGlyphs">TRN genes</text>
<line x1="847.4" y1="1198.7" x2="1098.8" y2="1198.7" stroke="#000" stroke-width="2"/>
<line x1="2119.5" y1="1788.5" x2="2371" y2="1788.5" stroke="#000" stroke-width="2"/>
<line x1="799.7" y1="2500.3" x2="1050.7" y2="2500.3" stroke="#000" stroke-width="2"/>
<text x="1011.4" y="1263.7" font-family='"Liberation Serif","DejaVu Serif",serif' font-size="102.4" fill="#000">↑</text>
<text x="1034.4" y="1263.7" font-family='"Liberation Serif","DejaVu Serif",serif' font-size="102.4" fill="#000">↑</text>
<text x="1013.0" y="1325.4" font-family='"Liberation Serif","DejaVu Serif",serif' font-size="94.2" fill="#000">↑</text>
<text x="2301.5" y="1852.6" font-family='"Liberation Serif","DejaVu Serif",serif' font-size="104.6" fill="#000">↓</text>
<text x="977.6" y="2560.5" font-family='"Liberation Serif","DejaVu Serif",serif' font-size="94.4" fill="#000">↑</text>
<text x="977.2" y="2628.6" font-family='"Liberation Serif","DejaVu Serif",serif' font-size="96.1" fill="#000">↑</text>
</svg>
</body></html>
